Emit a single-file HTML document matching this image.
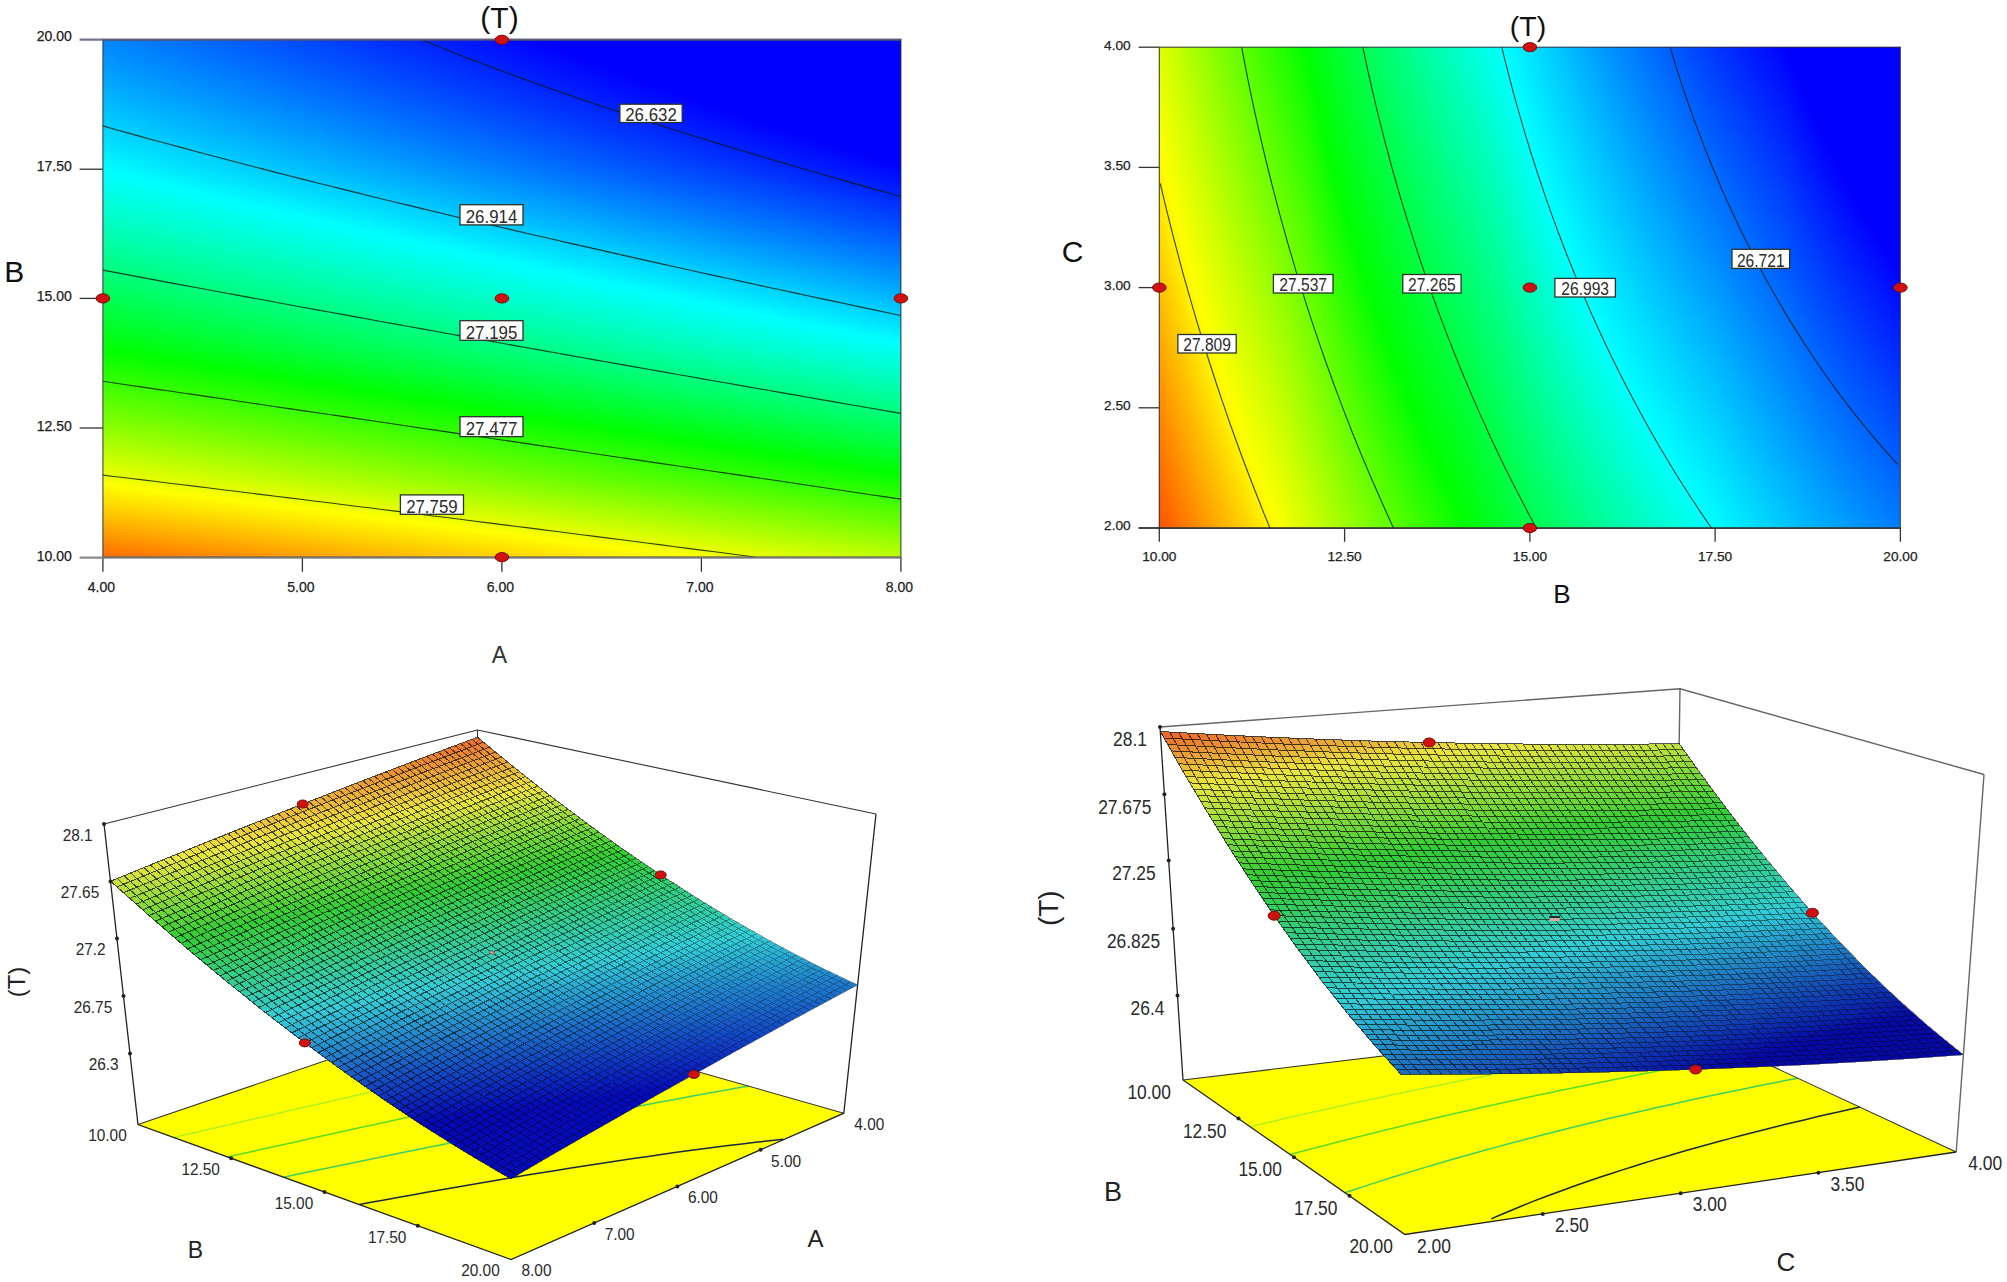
<!DOCTYPE html>
<html><head><meta charset="utf-8"><title>Figure</title>
<style>html,body{margin:0;padding:0;background:#fff}svg{display:block}text{font-family:"Liberation Sans",sans-serif}</style>
</head><body>
<svg width="2007" height="1282" viewBox="0 0 2007 1282">
<defs>
<linearGradient id="g1" ><stop offset="0" stop-color="#0088ff"/><stop offset=".549" stop-color="#0000ff"/><stop offset="1" stop-color="#0000ff"/></linearGradient>
<linearGradient id="g2" ><stop offset="0" stop-color="#008aff"/><stop offset=".558" stop-color="#0000ff"/><stop offset="1" stop-color="#0000ff"/></linearGradient>
<linearGradient id="g3" ><stop offset="0" stop-color="#008cff"/><stop offset=".568" stop-color="#0000ff"/><stop offset="1" stop-color="#0000ff"/></linearGradient>
<linearGradient id="g4" ><stop offset="0" stop-color="#008fff"/><stop offset=".577" stop-color="#0000ff"/><stop offset="1" stop-color="#0000ff"/></linearGradient>
<linearGradient id="g5" ><stop offset="0" stop-color="#0091ff"/><stop offset=".586" stop-color="#0000ff"/><stop offset="1" stop-color="#0000ff"/></linearGradient>
<linearGradient id="g6" ><stop offset="0" stop-color="#0093ff"/><stop offset=".596" stop-color="#0000ff"/><stop offset="1" stop-color="#0000ff"/></linearGradient>
<linearGradient id="g7" ><stop offset="0" stop-color="#0096ff"/><stop offset=".605" stop-color="#0000ff"/><stop offset="1" stop-color="#0000ff"/></linearGradient>
<linearGradient id="g8" ><stop offset="0" stop-color="#0098ff"/><stop offset=".615" stop-color="#0000ff"/><stop offset="1" stop-color="#0000ff"/></linearGradient>
<linearGradient id="g9" ><stop offset="0" stop-color="#009bff"/><stop offset=".625" stop-color="#0000ff"/><stop offset="1" stop-color="#0000ff"/></linearGradient>
<linearGradient id="g10" ><stop offset="0" stop-color="#009dff"/><stop offset=".634" stop-color="#0000ff"/><stop offset="1" stop-color="#0000ff"/></linearGradient>
<linearGradient id="g11" ><stop offset="0" stop-color="#00a0ff"/><stop offset=".644" stop-color="#0000ff"/><stop offset="1" stop-color="#0000ff"/></linearGradient>
<linearGradient id="g12" ><stop offset="0" stop-color="#00a2ff"/><stop offset=".654" stop-color="#0000ff"/><stop offset="1" stop-color="#0000ff"/></linearGradient>
<linearGradient id="g13" ><stop offset="0" stop-color="#00a5ff"/><stop offset=".664" stop-color="#0000ff"/><stop offset="1" stop-color="#0000ff"/></linearGradient>
<linearGradient id="g14" ><stop offset="0" stop-color="#00a7ff"/><stop offset=".674" stop-color="#0000ff"/><stop offset="1" stop-color="#0000ff"/></linearGradient>
<linearGradient id="g15" ><stop offset="0" stop-color="#00aaff"/><stop offset=".685" stop-color="#0000ff"/><stop offset="1" stop-color="#0000ff"/></linearGradient>
<linearGradient id="g16" ><stop offset="0" stop-color="#00acff"/><stop offset=".695" stop-color="#0000ff"/><stop offset="1" stop-color="#0000ff"/></linearGradient>
<linearGradient id="g17" ><stop offset="0" stop-color="#00afff"/><stop offset=".706" stop-color="#0000ff"/><stop offset="1" stop-color="#0000ff"/></linearGradient>
<linearGradient id="g18" ><stop offset="0" stop-color="#00b2ff"/><stop offset=".716" stop-color="#0000ff"/><stop offset="1" stop-color="#0000ff"/></linearGradient>
<linearGradient id="g19" ><stop offset="0" stop-color="#00b4ff"/><stop offset=".727" stop-color="#0000ff"/><stop offset="1" stop-color="#0000ff"/></linearGradient>
<linearGradient id="g20" ><stop offset="0" stop-color="#00b7ff"/><stop offset=".737" stop-color="#0000ff"/><stop offset="1" stop-color="#0000ff"/></linearGradient>
<linearGradient id="g21" ><stop offset="0" stop-color="#00baff"/><stop offset=".748" stop-color="#0000ff"/><stop offset="1" stop-color="#0000ff"/></linearGradient>
<linearGradient id="g22" ><stop offset="0" stop-color="#00bcff"/><stop offset=".759" stop-color="#0000ff"/><stop offset="1" stop-color="#0000ff"/></linearGradient>
<linearGradient id="g23" ><stop offset="0" stop-color="#00bfff"/><stop offset=".77" stop-color="#0000ff"/><stop offset="1" stop-color="#0000ff"/></linearGradient>
<linearGradient id="g24" ><stop offset="0" stop-color="#00c2ff"/><stop offset=".781" stop-color="#0000ff"/><stop offset="1" stop-color="#0000ff"/></linearGradient>
<linearGradient id="g25" ><stop offset="0" stop-color="#00c5ff"/><stop offset=".792" stop-color="#0000ff"/><stop offset="1" stop-color="#0000ff"/></linearGradient>
<linearGradient id="g26" ><stop offset="0" stop-color="#00c8ff"/><stop offset=".803" stop-color="#0000ff"/><stop offset="1" stop-color="#0000ff"/></linearGradient>
<linearGradient id="g27" ><stop offset="0" stop-color="#00cbff"/><stop offset=".815" stop-color="#0000ff"/><stop offset="1" stop-color="#0000ff"/></linearGradient>
<linearGradient id="g28" ><stop offset="0" stop-color="#00ceff"/><stop offset=".826" stop-color="#0000ff"/><stop offset="1" stop-color="#0000ff"/></linearGradient>
<linearGradient id="g29" ><stop offset="0" stop-color="#00d0ff"/><stop offset=".838" stop-color="#0000ff"/><stop offset="1" stop-color="#0000ff"/></linearGradient>
<linearGradient id="g30" ><stop offset="0" stop-color="#00d3ff"/><stop offset=".849" stop-color="#0000ff"/><stop offset="1" stop-color="#0000ff"/></linearGradient>
<linearGradient id="g31" ><stop offset="0" stop-color="#00d6ff"/><stop offset=".861" stop-color="#0000ff"/><stop offset="1" stop-color="#0000ff"/></linearGradient>
<linearGradient id="g32" ><stop offset="0" stop-color="#00d9ff"/><stop offset=".873" stop-color="#0000ff"/><stop offset="1" stop-color="#0000ff"/></linearGradient>
<linearGradient id="g33" ><stop offset="0" stop-color="#00dcff"/><stop offset=".884" stop-color="#0000ff"/><stop offset="1" stop-color="#0000ff"/></linearGradient>
<linearGradient id="g34" ><stop offset="0" stop-color="#00dfff"/><stop offset=".896" stop-color="#0000ff"/><stop offset="1" stop-color="#0000ff"/></linearGradient>
<linearGradient id="g35" ><stop offset="0" stop-color="#00e3ff"/><stop offset=".908" stop-color="#0000ff"/><stop offset="1" stop-color="#0000ff"/></linearGradient>
<linearGradient id="g36" ><stop offset="0" stop-color="#00e6ff"/><stop offset=".92" stop-color="#0000ff"/><stop offset="1" stop-color="#0000ff"/></linearGradient>
<linearGradient id="g37" ><stop offset="0" stop-color="#00e9ff"/><stop offset=".932" stop-color="#0000ff"/><stop offset="1" stop-color="#0000ff"/></linearGradient>
<linearGradient id="g38" ><stop offset="0" stop-color="#00ecff"/><stop offset=".945" stop-color="#0000ff"/><stop offset="1" stop-color="#0000ff"/></linearGradient>
<linearGradient id="g39" ><stop offset="0" stop-color="#00efff"/><stop offset=".957" stop-color="#0000ff"/><stop offset="1" stop-color="#0000ff"/></linearGradient>
<linearGradient id="g40" ><stop offset="0" stop-color="#00f2ff"/><stop offset=".969" stop-color="#0000ff"/><stop offset="1" stop-color="#0000ff"/></linearGradient>
<linearGradient id="g41" ><stop offset="0" stop-color="#00f6ff"/><stop offset=".982" stop-color="#0000ff"/><stop offset="1" stop-color="#0000ff"/></linearGradient>
<linearGradient id="g42" ><stop offset="0" stop-color="#00f9ff"/><stop offset=".994" stop-color="#0000ff"/><stop offset="1" stop-color="#0000ff"/></linearGradient>
<linearGradient id="g43" ><stop offset="0" stop-color="#00fcff"/><stop offset="1" stop-color="#0002ff"/></linearGradient>
<linearGradient id="g44" ><stop offset="0" stop-color="#00ffff"/><stop offset=".002" stop-color="#00ffff"/><stop offset="1" stop-color="#0006ff"/></linearGradient>
<linearGradient id="g45" ><stop offset="0" stop-color="#00fffb"/><stop offset=".017" stop-color="#00ffff"/><stop offset="1" stop-color="#0009ff"/></linearGradient>
<linearGradient id="g46" ><stop offset="0" stop-color="#00fff8"/><stop offset=".033" stop-color="#00ffff"/><stop offset="1" stop-color="#000dff"/></linearGradient>
<linearGradient id="g47" ><stop offset="0" stop-color="#00fff4"/><stop offset=".048" stop-color="#00ffff"/><stop offset="1" stop-color="#0010ff"/></linearGradient>
<linearGradient id="g48" ><stop offset="0" stop-color="#00fff0"/><stop offset=".064" stop-color="#00ffff"/><stop offset="1" stop-color="#0014ff"/></linearGradient>
<linearGradient id="g49" ><stop offset="0" stop-color="#00ffed"/><stop offset=".079" stop-color="#00ffff"/><stop offset="1" stop-color="#0018ff"/></linearGradient>
<linearGradient id="g50" ><stop offset="0" stop-color="#00ffe9"/><stop offset=".095" stop-color="#00ffff"/><stop offset="1" stop-color="#001cff"/></linearGradient>
<linearGradient id="g51" ><stop offset="0" stop-color="#00ffe6"/><stop offset=".111" stop-color="#00ffff"/><stop offset="1" stop-color="#001fff"/></linearGradient>
<linearGradient id="g52" ><stop offset="0" stop-color="#00ffe2"/><stop offset=".127" stop-color="#00ffff"/><stop offset="1" stop-color="#0023ff"/></linearGradient>
<linearGradient id="g53" ><stop offset="0" stop-color="#00ffde"/><stop offset=".142" stop-color="#00ffff"/><stop offset="1" stop-color="#0027ff"/></linearGradient>
<linearGradient id="g54" ><stop offset="0" stop-color="#00ffda"/><stop offset=".159" stop-color="#00ffff"/><stop offset="1" stop-color="#002bff"/></linearGradient>
<linearGradient id="g55" ><stop offset="0" stop-color="#00ffd7"/><stop offset=".175" stop-color="#00ffff"/><stop offset="1" stop-color="#002fff"/></linearGradient>
<linearGradient id="g56" ><stop offset="0" stop-color="#00ffd3"/><stop offset=".191" stop-color="#00ffff"/><stop offset="1" stop-color="#0033ff"/></linearGradient>
<linearGradient id="g57" ><stop offset="0" stop-color="#00ffcf"/><stop offset=".207" stop-color="#00ffff"/><stop offset="1" stop-color="#0036ff"/></linearGradient>
<linearGradient id="g58" ><stop offset="0" stop-color="#00ffcb"/><stop offset=".223" stop-color="#00ffff"/><stop offset="1" stop-color="#003aff"/></linearGradient>
<linearGradient id="g59" ><stop offset="0" stop-color="#00ffc7"/><stop offset=".24" stop-color="#00ffff"/><stop offset="1" stop-color="#003eff"/></linearGradient>
<linearGradient id="g60" ><stop offset="0" stop-color="#00ffc3"/><stop offset=".256" stop-color="#00ffff"/><stop offset="1" stop-color="#0042ff"/></linearGradient>
<linearGradient id="g61" ><stop offset="0" stop-color="#00ffc0"/><stop offset=".273" stop-color="#00ffff"/><stop offset="1" stop-color="#0046ff"/></linearGradient>
<linearGradient id="g62" ><stop offset="0" stop-color="#00ffbc"/><stop offset=".289" stop-color="#00ffff"/><stop offset="1" stop-color="#004aff"/></linearGradient>
<linearGradient id="g63" ><stop offset="0" stop-color="#00ffb8"/><stop offset=".306" stop-color="#00ffff"/><stop offset="1" stop-color="#004eff"/></linearGradient>
<linearGradient id="g64" ><stop offset="0" stop-color="#00ffb4"/><stop offset=".323" stop-color="#00ffff"/><stop offset="1" stop-color="#0053ff"/></linearGradient>
<linearGradient id="g65" ><stop offset="0" stop-color="#00ffb0"/><stop offset=".34" stop-color="#00ffff"/><stop offset="1" stop-color="#0057ff"/></linearGradient>
<linearGradient id="g66" ><stop offset="0" stop-color="#00ffac"/><stop offset=".357" stop-color="#00ffff"/><stop offset="1" stop-color="#005bff"/></linearGradient>
<linearGradient id="g67" ><stop offset="0" stop-color="#00ffa7"/><stop offset=".374" stop-color="#00ffff"/><stop offset="1" stop-color="#005fff"/></linearGradient>
<linearGradient id="g68" ><stop offset="0" stop-color="#00ffa3"/><stop offset=".391" stop-color="#00ffff"/><stop offset="1" stop-color="#0063ff"/></linearGradient>
<linearGradient id="g69" ><stop offset="0" stop-color="#00ff9f"/><stop offset=".408" stop-color="#00ffff"/><stop offset="1" stop-color="#0067ff"/></linearGradient>
<linearGradient id="g70" ><stop offset="0" stop-color="#00ff9b"/><stop offset=".425" stop-color="#00ffff"/><stop offset="1" stop-color="#006cff"/></linearGradient>
<linearGradient id="g71" ><stop offset="0" stop-color="#00ff97"/><stop offset=".442" stop-color="#00ffff"/><stop offset="1" stop-color="#0070ff"/></linearGradient>
<linearGradient id="g72" ><stop offset="0" stop-color="#00ff93"/><stop offset=".46" stop-color="#00ffff"/><stop offset="1" stop-color="#0074ff"/></linearGradient>
<linearGradient id="g73" ><stop offset="0" stop-color="#00ff8e"/><stop offset=".477" stop-color="#00ffff"/><stop offset="1" stop-color="#0079ff"/></linearGradient>
<linearGradient id="g74" ><stop offset="0" stop-color="#00ff8a"/><stop offset=".494" stop-color="#00ffff"/><stop offset="1" stop-color="#007dff"/></linearGradient>
<linearGradient id="g75" ><stop offset="0" stop-color="#00ff86"/><stop offset=".512" stop-color="#00ffff"/><stop offset="1" stop-color="#0081ff"/></linearGradient>
<linearGradient id="g76" ><stop offset="0" stop-color="#00ff82"/><stop offset=".529" stop-color="#00ffff"/><stop offset="1" stop-color="#0086ff"/></linearGradient>
<linearGradient id="g77" ><stop offset="0" stop-color="#00ff7d"/><stop offset=".547" stop-color="#00ffff"/><stop offset="1" stop-color="#008aff"/></linearGradient>
<linearGradient id="g78" ><stop offset="0" stop-color="#00ff79"/><stop offset=".565" stop-color="#00ffff"/><stop offset="1" stop-color="#008eff"/></linearGradient>
<linearGradient id="g79" ><stop offset="0" stop-color="#00ff74"/><stop offset=".583" stop-color="#00ffff"/><stop offset="1" stop-color="#0093ff"/></linearGradient>
<linearGradient id="g80" ><stop offset="0" stop-color="#00ff70"/><stop offset=".6" stop-color="#00ffff"/><stop offset="1" stop-color="#0097ff"/></linearGradient>
<linearGradient id="g81" ><stop offset="0" stop-color="#00ff6c"/><stop offset=".618" stop-color="#00ffff"/><stop offset="1" stop-color="#009cff"/></linearGradient>
<linearGradient id="g82" ><stop offset="0" stop-color="#00ff67"/><stop offset=".636" stop-color="#00ffff"/><stop offset="1" stop-color="#00a0ff"/></linearGradient>
<linearGradient id="g83" ><stop offset="0" stop-color="#00ff63"/><stop offset=".654" stop-color="#00ffff"/><stop offset="1" stop-color="#00a5ff"/></linearGradient>
<linearGradient id="g84" ><stop offset="0" stop-color="#00ff5e"/><stop offset=".672" stop-color="#00ffff"/><stop offset="1" stop-color="#00aaff"/></linearGradient>
<linearGradient id="g85" ><stop offset="0" stop-color="#00ff5a"/><stop offset=".69" stop-color="#00ffff"/><stop offset="1" stop-color="#00aeff"/></linearGradient>
<linearGradient id="g86" ><stop offset="0" stop-color="#00ff55"/><stop offset=".708" stop-color="#00ffff"/><stop offset="1" stop-color="#00b3ff"/></linearGradient>
<linearGradient id="g87" ><stop offset="0" stop-color="#00ff50"/><stop offset=".727" stop-color="#00ffff"/><stop offset="1" stop-color="#00b8ff"/></linearGradient>
<linearGradient id="g88" ><stop offset="0" stop-color="#00ff4c"/><stop offset=".745" stop-color="#00ffff"/><stop offset="1" stop-color="#00bcff"/></linearGradient>
<linearGradient id="g89" ><stop offset="0" stop-color="#00ff47"/><stop offset=".763" stop-color="#00ffff"/><stop offset="1" stop-color="#00c1ff"/></linearGradient>
<linearGradient id="g90" ><stop offset="0" stop-color="#00ff42"/><stop offset=".782" stop-color="#00ffff"/><stop offset="1" stop-color="#00c6ff"/></linearGradient>
<linearGradient id="g91" ><stop offset="0" stop-color="#00ff3e"/><stop offset=".8" stop-color="#00ffff"/><stop offset="1" stop-color="#00cbff"/></linearGradient>
<linearGradient id="g92" ><stop offset="0" stop-color="#00ff39"/><stop offset=".819" stop-color="#00ffff"/><stop offset="1" stop-color="#00cfff"/></linearGradient>
<linearGradient id="g93" ><stop offset="0" stop-color="#00ff34"/><stop offset=".837" stop-color="#00ffff"/><stop offset="1" stop-color="#00d4ff"/></linearGradient>
<linearGradient id="g94" ><stop offset="0" stop-color="#00ff2f"/><stop offset=".856" stop-color="#00ffff"/><stop offset="1" stop-color="#00d9ff"/></linearGradient>
<linearGradient id="g95" ><stop offset="0" stop-color="#00ff2b"/><stop offset=".874" stop-color="#00ffff"/><stop offset="1" stop-color="#00deff"/></linearGradient>
<linearGradient id="g96" ><stop offset="0" stop-color="#00ff26"/><stop offset=".893" stop-color="#00ffff"/><stop offset="1" stop-color="#00e3ff"/></linearGradient>
<linearGradient id="g97" ><stop offset="0" stop-color="#00ff21"/><stop offset=".912" stop-color="#00ffff"/><stop offset="1" stop-color="#00e8ff"/></linearGradient>
<linearGradient id="g98" ><stop offset="0" stop-color="#00ff1c"/><stop offset=".93" stop-color="#00ffff"/><stop offset="1" stop-color="#00edff"/></linearGradient>
<linearGradient id="g99" ><stop offset="0" stop-color="#00ff17"/><stop offset=".949" stop-color="#00ffff"/><stop offset="1" stop-color="#00f2ff"/></linearGradient>
<linearGradient id="g100" ><stop offset="0" stop-color="#00ff12"/><stop offset=".968" stop-color="#00ffff"/><stop offset="1" stop-color="#00f7ff"/></linearGradient>
<linearGradient id="g101" ><stop offset="0" stop-color="#00ff0d"/><stop offset=".987" stop-color="#00ffff"/><stop offset="1" stop-color="#00fcff"/></linearGradient>
<linearGradient id="g102" ><stop offset="0" stop-color="#00ff08"/><stop offset="1" stop-color="#00fffd"/></linearGradient>
<linearGradient id="g103" ><stop offset="0" stop-color="#00ff03"/><stop offset="1" stop-color="#00fff8"/></linearGradient>
<linearGradient id="g104" ><stop offset="0" stop-color="#02ff00"/><stop offset=".01" stop-color="#00ff00"/><stop offset="1" stop-color="#00fff3"/></linearGradient>
<linearGradient id="g105" ><stop offset="0" stop-color="#07ff00"/><stop offset=".034" stop-color="#00ff00"/><stop offset="1" stop-color="#00ffed"/></linearGradient>
<linearGradient id="g106" ><stop offset="0" stop-color="#0cff00"/><stop offset=".058" stop-color="#00ff00"/><stop offset="1" stop-color="#00ffe8"/></linearGradient>
<linearGradient id="g107" ><stop offset="0" stop-color="#11ff00"/><stop offset=".082" stop-color="#00ff00"/><stop offset="1" stop-color="#00ffe2"/></linearGradient>
<linearGradient id="g108" ><stop offset="0" stop-color="#17ff00"/><stop offset=".106" stop-color="#00ff00"/><stop offset="1" stop-color="#00ffdd"/></linearGradient>
<linearGradient id="g109" ><stop offset="0" stop-color="#1cff00"/><stop offset=".13" stop-color="#00ff00"/><stop offset="1" stop-color="#00ffd7"/></linearGradient>
<linearGradient id="g110" ><stop offset="0" stop-color="#21ff00"/><stop offset=".154" stop-color="#00ff00"/><stop offset="1" stop-color="#00ffd2"/></linearGradient>
<linearGradient id="g111" ><stop offset="0" stop-color="#26ff00"/><stop offset=".178" stop-color="#00ff00"/><stop offset="1" stop-color="#00ffcc"/></linearGradient>
<linearGradient id="g112" ><stop offset="0" stop-color="#2bff00"/><stop offset=".202" stop-color="#00ff00"/><stop offset="1" stop-color="#00ffc7"/></linearGradient>
<linearGradient id="g113" ><stop offset="0" stop-color="#31ff00"/><stop offset=".226" stop-color="#00ff00"/><stop offset="1" stop-color="#00ffc1"/></linearGradient>
<linearGradient id="g114" ><stop offset="0" stop-color="#36ff00"/><stop offset=".25" stop-color="#00ff00"/><stop offset="1" stop-color="#00ffbc"/></linearGradient>
<linearGradient id="g115" ><stop offset="0" stop-color="#3bff00"/><stop offset=".274" stop-color="#00ff00"/><stop offset="1" stop-color="#00ffb6"/></linearGradient>
<linearGradient id="g116" ><stop offset="0" stop-color="#41ff00"/><stop offset=".298" stop-color="#00ff00"/><stop offset="1" stop-color="#00ffb0"/></linearGradient>
<linearGradient id="g117" ><stop offset="0" stop-color="#46ff00"/><stop offset=".322" stop-color="#00ff00"/><stop offset="1" stop-color="#00ffab"/></linearGradient>
<linearGradient id="g118" ><stop offset="0" stop-color="#4cff00"/><stop offset=".346" stop-color="#00ff00"/><stop offset="1" stop-color="#00ffa5"/></linearGradient>
<linearGradient id="g119" ><stop offset="0" stop-color="#51ff00"/><stop offset=".37" stop-color="#00ff00"/><stop offset="1" stop-color="#00ff9f"/></linearGradient>
<linearGradient id="g120" ><stop offset="0" stop-color="#56ff00"/><stop offset=".394" stop-color="#00ff00"/><stop offset="1" stop-color="#00ff99"/></linearGradient>
<linearGradient id="g121" ><stop offset="0" stop-color="#5cff00"/><stop offset=".418" stop-color="#00ff00"/><stop offset="1" stop-color="#00ff94"/></linearGradient>
<linearGradient id="g122" ><stop offset="0" stop-color="#62ff00"/><stop offset=".443" stop-color="#00ff00"/><stop offset="1" stop-color="#00ff8e"/></linearGradient>
<linearGradient id="g123" ><stop offset="0" stop-color="#67ff00"/><stop offset=".467" stop-color="#00ff00"/><stop offset="1" stop-color="#00ff88"/></linearGradient>
<linearGradient id="g124" ><stop offset="0" stop-color="#6dff00"/><stop offset=".491" stop-color="#00ff00"/><stop offset="1" stop-color="#00ff82"/></linearGradient>
<linearGradient id="g125" ><stop offset="0" stop-color="#72ff00"/><stop offset=".515" stop-color="#00ff00"/><stop offset="1" stop-color="#00ff7c"/></linearGradient>
<linearGradient id="g126" ><stop offset="0" stop-color="#78ff00"/><stop offset=".539" stop-color="#00ff00"/><stop offset="1" stop-color="#00ff76"/></linearGradient>
<linearGradient id="g127" ><stop offset="0" stop-color="#7eff00"/><stop offset=".563" stop-color="#00ff00"/><stop offset="1" stop-color="#00ff70"/></linearGradient>
<linearGradient id="g128" ><stop offset="0" stop-color="#83ff00"/><stop offset=".587" stop-color="#00ff00"/><stop offset="1" stop-color="#00ff6a"/></linearGradient>
<linearGradient id="g129" ><stop offset="0" stop-color="#89ff00"/><stop offset=".611" stop-color="#00ff00"/><stop offset="1" stop-color="#00ff64"/></linearGradient>
<linearGradient id="g130" ><stop offset="0" stop-color="#8fff00"/><stop offset=".635" stop-color="#00ff00"/><stop offset="1" stop-color="#00ff5e"/></linearGradient>
<linearGradient id="g131" ><stop offset="0" stop-color="#94ff00"/><stop offset=".66" stop-color="#00ff00"/><stop offset="1" stop-color="#00ff58"/></linearGradient>
<linearGradient id="g132" ><stop offset="0" stop-color="#9aff00"/><stop offset=".684" stop-color="#00ff00"/><stop offset="1" stop-color="#00ff52"/></linearGradient>
<linearGradient id="g133" ><stop offset="0" stop-color="#a0ff00"/><stop offset=".708" stop-color="#00ff00"/><stop offset="1" stop-color="#00ff4c"/></linearGradient>
<linearGradient id="g134" ><stop offset="0" stop-color="#a6ff00"/><stop offset=".732" stop-color="#00ff00"/><stop offset="1" stop-color="#00ff46"/></linearGradient>
<linearGradient id="g135" ><stop offset="0" stop-color="#acff00"/><stop offset=".756" stop-color="#00ff00"/><stop offset="1" stop-color="#00ff40"/></linearGradient>
<linearGradient id="g136" ><stop offset="0" stop-color="#b2ff00"/><stop offset=".78" stop-color="#00ff00"/><stop offset="1" stop-color="#00ff39"/></linearGradient>
<linearGradient id="g137" ><stop offset="0" stop-color="#b8ff00"/><stop offset=".805" stop-color="#00ff00"/><stop offset="1" stop-color="#00ff33"/></linearGradient>
<linearGradient id="g138" ><stop offset="0" stop-color="#beff00"/><stop offset=".829" stop-color="#00ff00"/><stop offset="1" stop-color="#00ff2d"/></linearGradient>
<linearGradient id="g139" ><stop offset="0" stop-color="#c4ff00"/><stop offset=".853" stop-color="#00ff00"/><stop offset="1" stop-color="#00ff27"/></linearGradient>
<linearGradient id="g140" ><stop offset="0" stop-color="#caff00"/><stop offset=".877" stop-color="#00ff00"/><stop offset="1" stop-color="#00ff20"/></linearGradient>
<linearGradient id="g141" ><stop offset="0" stop-color="#d0ff00"/><stop offset=".901" stop-color="#00ff00"/><stop offset="1" stop-color="#00ff1a"/></linearGradient>
<linearGradient id="g142" ><stop offset="0" stop-color="#d6ff00"/><stop offset=".925" stop-color="#00ff00"/><stop offset="1" stop-color="#00ff14"/></linearGradient>
<linearGradient id="g143" ><stop offset="0" stop-color="#dcff00"/><stop offset=".95" stop-color="#00ff00"/><stop offset="1" stop-color="#00ff0d"/></linearGradient>
<linearGradient id="g144" ><stop offset="0" stop-color="#e2ff00"/><stop offset=".974" stop-color="#00ff00"/><stop offset="1" stop-color="#00ff07"/></linearGradient>
<linearGradient id="g145" ><stop offset="0" stop-color="#e8ff00"/><stop offset=".998" stop-color="#00ff00"/><stop offset="1" stop-color="#00ff01"/></linearGradient>
<linearGradient id="g146" ><stop offset="0" stop-color="#eeff00"/><stop offset="1" stop-color="#06ff00"/></linearGradient>
<linearGradient id="g147" ><stop offset="0" stop-color="#f4ff00"/><stop offset="1" stop-color="#0cff00"/></linearGradient>
<linearGradient id="g148" ><stop offset="0" stop-color="#fbff00"/><stop offset="1" stop-color="#13ff00"/></linearGradient>
<linearGradient id="g149" ><stop offset="0" stop-color="#fffd00"/><stop offset=".009" stop-color="#ffff00"/><stop offset="1" stop-color="#19ff00"/></linearGradient>
<linearGradient id="g150" ><stop offset="0" stop-color="#fff700"/><stop offset=".041" stop-color="#ffff00"/><stop offset="1" stop-color="#20ff00"/></linearGradient>
<linearGradient id="g151" ><stop offset="0" stop-color="#fff200"/><stop offset=".072" stop-color="#ffff00"/><stop offset="1" stop-color="#27ff00"/></linearGradient>
<linearGradient id="g152" ><stop offset="0" stop-color="#ffec00"/><stop offset=".103" stop-color="#ffff00"/><stop offset="1" stop-color="#2dff00"/></linearGradient>
<linearGradient id="g153" ><stop offset="0" stop-color="#ffe600"/><stop offset=".135" stop-color="#ffff00"/><stop offset="1" stop-color="#34ff00"/></linearGradient>
<linearGradient id="g154" ><stop offset="0" stop-color="#ffe000"/><stop offset=".166" stop-color="#ffff00"/><stop offset="1" stop-color="#3bff00"/></linearGradient>
<linearGradient id="g155" ><stop offset="0" stop-color="#ffda00"/><stop offset=".197" stop-color="#ffff00"/><stop offset="1" stop-color="#41ff00"/></linearGradient>
<linearGradient id="g156" ><stop offset="0" stop-color="#ffd400"/><stop offset=".228" stop-color="#ffff00"/><stop offset="1" stop-color="#48ff00"/></linearGradient>
<linearGradient id="g157" ><stop offset="0" stop-color="#ffce00"/><stop offset=".259" stop-color="#ffff00"/><stop offset="1" stop-color="#4fff00"/></linearGradient>
<linearGradient id="g158" ><stop offset="0" stop-color="#ffc800"/><stop offset=".289" stop-color="#ffff00"/><stop offset="1" stop-color="#56ff00"/></linearGradient>
<linearGradient id="g159" ><stop offset="0" stop-color="#ffc200"/><stop offset=".32" stop-color="#ffff00"/><stop offset="1" stop-color="#5cff00"/></linearGradient>
<linearGradient id="g160" ><stop offset="0" stop-color="#ffbc00"/><stop offset=".35" stop-color="#ffff00"/><stop offset="1" stop-color="#63ff00"/></linearGradient>
<linearGradient id="g161" ><stop offset="0" stop-color="#ffb600"/><stop offset=".381" stop-color="#ffff00"/><stop offset="1" stop-color="#6aff00"/></linearGradient>
<linearGradient id="g162" ><stop offset="0" stop-color="#ffb000"/><stop offset=".411" stop-color="#ffff00"/><stop offset="1" stop-color="#71ff00"/></linearGradient>
<linearGradient id="g163" ><stop offset="0" stop-color="#ffa900"/><stop offset=".442" stop-color="#ffff00"/><stop offset="1" stop-color="#78ff00"/></linearGradient>
<linearGradient id="g164" ><stop offset="0" stop-color="#ffa300"/><stop offset=".472" stop-color="#ffff00"/><stop offset="1" stop-color="#7fff00"/></linearGradient>
<linearGradient id="g165" ><stop offset="0" stop-color="#ff9d00"/><stop offset=".502" stop-color="#ffff00"/><stop offset="1" stop-color="#86ff00"/></linearGradient>
<linearGradient id="g166" ><stop offset="0" stop-color="#ff9700"/><stop offset=".532" stop-color="#ffff00"/><stop offset="1" stop-color="#8dff00"/></linearGradient>
<linearGradient id="g167" ><stop offset="0" stop-color="#ff9100"/><stop offset=".562" stop-color="#ffff00"/><stop offset="1" stop-color="#94ff00"/></linearGradient>
<linearGradient id="g168" ><stop offset="0" stop-color="#ff8a00"/><stop offset=".592" stop-color="#ffff00"/><stop offset="1" stop-color="#9bff00"/></linearGradient>
<linearGradient id="g169" ><stop offset="0" stop-color="#ff8400"/><stop offset=".622" stop-color="#ffff00"/><stop offset="1" stop-color="#a2ff00"/></linearGradient>
<linearGradient id="g170" ><stop offset="0" stop-color="#ff7e00"/><stop offset=".652" stop-color="#ffff00"/><stop offset="1" stop-color="#a9ff00"/></linearGradient>
<linearGradient id="g171" ><stop offset="0" stop-color="#ff7700"/><stop offset=".681" stop-color="#ffff00"/><stop offset="1" stop-color="#b0ff00"/></linearGradient>
<linearGradient id="g172" ><stop offset="0" stop-color="#ff7100"/><stop offset=".711" stop-color="#ffff00"/><stop offset="1" stop-color="#b7ff00"/></linearGradient>
<linearGradient id="g173" ><stop offset="0" stop-color="#ff6d00"/><stop offset=".731" stop-color="#ffff00"/><stop offset="1" stop-color="#bcff00"/></linearGradient>
<linearGradient id="g174" x2="0" y2="1"><stop offset="0" stop-color="#ddff00"/><stop offset=".217" stop-color="#ffff00"/><stop offset="1" stop-color="#ff5400"/></linearGradient>
<linearGradient id="g175" x2="0" y2="1"><stop offset="0" stop-color="#d9ff00"/><stop offset=".245" stop-color="#ffff00"/><stop offset="1" stop-color="#ff5900"/></linearGradient>
<linearGradient id="g176" x2="0" y2="1"><stop offset="0" stop-color="#d4ff00"/><stop offset=".272" stop-color="#ffff00"/><stop offset="1" stop-color="#ff5d00"/></linearGradient>
<linearGradient id="g177" x2="0" y2="1"><stop offset="0" stop-color="#cfff00"/><stop offset=".299" stop-color="#ffff00"/><stop offset="1" stop-color="#ff6200"/></linearGradient>
<linearGradient id="g178" x2="0" y2="1"><stop offset="0" stop-color="#caff00"/><stop offset=".325" stop-color="#ffff00"/><stop offset="1" stop-color="#ff6600"/></linearGradient>
<linearGradient id="g179" x2="0" y2="1"><stop offset="0" stop-color="#c5ff00"/><stop offset=".35" stop-color="#ffff00"/><stop offset="1" stop-color="#ff6b00"/></linearGradient>
<linearGradient id="g180" x2="0" y2="1"><stop offset="0" stop-color="#c0ff00"/><stop offset=".375" stop-color="#ffff00"/><stop offset="1" stop-color="#ff6f00"/></linearGradient>
<linearGradient id="g181" x2="0" y2="1"><stop offset="0" stop-color="#bcff00"/><stop offset=".399" stop-color="#ffff00"/><stop offset="1" stop-color="#ff7400"/></linearGradient>
<linearGradient id="g182" x2="0" y2="1"><stop offset="0" stop-color="#b7ff00"/><stop offset=".423" stop-color="#ffff00"/><stop offset="1" stop-color="#ff7800"/></linearGradient>
<linearGradient id="g183" x2="0" y2="1"><stop offset="0" stop-color="#b2ff00"/><stop offset=".446" stop-color="#ffff00"/><stop offset="1" stop-color="#ff7d00"/></linearGradient>
<linearGradient id="g184" x2="0" y2="1"><stop offset="0" stop-color="#adff00"/><stop offset=".469" stop-color="#ffff00"/><stop offset="1" stop-color="#ff8100"/></linearGradient>
<linearGradient id="g185" x2="0" y2="1"><stop offset="0" stop-color="#a8ff00"/><stop offset=".491" stop-color="#ffff00"/><stop offset="1" stop-color="#ff8600"/></linearGradient>
<linearGradient id="g186" x2="0" y2="1"><stop offset="0" stop-color="#a4ff00"/><stop offset=".513" stop-color="#ffff00"/><stop offset="1" stop-color="#ff8a00"/></linearGradient>
<linearGradient id="g187" x2="0" y2="1"><stop offset="0" stop-color="#9fff00"/><stop offset=".535" stop-color="#ffff00"/><stop offset="1" stop-color="#ff8f00"/></linearGradient>
<linearGradient id="g188" x2="0" y2="1"><stop offset="0" stop-color="#9aff00"/><stop offset=".556" stop-color="#ffff00"/><stop offset="1" stop-color="#ff9300"/></linearGradient>
<linearGradient id="g189" x2="0" y2="1"><stop offset="0" stop-color="#95ff00"/><stop offset=".577" stop-color="#ffff00"/><stop offset="1" stop-color="#ff9700"/></linearGradient>
<linearGradient id="g190" x2="0" y2="1"><stop offset="0" stop-color="#91ff00"/><stop offset=".597" stop-color="#ffff00"/><stop offset="1" stop-color="#ff9c00"/></linearGradient>
<linearGradient id="g191" x2="0" y2="1"><stop offset="0" stop-color="#8cff00"/><stop offset=".617" stop-color="#ffff00"/><stop offset="1" stop-color="#ffa000"/></linearGradient>
<linearGradient id="g192" x2="0" y2="1"><stop offset="0" stop-color="#87ff00"/><stop offset=".637" stop-color="#ffff00"/><stop offset="1" stop-color="#ffa500"/></linearGradient>
<linearGradient id="g193" x2="0" y2="1"><stop offset="0" stop-color="#83ff00"/><stop offset=".657" stop-color="#ffff00"/><stop offset="1" stop-color="#ffa900"/></linearGradient>
<linearGradient id="g194" x2="0" y2="1"><stop offset="0" stop-color="#7eff00"/><stop offset=".676" stop-color="#ffff00"/><stop offset="1" stop-color="#ffad00"/></linearGradient>
<linearGradient id="g195" x2="0" y2="1"><stop offset="0" stop-color="#7aff00"/><stop offset=".695" stop-color="#ffff00"/><stop offset="1" stop-color="#ffb200"/></linearGradient>
<linearGradient id="g196" x2="0" y2="1"><stop offset="0" stop-color="#75ff00"/><stop offset=".714" stop-color="#ffff00"/><stop offset="1" stop-color="#ffb600"/></linearGradient>
<linearGradient id="g197" x2="0" y2="1"><stop offset="0" stop-color="#70ff00"/><stop offset=".732" stop-color="#ffff00"/><stop offset="1" stop-color="#ffba00"/></linearGradient>
<linearGradient id="g198" x2="0" y2="1"><stop offset="0" stop-color="#6cff00"/><stop offset=".75" stop-color="#ffff00"/><stop offset="1" stop-color="#ffbf00"/></linearGradient>
<linearGradient id="g199" x2="0" y2="1"><stop offset="0" stop-color="#67ff00"/><stop offset=".768" stop-color="#ffff00"/><stop offset="1" stop-color="#ffc300"/></linearGradient>
<linearGradient id="g200" x2="0" y2="1"><stop offset="0" stop-color="#63ff00"/><stop offset=".786" stop-color="#ffff00"/><stop offset="1" stop-color="#ffc700"/></linearGradient>
<linearGradient id="g201" x2="0" y2="1"><stop offset="0" stop-color="#5eff00"/><stop offset=".803" stop-color="#ffff00"/><stop offset="1" stop-color="#ffcc00"/></linearGradient>
<linearGradient id="g202" x2="0" y2="1"><stop offset="0" stop-color="#59ff00"/><stop offset=".82" stop-color="#ffff00"/><stop offset="1" stop-color="#ffd000"/></linearGradient>
<linearGradient id="g203" x2="0" y2="1"><stop offset="0" stop-color="#55ff00"/><stop offset=".837" stop-color="#ffff00"/><stop offset="1" stop-color="#ffd400"/></linearGradient>
<linearGradient id="g204" x2="0" y2="1"><stop offset="0" stop-color="#50ff00"/><stop offset=".854" stop-color="#ffff00"/><stop offset="1" stop-color="#ffd800"/></linearGradient>
<linearGradient id="g205" x2="0" y2="1"><stop offset="0" stop-color="#4cff00"/><stop offset=".871" stop-color="#ffff00"/><stop offset="1" stop-color="#ffdd00"/></linearGradient>
<linearGradient id="g206" x2="0" y2="1"><stop offset="0" stop-color="#47ff00"/><stop offset=".887" stop-color="#ffff00"/><stop offset="1" stop-color="#ffe100"/></linearGradient>
<linearGradient id="g207" x2="0" y2="1"><stop offset="0" stop-color="#43ff00"/><stop offset=".903" stop-color="#ffff00"/><stop offset="1" stop-color="#ffe500"/></linearGradient>
<linearGradient id="g208" x2="0" y2="1"><stop offset="0" stop-color="#3eff00"/><stop offset=".919" stop-color="#ffff00"/><stop offset="1" stop-color="#ffe900"/></linearGradient>
<linearGradient id="g209" x2="0" y2="1"><stop offset="0" stop-color="#3aff00"/><stop offset=".935" stop-color="#ffff00"/><stop offset="1" stop-color="#ffed00"/></linearGradient>
<linearGradient id="g210" x2="0" y2="1"><stop offset="0" stop-color="#36ff00"/><stop offset=".95" stop-color="#ffff00"/><stop offset="1" stop-color="#fff200"/></linearGradient>
<linearGradient id="g211" x2="0" y2="1"><stop offset="0" stop-color="#31ff00"/><stop offset=".966" stop-color="#ffff00"/><stop offset="1" stop-color="#fff600"/></linearGradient>
<linearGradient id="g212" x2="0" y2="1"><stop offset="0" stop-color="#2dff00"/><stop offset=".981" stop-color="#ffff00"/><stop offset="1" stop-color="#fffa00"/></linearGradient>
<linearGradient id="g213" x2="0" y2="1"><stop offset="0" stop-color="#28ff00"/><stop offset=".996" stop-color="#ffff00"/><stop offset="1" stop-color="#fffe00"/></linearGradient>
<linearGradient id="g214" x2="0" y2="1"><stop offset="0" stop-color="#24ff00"/><stop offset="1" stop-color="#fcff00"/></linearGradient>
<linearGradient id="g215" x2="0" y2="1"><stop offset="0" stop-color="#1fff00"/><stop offset="1" stop-color="#f7ff00"/></linearGradient>
<linearGradient id="g216" x2="0" y2="1"><stop offset="0" stop-color="#1bff00"/><stop offset="1" stop-color="#f3ff00"/></linearGradient>
<linearGradient id="g217" x2="0" y2="1"><stop offset="0" stop-color="#17ff00"/><stop offset="1" stop-color="#eeff00"/></linearGradient>
<linearGradient id="g218" x2="0" y2="1"><stop offset="0" stop-color="#12ff00"/><stop offset="1" stop-color="#eaff00"/></linearGradient>
<linearGradient id="g219" x2="0" y2="1"><stop offset="0" stop-color="#0eff00"/><stop offset="1" stop-color="#e6ff00"/></linearGradient>
<linearGradient id="g220" x2="0" y2="1"><stop offset="0" stop-color="#0aff00"/><stop offset="1" stop-color="#e1ff00"/></linearGradient>
<linearGradient id="g221" x2="0" y2="1"><stop offset="0" stop-color="#05ff00"/><stop offset="1" stop-color="#ddff00"/></linearGradient>
<linearGradient id="g222" x2="0" y2="1"><stop offset="0" stop-color="#01ff00"/><stop offset="1" stop-color="#d9ff00"/></linearGradient>
<linearGradient id="g223" x2="0" y2="1"><stop offset="0" stop-color="#00ff03"/><stop offset=".022" stop-color="#00ff00"/><stop offset="1" stop-color="#d4ff00"/></linearGradient>
<linearGradient id="g224" x2="0" y2="1"><stop offset="0" stop-color="#00ff07"/><stop offset=".053" stop-color="#00ff00"/><stop offset="1" stop-color="#d0ff00"/></linearGradient>
<linearGradient id="g225" x2="0" y2="1"><stop offset="0" stop-color="#00ff0c"/><stop offset=".082" stop-color="#00ff00"/><stop offset="1" stop-color="#ccff00"/></linearGradient>
<linearGradient id="g226" x2="0" y2="1"><stop offset="0" stop-color="#00ff10"/><stop offset=".11" stop-color="#00ff00"/><stop offset="1" stop-color="#c7ff00"/></linearGradient>
<linearGradient id="g227" x2="0" y2="1"><stop offset="0" stop-color="#00ff14"/><stop offset=".137" stop-color="#00ff00"/><stop offset="1" stop-color="#c3ff00"/></linearGradient>
<linearGradient id="g228" x2="0" y2="1"><stop offset="0" stop-color="#00ff18"/><stop offset=".164" stop-color="#00ff00"/><stop offset="1" stop-color="#bfff00"/></linearGradient>
<linearGradient id="g229" x2="0" y2="1"><stop offset="0" stop-color="#00ff1c"/><stop offset=".19" stop-color="#00ff00"/><stop offset="1" stop-color="#bbff00"/></linearGradient>
<linearGradient id="g230" x2="0" y2="1"><stop offset="0" stop-color="#00ff21"/><stop offset=".215" stop-color="#00ff00"/><stop offset="1" stop-color="#b7ff00"/></linearGradient>
<linearGradient id="g231" x2="0" y2="1"><stop offset="0" stop-color="#00ff25"/><stop offset=".239" stop-color="#00ff00"/><stop offset="1" stop-color="#b2ff00"/></linearGradient>
<linearGradient id="g232" x2="0" y2="1"><stop offset="0" stop-color="#00ff29"/><stop offset=".263" stop-color="#00ff00"/><stop offset="1" stop-color="#aeff00"/></linearGradient>
<linearGradient id="g233" x2="0" y2="1"><stop offset="0" stop-color="#00ff2d"/><stop offset=".286" stop-color="#00ff00"/><stop offset="1" stop-color="#aaff00"/></linearGradient>
<linearGradient id="g234" x2="0" y2="1"><stop offset="0" stop-color="#00ff31"/><stop offset=".309" stop-color="#00ff00"/><stop offset="1" stop-color="#a6ff00"/></linearGradient>
<linearGradient id="g235" x2="0" y2="1"><stop offset="0" stop-color="#00ff35"/><stop offset=".331" stop-color="#00ff00"/><stop offset="1" stop-color="#a2ff00"/></linearGradient>
<linearGradient id="g236" x2="0" y2="1"><stop offset="0" stop-color="#00ff3a"/><stop offset=".353" stop-color="#00ff00"/><stop offset="1" stop-color="#9dff00"/></linearGradient>
<linearGradient id="g237" x2="0" y2="1"><stop offset="0" stop-color="#00ff3e"/><stop offset=".374" stop-color="#00ff00"/><stop offset="1" stop-color="#99ff00"/></linearGradient>
<linearGradient id="g238" x2="0" y2="1"><stop offset="0" stop-color="#00ff42"/><stop offset=".395" stop-color="#00ff00"/><stop offset="1" stop-color="#95ff00"/></linearGradient>
<linearGradient id="g239" x2="0" y2="1"><stop offset="0" stop-color="#00ff46"/><stop offset=".415" stop-color="#00ff00"/><stop offset="1" stop-color="#91ff00"/></linearGradient>
<linearGradient id="g240" x2="0" y2="1"><stop offset="0" stop-color="#00ff4a"/><stop offset=".436" stop-color="#00ff00"/><stop offset="1" stop-color="#8dff00"/></linearGradient>
<linearGradient id="g241" x2="0" y2="1"><stop offset="0" stop-color="#00ff4e"/><stop offset=".455" stop-color="#00ff00"/><stop offset="1" stop-color="#89ff00"/></linearGradient>
<linearGradient id="g242" x2="0" y2="1"><stop offset="0" stop-color="#00ff52"/><stop offset=".475" stop-color="#00ff00"/><stop offset="1" stop-color="#85ff00"/></linearGradient>
<linearGradient id="g243" x2="0" y2="1"><stop offset="0" stop-color="#00ff56"/><stop offset=".494" stop-color="#00ff00"/><stop offset="1" stop-color="#81ff00"/></linearGradient>
<linearGradient id="g244" x2="0" y2="1"><stop offset="0" stop-color="#00ff5a"/><stop offset=".512" stop-color="#00ff00"/><stop offset="1" stop-color="#7dff00"/></linearGradient>
<linearGradient id="g245" x2="0" y2="1"><stop offset="0" stop-color="#00ff5e"/><stop offset=".531" stop-color="#00ff00"/><stop offset="1" stop-color="#79ff00"/></linearGradient>
<linearGradient id="g246" x2="0" y2="1"><stop offset="0" stop-color="#00ff62"/><stop offset=".549" stop-color="#00ff00"/><stop offset="1" stop-color="#75ff00"/></linearGradient>
<linearGradient id="g247" x2="0" y2="1"><stop offset="0" stop-color="#00ff66"/><stop offset=".567" stop-color="#00ff00"/><stop offset="1" stop-color="#71ff00"/></linearGradient>
<linearGradient id="g248" x2="0" y2="1"><stop offset="0" stop-color="#00ff6a"/><stop offset=".585" stop-color="#00ff00"/><stop offset="1" stop-color="#6dff00"/></linearGradient>
<linearGradient id="g249" x2="0" y2="1"><stop offset="0" stop-color="#00ff6e"/><stop offset=".602" stop-color="#00ff00"/><stop offset="1" stop-color="#69ff00"/></linearGradient>
<linearGradient id="g250" x2="0" y2="1"><stop offset="0" stop-color="#00ff72"/><stop offset=".619" stop-color="#00ff00"/><stop offset="1" stop-color="#65ff00"/></linearGradient>
<linearGradient id="g251" x2="0" y2="1"><stop offset="0" stop-color="#00ff76"/><stop offset=".636" stop-color="#00ff00"/><stop offset="1" stop-color="#61ff00"/></linearGradient>
<linearGradient id="g252" x2="0" y2="1"><stop offset="0" stop-color="#00ff7a"/><stop offset=".652" stop-color="#00ff00"/><stop offset="1" stop-color="#5dff00"/></linearGradient>
<linearGradient id="g253" x2="0" y2="1"><stop offset="0" stop-color="#00ff7e"/><stop offset=".669" stop-color="#00ff00"/><stop offset="1" stop-color="#59ff00"/></linearGradient>
<linearGradient id="g254" x2="0" y2="1"><stop offset="0" stop-color="#00ff81"/><stop offset=".685" stop-color="#00ff00"/><stop offset="1" stop-color="#55ff00"/></linearGradient>
<linearGradient id="g255" x2="0" y2="1"><stop offset="0" stop-color="#00ff85"/><stop offset=".701" stop-color="#00ff00"/><stop offset="1" stop-color="#51ff00"/></linearGradient>
<linearGradient id="g256" x2="0" y2="1"><stop offset="0" stop-color="#00ff89"/><stop offset=".716" stop-color="#00ff00"/><stop offset="1" stop-color="#4dff00"/></linearGradient>
<linearGradient id="g257" x2="0" y2="1"><stop offset="0" stop-color="#00ff8d"/><stop offset=".732" stop-color="#00ff00"/><stop offset="1" stop-color="#49ff00"/></linearGradient>
<linearGradient id="g258" x2="0" y2="1"><stop offset="0" stop-color="#00ff91"/><stop offset=".747" stop-color="#00ff00"/><stop offset="1" stop-color="#45ff00"/></linearGradient>
<linearGradient id="g259" x2="0" y2="1"><stop offset="0" stop-color="#00ff95"/><stop offset=".762" stop-color="#00ff00"/><stop offset="1" stop-color="#41ff00"/></linearGradient>
<linearGradient id="g260" x2="0" y2="1"><stop offset="0" stop-color="#00ff98"/><stop offset=".777" stop-color="#00ff00"/><stop offset="1" stop-color="#3eff00"/></linearGradient>
<linearGradient id="g261" x2="0" y2="1"><stop offset="0" stop-color="#00ff9c"/><stop offset=".792" stop-color="#00ff00"/><stop offset="1" stop-color="#3aff00"/></linearGradient>
<linearGradient id="g262" x2="0" y2="1"><stop offset="0" stop-color="#00ffa0"/><stop offset=".806" stop-color="#00ff00"/><stop offset="1" stop-color="#36ff00"/></linearGradient>
<linearGradient id="g263" x2="0" y2="1"><stop offset="0" stop-color="#00ffa4"/><stop offset=".821" stop-color="#00ff00"/><stop offset="1" stop-color="#32ff00"/></linearGradient>
<linearGradient id="g264" x2="0" y2="1"><stop offset="0" stop-color="#00ffa8"/><stop offset=".835" stop-color="#00ff00"/><stop offset="1" stop-color="#2eff00"/></linearGradient>
<linearGradient id="g265" x2="0" y2="1"><stop offset="0" stop-color="#00ffab"/><stop offset=".849" stop-color="#00ff00"/><stop offset="1" stop-color="#2bff00"/></linearGradient>
<linearGradient id="g266" x2="0" y2="1"><stop offset="0" stop-color="#00ffaf"/><stop offset=".863" stop-color="#00ff00"/><stop offset="1" stop-color="#27ff00"/></linearGradient>
<linearGradient id="g267" x2="0" y2="1"><stop offset="0" stop-color="#00ffb3"/><stop offset=".877" stop-color="#00ff00"/><stop offset="1" stop-color="#23ff00"/></linearGradient>
<linearGradient id="g268" x2="0" y2="1"><stop offset="0" stop-color="#00ffb6"/><stop offset=".89" stop-color="#00ff00"/><stop offset="1" stop-color="#1fff00"/></linearGradient>
<linearGradient id="g269" x2="0" y2="1"><stop offset="0" stop-color="#00ffba"/><stop offset=".904" stop-color="#00ff00"/><stop offset="1" stop-color="#1cff00"/></linearGradient>
<linearGradient id="g270" x2="0" y2="1"><stop offset="0" stop-color="#00ffbe"/><stop offset=".917" stop-color="#00ff00"/><stop offset="1" stop-color="#18ff00"/></linearGradient>
<linearGradient id="g271" x2="0" y2="1"><stop offset="0" stop-color="#00ffc1"/><stop offset=".93" stop-color="#00ff00"/><stop offset="1" stop-color="#14ff00"/></linearGradient>
<linearGradient id="g272" x2="0" y2="1"><stop offset="0" stop-color="#00ffc5"/><stop offset=".943" stop-color="#00ff00"/><stop offset="1" stop-color="#10ff00"/></linearGradient>
<linearGradient id="g273" x2="0" y2="1"><stop offset="0" stop-color="#00ffc9"/><stop offset=".956" stop-color="#00ff00"/><stop offset="1" stop-color="#0dff00"/></linearGradient>
<linearGradient id="g274" x2="0" y2="1"><stop offset="0" stop-color="#00ffcc"/><stop offset=".969" stop-color="#00ff00"/><stop offset="1" stop-color="#09ff00"/></linearGradient>
<linearGradient id="g275" x2="0" y2="1"><stop offset="0" stop-color="#00ffd0"/><stop offset=".982" stop-color="#00ff00"/><stop offset="1" stop-color="#05ff00"/></linearGradient>
<linearGradient id="g276" x2="0" y2="1"><stop offset="0" stop-color="#00ffd4"/><stop offset=".994" stop-color="#00ff00"/><stop offset="1" stop-color="#02ff00"/></linearGradient>
<linearGradient id="g277" x2="0" y2="1"><stop offset="0" stop-color="#00ffd7"/><stop offset="1" stop-color="#00ff02"/></linearGradient>
<linearGradient id="g278" x2="0" y2="1"><stop offset="0" stop-color="#00ffdb"/><stop offset="1" stop-color="#00ff06"/></linearGradient>
<linearGradient id="g279" x2="0" y2="1"><stop offset="0" stop-color="#00ffde"/><stop offset="1" stop-color="#00ff09"/></linearGradient>
<linearGradient id="g280" x2="0" y2="1"><stop offset="0" stop-color="#00ffe2"/><stop offset="1" stop-color="#00ff0d"/></linearGradient>
<linearGradient id="g281" x2="0" y2="1"><stop offset="0" stop-color="#00ffe5"/><stop offset="1" stop-color="#00ff10"/></linearGradient>
<linearGradient id="g282" x2="0" y2="1"><stop offset="0" stop-color="#00ffe9"/><stop offset="1" stop-color="#00ff14"/></linearGradient>
<linearGradient id="g283" x2="0" y2="1"><stop offset="0" stop-color="#00ffed"/><stop offset="1" stop-color="#00ff17"/></linearGradient>
<linearGradient id="g284" x2="0" y2="1"><stop offset="0" stop-color="#00fff0"/><stop offset="1" stop-color="#00ff1b"/></linearGradient>
<linearGradient id="g285" x2="0" y2="1"><stop offset="0" stop-color="#00fff3"/><stop offset="1" stop-color="#00ff1e"/></linearGradient>
<linearGradient id="g286" x2="0" y2="1"><stop offset="0" stop-color="#00fff7"/><stop offset="1" stop-color="#00ff22"/></linearGradient>
<linearGradient id="g287" x2="0" y2="1"><stop offset="0" stop-color="#00fffa"/><stop offset="1" stop-color="#00ff25"/></linearGradient>
<linearGradient id="g288" x2="0" y2="1"><stop offset="0" stop-color="#00fffe"/><stop offset="1" stop-color="#00ff29"/></linearGradient>
<linearGradient id="g289" x2="0" y2="1"><stop offset="0" stop-color="#00fdff"/><stop offset=".017" stop-color="#00ffff"/><stop offset="1" stop-color="#00ff2c"/></linearGradient>
<linearGradient id="g290" x2="0" y2="1"><stop offset="0" stop-color="#00faff"/><stop offset=".042" stop-color="#00ffff"/><stop offset="1" stop-color="#00ff30"/></linearGradient>
<linearGradient id="g291" x2="0" y2="1"><stop offset="0" stop-color="#00f6ff"/><stop offset=".066" stop-color="#00ffff"/><stop offset="1" stop-color="#00ff33"/></linearGradient>
<linearGradient id="g292" x2="0" y2="1"><stop offset="0" stop-color="#00f3ff"/><stop offset=".09" stop-color="#00ffff"/><stop offset="1" stop-color="#00ff37"/></linearGradient>
<linearGradient id="g293" x2="0" y2="1"><stop offset="0" stop-color="#00f0ff"/><stop offset=".113" stop-color="#00ffff"/><stop offset="1" stop-color="#00ff3a"/></linearGradient>
<linearGradient id="g294" x2="0" y2="1"><stop offset="0" stop-color="#00edff"/><stop offset=".135" stop-color="#00ffff"/><stop offset="1" stop-color="#00ff3e"/></linearGradient>
<linearGradient id="g295" x2="0" y2="1"><stop offset="0" stop-color="#00e9ff"/><stop offset=".156" stop-color="#00ffff"/><stop offset="1" stop-color="#00ff41"/></linearGradient>
<linearGradient id="g296" x2="0" y2="1"><stop offset="0" stop-color="#00e6ff"/><stop offset=".177" stop-color="#00ffff"/><stop offset="1" stop-color="#00ff44"/></linearGradient>
<linearGradient id="g297" x2="0" y2="1"><stop offset="0" stop-color="#00e3ff"/><stop offset=".198" stop-color="#00ffff"/><stop offset="1" stop-color="#00ff48"/></linearGradient>
<linearGradient id="g298" x2="0" y2="1"><stop offset="0" stop-color="#00e0ff"/><stop offset=".218" stop-color="#00ffff"/><stop offset="1" stop-color="#00ff4b"/></linearGradient>
<linearGradient id="g299" x2="0" y2="1"><stop offset="0" stop-color="#00ddff"/><stop offset=".238" stop-color="#00ffff"/><stop offset="1" stop-color="#00ff4f"/></linearGradient>
<linearGradient id="g300" x2="0" y2="1"><stop offset="0" stop-color="#00daff"/><stop offset=".257" stop-color="#00ffff"/><stop offset="1" stop-color="#00ff52"/></linearGradient>
<linearGradient id="g301" x2="0" y2="1"><stop offset="0" stop-color="#00d6ff"/><stop offset=".276" stop-color="#00ffff"/><stop offset="1" stop-color="#00ff55"/></linearGradient>
<linearGradient id="g302" x2="0" y2="1"><stop offset="0" stop-color="#00d3ff"/><stop offset=".294" stop-color="#00ffff"/><stop offset="1" stop-color="#00ff59"/></linearGradient>
<linearGradient id="g303" x2="0" y2="1"><stop offset="0" stop-color="#00d0ff"/><stop offset=".312" stop-color="#00ffff"/><stop offset="1" stop-color="#00ff5c"/></linearGradient>
<linearGradient id="g304" x2="0" y2="1"><stop offset="0" stop-color="#00cdff"/><stop offset=".33" stop-color="#00ffff"/><stop offset="1" stop-color="#00ff5f"/></linearGradient>
<linearGradient id="g305" x2="0" y2="1"><stop offset="0" stop-color="#00caff"/><stop offset=".348" stop-color="#00ffff"/><stop offset="1" stop-color="#00ff62"/></linearGradient>
<linearGradient id="g306" x2="0" y2="1"><stop offset="0" stop-color="#00c7ff"/><stop offset=".365" stop-color="#00ffff"/><stop offset="1" stop-color="#00ff66"/></linearGradient>
<linearGradient id="g307" x2="0" y2="1"><stop offset="0" stop-color="#00c4ff"/><stop offset=".382" stop-color="#00ffff"/><stop offset="1" stop-color="#00ff69"/></linearGradient>
<linearGradient id="g308" x2="0" y2="1"><stop offset="0" stop-color="#00c1ff"/><stop offset=".398" stop-color="#00ffff"/><stop offset="1" stop-color="#00ff6c"/></linearGradient>
<linearGradient id="g309" x2="0" y2="1"><stop offset="0" stop-color="#00beff"/><stop offset=".414" stop-color="#00ffff"/><stop offset="1" stop-color="#00ff6f"/></linearGradient>
<linearGradient id="g310" x2="0" y2="1"><stop offset="0" stop-color="#00bbff"/><stop offset=".43" stop-color="#00ffff"/><stop offset="1" stop-color="#00ff73"/></linearGradient>
<linearGradient id="g311" x2="0" y2="1"><stop offset="0" stop-color="#00b8ff"/><stop offset=".446" stop-color="#00ffff"/><stop offset="1" stop-color="#00ff76"/></linearGradient>
<linearGradient id="g312" x2="0" y2="1"><stop offset="0" stop-color="#00b5ff"/><stop offset=".462" stop-color="#00ffff"/><stop offset="1" stop-color="#00ff79"/></linearGradient>
<linearGradient id="g313" x2="0" y2="1"><stop offset="0" stop-color="#00b2ff"/><stop offset=".477" stop-color="#00ffff"/><stop offset="1" stop-color="#00ff7c"/></linearGradient>
<linearGradient id="g314" x2="0" y2="1"><stop offset="0" stop-color="#00afff"/><stop offset=".492" stop-color="#00ffff"/><stop offset="1" stop-color="#00ff7f"/></linearGradient>
<linearGradient id="g315" x2="0" y2="1"><stop offset="0" stop-color="#00acff"/><stop offset=".506" stop-color="#00ffff"/><stop offset="1" stop-color="#00ff82"/></linearGradient>
<linearGradient id="g316" x2="0" y2="1"><stop offset="0" stop-color="#00a9ff"/><stop offset=".521" stop-color="#00ffff"/><stop offset="1" stop-color="#00ff86"/></linearGradient>
<linearGradient id="g317" x2="0" y2="1"><stop offset="0" stop-color="#00a6ff"/><stop offset=".535" stop-color="#00ffff"/><stop offset="1" stop-color="#00ff89"/></linearGradient>
<linearGradient id="g318" x2="0" y2="1"><stop offset="0" stop-color="#00a3ff"/><stop offset=".549" stop-color="#00ffff"/><stop offset="1" stop-color="#00ff8c"/></linearGradient>
<linearGradient id="g319" x2="0" y2="1"><stop offset="0" stop-color="#00a0ff"/><stop offset=".564" stop-color="#00ffff"/><stop offset="1" stop-color="#00ff8f"/></linearGradient>
<linearGradient id="g320" x2="0" y2="1"><stop offset="0" stop-color="#009dff"/><stop offset=".577" stop-color="#00ffff"/><stop offset="1" stop-color="#00ff92"/></linearGradient>
<linearGradient id="g321" x2="0" y2="1"><stop offset="0" stop-color="#009aff"/><stop offset=".591" stop-color="#00ffff"/><stop offset="1" stop-color="#00ff95"/></linearGradient>
<linearGradient id="g322" x2="0" y2="1"><stop offset="0" stop-color="#0097ff"/><stop offset=".604" stop-color="#00ffff"/><stop offset="1" stop-color="#00ff98"/></linearGradient>
<linearGradient id="g323" x2="0" y2="1"><stop offset="0" stop-color="#0095ff"/><stop offset=".617" stop-color="#00ffff"/><stop offset="1" stop-color="#00ff9b"/></linearGradient>
<linearGradient id="g324" x2="0" y2="1"><stop offset="0" stop-color="#0092ff"/><stop offset=".63" stop-color="#00ffff"/><stop offset="1" stop-color="#00ff9e"/></linearGradient>
<linearGradient id="g325" x2="0" y2="1"><stop offset="0" stop-color="#008fff"/><stop offset=".643" stop-color="#00ffff"/><stop offset="1" stop-color="#00ffa1"/></linearGradient>
<linearGradient id="g326" x2="0" y2="1"><stop offset="0" stop-color="#008cff"/><stop offset=".656" stop-color="#00ffff"/><stop offset="1" stop-color="#00ffa4"/></linearGradient>
<linearGradient id="g327" x2="0" y2="1"><stop offset="0" stop-color="#0089ff"/><stop offset=".669" stop-color="#00ffff"/><stop offset="1" stop-color="#00ffa7"/></linearGradient>
<linearGradient id="g328" x2="0" y2="1"><stop offset="0" stop-color="#0086ff"/><stop offset=".681" stop-color="#00ffff"/><stop offset="1" stop-color="#00ffaa"/></linearGradient>
<linearGradient id="g329" x2="0" y2="1"><stop offset="0" stop-color="#0084ff"/><stop offset=".693" stop-color="#00ffff"/><stop offset="1" stop-color="#00ffad"/></linearGradient>
<linearGradient id="g330" x2="0" y2="1"><stop offset="0" stop-color="#0081ff"/><stop offset=".705" stop-color="#00ffff"/><stop offset="1" stop-color="#00ffb0"/></linearGradient>
<linearGradient id="g331" x2="0" y2="1"><stop offset="0" stop-color="#007eff"/><stop offset=".717" stop-color="#00ffff"/><stop offset="1" stop-color="#00ffb3"/></linearGradient>
<linearGradient id="g332" x2="0" y2="1"><stop offset="0" stop-color="#007bff"/><stop offset=".729" stop-color="#00ffff"/><stop offset="1" stop-color="#00ffb6"/></linearGradient>
<linearGradient id="g333" x2="0" y2="1"><stop offset="0" stop-color="#0079ff"/><stop offset=".741" stop-color="#00ffff"/><stop offset="1" stop-color="#00ffb9"/></linearGradient>
<linearGradient id="g334" x2="0" y2="1"><stop offset="0" stop-color="#0076ff"/><stop offset=".752" stop-color="#00ffff"/><stop offset="1" stop-color="#00ffbc"/></linearGradient>
<linearGradient id="g335" x2="0" y2="1"><stop offset="0" stop-color="#0073ff"/><stop offset=".764" stop-color="#00ffff"/><stop offset="1" stop-color="#00ffbf"/></linearGradient>
<linearGradient id="g336" x2="0" y2="1"><stop offset="0" stop-color="#0071ff"/><stop offset=".775" stop-color="#00ffff"/><stop offset="1" stop-color="#00ffc2"/></linearGradient>
<linearGradient id="g337" x2="0" y2="1"><stop offset="0" stop-color="#006eff"/><stop offset=".786" stop-color="#00ffff"/><stop offset="1" stop-color="#00ffc4"/></linearGradient>
<linearGradient id="g338" x2="0" y2="1"><stop offset="0" stop-color="#006bff"/><stop offset=".797" stop-color="#00ffff"/><stop offset="1" stop-color="#00ffc7"/></linearGradient>
<linearGradient id="g339" x2="0" y2="1"><stop offset="0" stop-color="#0068ff"/><stop offset=".808" stop-color="#00ffff"/><stop offset="1" stop-color="#00ffca"/></linearGradient>
<linearGradient id="g340" x2="0" y2="1"><stop offset="0" stop-color="#0066ff"/><stop offset=".819" stop-color="#00ffff"/><stop offset="1" stop-color="#00ffcd"/></linearGradient>
<linearGradient id="g341" x2="0" y2="1"><stop offset="0" stop-color="#0063ff"/><stop offset=".83" stop-color="#00ffff"/><stop offset="1" stop-color="#00ffd0"/></linearGradient>
<linearGradient id="g342" x2="0" y2="1"><stop offset="0" stop-color="#0061ff"/><stop offset=".84" stop-color="#00ffff"/><stop offset="1" stop-color="#00ffd3"/></linearGradient>
<linearGradient id="g343" x2="0" y2="1"><stop offset="0" stop-color="#005eff"/><stop offset=".851" stop-color="#00ffff"/><stop offset="1" stop-color="#00ffd5"/></linearGradient>
<linearGradient id="g344" x2="0" y2="1"><stop offset="0" stop-color="#005bff"/><stop offset=".861" stop-color="#00ffff"/><stop offset="1" stop-color="#00ffd8"/></linearGradient>
<linearGradient id="g345" x2="0" y2="1"><stop offset="0" stop-color="#0059ff"/><stop offset=".872" stop-color="#00ffff"/><stop offset="1" stop-color="#00ffdb"/></linearGradient>
<linearGradient id="g346" x2="0" y2="1"><stop offset="0" stop-color="#0056ff"/><stop offset=".882" stop-color="#00ffff"/><stop offset="1" stop-color="#00ffde"/></linearGradient>
<linearGradient id="g347" x2="0" y2="1"><stop offset="0" stop-color="#0054ff"/><stop offset=".892" stop-color="#00ffff"/><stop offset="1" stop-color="#00ffe0"/></linearGradient>
<linearGradient id="g348" x2="0" y2="1"><stop offset="0" stop-color="#0051ff"/><stop offset=".902" stop-color="#00ffff"/><stop offset="1" stop-color="#00ffe3"/></linearGradient>
<linearGradient id="g349" x2="0" y2="1"><stop offset="0" stop-color="#004eff"/><stop offset=".911" stop-color="#00ffff"/><stop offset="1" stop-color="#00ffe6"/></linearGradient>
<linearGradient id="g350" x2="0" y2="1"><stop offset="0" stop-color="#004cff"/><stop offset=".921" stop-color="#00ffff"/><stop offset="1" stop-color="#00ffe9"/></linearGradient>
<linearGradient id="g351" x2="0" y2="1"><stop offset="0" stop-color="#0049ff"/><stop offset=".931" stop-color="#00ffff"/><stop offset="1" stop-color="#00ffeb"/></linearGradient>
<linearGradient id="g352" x2="0" y2="1"><stop offset="0" stop-color="#0047ff"/><stop offset=".94" stop-color="#00ffff"/><stop offset="1" stop-color="#00ffee"/></linearGradient>
<linearGradient id="g353" x2="0" y2="1"><stop offset="0" stop-color="#0044ff"/><stop offset=".95" stop-color="#00ffff"/><stop offset="1" stop-color="#00fff1"/></linearGradient>
<linearGradient id="g354" x2="0" y2="1"><stop offset="0" stop-color="#0042ff"/><stop offset=".959" stop-color="#00ffff"/><stop offset="1" stop-color="#00fff3"/></linearGradient>
<linearGradient id="g355" x2="0" y2="1"><stop offset="0" stop-color="#003fff"/><stop offset=".969" stop-color="#00ffff"/><stop offset="1" stop-color="#00fff6"/></linearGradient>
<linearGradient id="g356" x2="0" y2="1"><stop offset="0" stop-color="#003dff"/><stop offset=".978" stop-color="#00ffff"/><stop offset="1" stop-color="#00fff9"/></linearGradient>
<linearGradient id="g357" x2="0" y2="1"><stop offset="0" stop-color="#003aff"/><stop offset=".987" stop-color="#00ffff"/><stop offset="1" stop-color="#00fffb"/></linearGradient>
<linearGradient id="g358" x2="0" y2="1"><stop offset="0" stop-color="#0038ff"/><stop offset=".996" stop-color="#00ffff"/><stop offset="1" stop-color="#00fffe"/></linearGradient>
<linearGradient id="g359" x2="0" y2="1"><stop offset="0" stop-color="#0036ff"/><stop offset="1" stop-color="#00feff"/></linearGradient>
<linearGradient id="g360" x2="0" y2="1"><stop offset="0" stop-color="#0033ff"/><stop offset="1" stop-color="#00fbff"/></linearGradient>
<linearGradient id="g361" x2="0" y2="1"><stop offset="0" stop-color="#0031ff"/><stop offset="1" stop-color="#00f9ff"/></linearGradient>
<linearGradient id="g362" x2="0" y2="1"><stop offset="0" stop-color="#002eff"/><stop offset="1" stop-color="#00f6ff"/></linearGradient>
<linearGradient id="g363" x2="0" y2="1"><stop offset="0" stop-color="#002cff"/><stop offset="1" stop-color="#00f4ff"/></linearGradient>
<linearGradient id="g364" x2="0" y2="1"><stop offset="0" stop-color="#002aff"/><stop offset="1" stop-color="#00f2ff"/></linearGradient>
<linearGradient id="g365" x2="0" y2="1"><stop offset="0" stop-color="#0027ff"/><stop offset="1" stop-color="#00efff"/></linearGradient>
<linearGradient id="g366" x2="0" y2="1"><stop offset="0" stop-color="#0025ff"/><stop offset="1" stop-color="#00edff"/></linearGradient>
<linearGradient id="g367" x2="0" y2="1"><stop offset="0" stop-color="#0023ff"/><stop offset="1" stop-color="#00eaff"/></linearGradient>
<linearGradient id="g368" x2="0" y2="1"><stop offset="0" stop-color="#0020ff"/><stop offset="1" stop-color="#00e8ff"/></linearGradient>
<linearGradient id="g369" x2="0" y2="1"><stop offset="0" stop-color="#001eff"/><stop offset="1" stop-color="#00e6ff"/></linearGradient>
<linearGradient id="g370" x2="0" y2="1"><stop offset="0" stop-color="#001cff"/><stop offset="1" stop-color="#00e3ff"/></linearGradient>
<linearGradient id="g371" x2="0" y2="1"><stop offset="0" stop-color="#0019ff"/><stop offset="1" stop-color="#00e1ff"/></linearGradient>
<linearGradient id="g372" x2="0" y2="1"><stop offset="0" stop-color="#0017ff"/><stop offset="1" stop-color="#00dfff"/></linearGradient>
<linearGradient id="g373" x2="0" y2="1"><stop offset="0" stop-color="#0015ff"/><stop offset="1" stop-color="#00dcff"/></linearGradient>
<linearGradient id="g374" x2="0" y2="1"><stop offset="0" stop-color="#0013ff"/><stop offset="1" stop-color="#00daff"/></linearGradient>
<linearGradient id="g375" x2="0" y2="1"><stop offset="0" stop-color="#0010ff"/><stop offset="1" stop-color="#00d8ff"/></linearGradient>
<linearGradient id="g376" x2="0" y2="1"><stop offset="0" stop-color="#000eff"/><stop offset="1" stop-color="#00d6ff"/></linearGradient>
<linearGradient id="g377" x2="0" y2="1"><stop offset="0" stop-color="#000cff"/><stop offset="1" stop-color="#00d3ff"/></linearGradient>
<linearGradient id="g378" x2="0" y2="1"><stop offset="0" stop-color="#000aff"/><stop offset="1" stop-color="#00d1ff"/></linearGradient>
<linearGradient id="g379" x2="0" y2="1"><stop offset="0" stop-color="#0008ff"/><stop offset="1" stop-color="#00cfff"/></linearGradient>
<linearGradient id="g380" x2="0" y2="1"><stop offset="0" stop-color="#0005ff"/><stop offset="1" stop-color="#00cdff"/></linearGradient>
<linearGradient id="g381" x2="0" y2="1"><stop offset="0" stop-color="#0003ff"/><stop offset="1" stop-color="#00cbff"/></linearGradient>
<linearGradient id="g382" x2="0" y2="1"><stop offset="0" stop-color="#0001ff"/><stop offset="1" stop-color="#00c8ff"/></linearGradient>
<linearGradient id="g383" x2="0" y2="1"><stop offset="0" stop-color="#0000ff"/><stop offset=".008" stop-color="#0000ff"/><stop offset="1" stop-color="#00c6ff"/></linearGradient>
<linearGradient id="g384" x2="0" y2="1"><stop offset="0" stop-color="#0000ff"/><stop offset=".025" stop-color="#0000ff"/><stop offset="1" stop-color="#00c4ff"/></linearGradient>
<linearGradient id="g385" x2="0" y2="1"><stop offset="0" stop-color="#0000ff"/><stop offset=".042" stop-color="#0000ff"/><stop offset="1" stop-color="#00c2ff"/></linearGradient>
<linearGradient id="g386" x2="0" y2="1"><stop offset="0" stop-color="#0000ff"/><stop offset=".058" stop-color="#0000ff"/><stop offset="1" stop-color="#00c0ff"/></linearGradient>
<linearGradient id="g387" x2="0" y2="1"><stop offset="0" stop-color="#0000ff"/><stop offset=".074" stop-color="#0000ff"/><stop offset="1" stop-color="#00beff"/></linearGradient>
<linearGradient id="g388" x2="0" y2="1"><stop offset="0" stop-color="#0000ff"/><stop offset=".089" stop-color="#0000ff"/><stop offset="1" stop-color="#00bbff"/></linearGradient>
<linearGradient id="g389" x2="0" y2="1"><stop offset="0" stop-color="#0000ff"/><stop offset=".104" stop-color="#0000ff"/><stop offset="1" stop-color="#00b9ff"/></linearGradient>
<linearGradient id="g390" x2="0" y2="1"><stop offset="0" stop-color="#0000ff"/><stop offset=".119" stop-color="#0000ff"/><stop offset="1" stop-color="#00b7ff"/></linearGradient>
<linearGradient id="g391" x2="0" y2="1"><stop offset="0" stop-color="#0000ff"/><stop offset=".133" stop-color="#0000ff"/><stop offset="1" stop-color="#00b5ff"/></linearGradient>
<linearGradient id="g392" x2="0" y2="1"><stop offset="0" stop-color="#0000ff"/><stop offset=".147" stop-color="#0000ff"/><stop offset="1" stop-color="#00b3ff"/></linearGradient>
<linearGradient id="g393" x2="0" y2="1"><stop offset="0" stop-color="#0000ff"/><stop offset=".161" stop-color="#0000ff"/><stop offset="1" stop-color="#00b1ff"/></linearGradient>
<linearGradient id="g394" x2="0" y2="1"><stop offset="0" stop-color="#0000ff"/><stop offset=".175" stop-color="#0000ff"/><stop offset="1" stop-color="#00afff"/></linearGradient>
<linearGradient id="g395" x2="0" y2="1"><stop offset="0" stop-color="#0000ff"/><stop offset=".188" stop-color="#0000ff"/><stop offset="1" stop-color="#00adff"/></linearGradient>
<linearGradient id="g396" x2="0" y2="1"><stop offset="0" stop-color="#0000ff"/><stop offset=".201" stop-color="#0000ff"/><stop offset="1" stop-color="#00abff"/></linearGradient>
<linearGradient id="g397" x2="0" y2="1"><stop offset="0" stop-color="#0000ff"/><stop offset=".214" stop-color="#0000ff"/><stop offset="1" stop-color="#00a9ff"/></linearGradient>
<linearGradient id="g398" x2="0" y2="1"><stop offset="0" stop-color="#0000ff"/><stop offset=".227" stop-color="#0000ff"/><stop offset="1" stop-color="#00a7ff"/></linearGradient>
<linearGradient id="g399" x2="0" y2="1"><stop offset="0" stop-color="#0000ff"/><stop offset=".239" stop-color="#0000ff"/><stop offset="1" stop-color="#00a5ff"/></linearGradient>
<linearGradient id="g400" x2="0" y2="1"><stop offset="0" stop-color="#0000ff"/><stop offset=".251" stop-color="#0000ff"/><stop offset="1" stop-color="#00a3ff"/></linearGradient>
<linearGradient id="g401" x2="0" y2="1"><stop offset="0" stop-color="#0000ff"/><stop offset=".263" stop-color="#0000ff"/><stop offset="1" stop-color="#00a1ff"/></linearGradient>
<linearGradient id="g402" x2="0" y2="1"><stop offset="0" stop-color="#0000ff"/><stop offset=".275" stop-color="#0000ff"/><stop offset="1" stop-color="#009fff"/></linearGradient>
<linearGradient id="g403" x2="0" y2="1"><stop offset="0" stop-color="#0000ff"/><stop offset=".286" stop-color="#0000ff"/><stop offset="1" stop-color="#009dff"/></linearGradient>
<linearGradient id="g404" x2="0" y2="1"><stop offset="0" stop-color="#0000ff"/><stop offset=".298" stop-color="#0000ff"/><stop offset="1" stop-color="#009bff"/></linearGradient>
<linearGradient id="g405" x2="0" y2="1"><stop offset="0" stop-color="#0000ff"/><stop offset=".309" stop-color="#0000ff"/><stop offset="1" stop-color="#0099ff"/></linearGradient>
<linearGradient id="g406" x2="0" y2="1"><stop offset="0" stop-color="#0000ff"/><stop offset=".32" stop-color="#0000ff"/><stop offset="1" stop-color="#0097ff"/></linearGradient>
<linearGradient id="g407" x2="0" y2="1"><stop offset="0" stop-color="#0000ff"/><stop offset=".331" stop-color="#0000ff"/><stop offset="1" stop-color="#0096ff"/></linearGradient>
<linearGradient id="g408" x2="0" y2="1"><stop offset="0" stop-color="#0000ff"/><stop offset=".341" stop-color="#0000ff"/><stop offset="1" stop-color="#0094ff"/></linearGradient>
<linearGradient id="g409" x2="0" y2="1"><stop offset="0" stop-color="#0000ff"/><stop offset=".352" stop-color="#0000ff"/><stop offset="1" stop-color="#0092ff"/></linearGradient>
<linearGradient id="g410" x2="0" y2="1"><stop offset="0" stop-color="#0000ff"/><stop offset=".362" stop-color="#0000ff"/><stop offset="1" stop-color="#0090ff"/></linearGradient>
<linearGradient id="g411" x2="0" y2="1"><stop offset="0" stop-color="#0000ff"/><stop offset=".372" stop-color="#0000ff"/><stop offset="1" stop-color="#008eff"/></linearGradient>
<linearGradient id="g412" x2="0" y2="1"><stop offset="0" stop-color="#0000ff"/><stop offset=".382" stop-color="#0000ff"/><stop offset="1" stop-color="#008cff"/></linearGradient>
<linearGradient id="g413" x2="0" y2="1"><stop offset="0" stop-color="#0000ff"/><stop offset=".392" stop-color="#0000ff"/><stop offset="1" stop-color="#008bff"/></linearGradient>
<linearGradient id="g414" x2="0" y2="1"><stop offset="0" stop-color="#0000ff"/><stop offset=".402" stop-color="#0000ff"/><stop offset="1" stop-color="#0089ff"/></linearGradient>
<linearGradient id="g415" x2="0" y2="1"><stop offset="0" stop-color="#0000ff"/><stop offset=".412" stop-color="#0000ff"/><stop offset="1" stop-color="#0087ff"/></linearGradient>
<linearGradient id="g416" x2="0" y2="1"><stop offset="0" stop-color="#0000ff"/><stop offset=".421" stop-color="#0000ff"/><stop offset="1" stop-color="#0085ff"/></linearGradient>
<linearGradient id="g417" x2="0" y2="1"><stop offset="0" stop-color="#0000ff"/><stop offset=".43" stop-color="#0000ff"/><stop offset="1" stop-color="#0083ff"/></linearGradient>
<linearGradient id="g418" x2="0" y2="1"><stop offset="0" stop-color="#0000ff"/><stop offset=".44" stop-color="#0000ff"/><stop offset="1" stop-color="#0082ff"/></linearGradient>
<linearGradient id="g419" x2="0" y2="1"><stop offset="0" stop-color="#0000ff"/><stop offset=".449" stop-color="#0000ff"/><stop offset="1" stop-color="#0080ff"/></linearGradient>
<linearGradient id="g420" x2="0" y2="1"><stop offset="0" stop-color="#0000ff"/><stop offset=".458" stop-color="#0000ff"/><stop offset="1" stop-color="#007eff"/></linearGradient>
<linearGradient id="g421" gradientUnits="userSpaceOnUse" x1="113.7" y1="884.1" x2="480.5" y2="739.7"><stop offset="0" stop-color="#c8e13a"/><stop offset=".188" stop-color="#ebe63c"/><stop offset="1" stop-color="#e9732b"/></linearGradient>
<linearGradient id="g422" gradientUnits="userSpaceOnUse" x1="120.1" y1="889.9" x2="486.5" y2="744.7"><stop offset="0" stop-color="#b7df39"/><stop offset=".276" stop-color="#ebe63c"/><stop offset="1" stop-color="#e9802d"/></linearGradient>
<linearGradient id="g423" gradientUnits="userSpaceOnUse" x1="126.5" y1="895.6" x2="492.5" y2="749.7"><stop offset="0" stop-color="#a7dd38"/><stop offset=".363" stop-color="#ebe63c"/><stop offset="1" stop-color="#e98c2f"/></linearGradient>
<linearGradient id="g424" gradientUnits="userSpaceOnUse" x1="132.9" y1="901.4" x2="498.5" y2="754.6"><stop offset="0" stop-color="#97db37"/><stop offset=".448" stop-color="#ebe63c"/><stop offset="1" stop-color="#ea9831"/></linearGradient>
<linearGradient id="g425" gradientUnits="userSpaceOnUse" x1="139.3" y1="907.1" x2="504.5" y2="759.6"><stop offset="0" stop-color="#87d837"/><stop offset=".533" stop-color="#ebe63c"/><stop offset="1" stop-color="#eaa432"/></linearGradient>
<linearGradient id="g426" gradientUnits="userSpaceOnUse" x1="145.7" y1="912.7" x2="510.5" y2="764.4"><stop offset="0" stop-color="#77d636"/><stop offset=".617" stop-color="#ebe63c"/><stop offset="1" stop-color="#eab034"/></linearGradient>
<linearGradient id="g427" gradientUnits="userSpaceOnUse" x1="152.2" y1="918.3" x2="516.5" y2="769.3"><stop offset="0" stop-color="#68d435"/><stop offset=".7" stop-color="#ebe63c"/><stop offset="1" stop-color="#eabc36"/></linearGradient>
<linearGradient id="g428" gradientUnits="userSpaceOnUse" x1="158.6" y1="924" x2="522.6" y2="774.1"><stop offset="0" stop-color="#58d234"/><stop offset=".782" stop-color="#ebe63c"/><stop offset="1" stop-color="#eac737"/></linearGradient>
<linearGradient id="g429" gradientUnits="userSpaceOnUse" x1="165" y1="929.5" x2="528.6" y2="778.9"><stop offset="0" stop-color="#49d033"/><stop offset=".863" stop-color="#ebe63c"/><stop offset="1" stop-color="#ebd339"/></linearGradient>
<linearGradient id="g430" gradientUnits="userSpaceOnUse" x1="171.4" y1="935.1" x2="534.6" y2="783.7"><stop offset="0" stop-color="#3ace32"/><stop offset=".943" stop-color="#ebe63c"/><stop offset="1" stop-color="#ebde3b"/></linearGradient>
<linearGradient id="g431" gradientUnits="userSpaceOnUse" x1="177.9" y1="940.6" x2="540.7" y2="788.4"><stop offset="0" stop-color="#32cd38"/><stop offset=".037" stop-color="#32cd32"/><stop offset="1" stop-color="#e7e53c"/></linearGradient>
<linearGradient id="g432" gradientUnits="userSpaceOnUse" x1="184.3" y1="946.1" x2="546.8" y2="793.1"><stop offset="0" stop-color="#32cd43"/><stop offset=".112" stop-color="#32cd32"/><stop offset="1" stop-color="#d9e43b"/></linearGradient>
<linearGradient id="g433" gradientUnits="userSpaceOnUse" x1="190.8" y1="951.6" x2="552.8" y2="797.8"><stop offset="0" stop-color="#32cd4f"/><stop offset=".187" stop-color="#32cd32"/><stop offset="1" stop-color="#cbe23a"/></linearGradient>
<linearGradient id="g434" gradientUnits="userSpaceOnUse" x1="197.2" y1="957" x2="558.9" y2="802.5"><stop offset="0" stop-color="#32cd5b"/><stop offset=".26" stop-color="#32cd32"/><stop offset="1" stop-color="#bde03a"/></linearGradient>
<linearGradient id="g435" gradientUnits="userSpaceOnUse" x1="203.7" y1="962.5" x2="565" y2="807.1"><stop offset="0" stop-color="#32cd66"/><stop offset=".333" stop-color="#32cd32"/><stop offset="1" stop-color="#b0de39"/></linearGradient>
<linearGradient id="g436" gradientUnits="userSpaceOnUse" x1="210.1" y1="967.9" x2="571.1" y2="811.7"><stop offset="0" stop-color="#32cd71"/><stop offset=".404" stop-color="#32cd32"/><stop offset="1" stop-color="#a3dc38"/></linearGradient>
<linearGradient id="g437" gradientUnits="userSpaceOnUse" x1="216.6" y1="973.2" x2="577.2" y2="816.3"><stop offset="0" stop-color="#32cd7c"/><stop offset=".474" stop-color="#32cd32"/><stop offset="1" stop-color="#95da37"/></linearGradient>
<linearGradient id="g438" gradientUnits="userSpaceOnUse" x1="223.1" y1="978.6" x2="583.3" y2="820.8"><stop offset="0" stop-color="#32cd87"/><stop offset=".543" stop-color="#32cd32"/><stop offset="1" stop-color="#88d937"/></linearGradient>
<linearGradient id="g439" gradientUnits="userSpaceOnUse" x1="229.5" y1="983.9" x2="589.4" y2="825.3"><stop offset="0" stop-color="#32cd92"/><stop offset=".611" stop-color="#32cd32"/><stop offset="1" stop-color="#7cd736"/></linearGradient>
<linearGradient id="g440" gradientUnits="userSpaceOnUse" x1="236" y1="989.1" x2="595.6" y2="829.8"><stop offset="0" stop-color="#32cd9d"/><stop offset=".678" stop-color="#32cd32"/><stop offset="1" stop-color="#6fd535"/></linearGradient>
<linearGradient id="g441" gradientUnits="userSpaceOnUse" x1="242.5" y1="994.4" x2="601.7" y2="834.2"><stop offset="0" stop-color="#32cda7"/><stop offset=".744" stop-color="#32cd32"/><stop offset="1" stop-color="#63d435"/></linearGradient>
<linearGradient id="g442" gradientUnits="userSpaceOnUse" x1="249" y1="999.6" x2="607.9" y2="838.6"><stop offset="0" stop-color="#32cdb2"/><stop offset=".809" stop-color="#32cd32"/><stop offset="1" stop-color="#56d234"/></linearGradient>
<linearGradient id="g443" gradientUnits="userSpaceOnUse" x1="255.6" y1="1004.8" x2="614" y2="843"><stop offset="0" stop-color="#32cdbc"/><stop offset=".872" stop-color="#32cd32"/><stop offset="1" stop-color="#4ad033"/></linearGradient>
<linearGradient id="g444" gradientUnits="userSpaceOnUse" x1="262.1" y1="1010" x2="620.2" y2="847.3"><stop offset="0" stop-color="#32cdc6"/><stop offset=".935" stop-color="#32cd32"/><stop offset="1" stop-color="#3ecf33"/></linearGradient>
<linearGradient id="g445" gradientUnits="userSpaceOnUse" x1="268.6" y1="1015.1" x2="626.4" y2="851.7"><stop offset="0" stop-color="#32cdd0"/><stop offset=".997" stop-color="#32cd32"/><stop offset="1" stop-color="#33cd32"/></linearGradient>
<linearGradient id="g446" gradientUnits="userSpaceOnUse" x1="275.2" y1="1020.2" x2="632.6" y2="856"><stop offset="0" stop-color="#31cad6"/><stop offset=".018" stop-color="#32cdd7"/><stop offset="1" stop-color="#32cd3b"/></linearGradient>
<linearGradient id="g447" gradientUnits="userSpaceOnUse" x1="281.7" y1="1025.3" x2="638.8" y2="860.2"><stop offset="0" stop-color="#2fbfd5"/><stop offset=".078" stop-color="#32cdd7"/><stop offset="1" stop-color="#32cd44"/></linearGradient>
<linearGradient id="g448" gradientUnits="userSpaceOnUse" x1="288.3" y1="1030.4" x2="645.1" y2="864.5"><stop offset="0" stop-color="#2cb5d3"/><stop offset=".136" stop-color="#32cdd7"/><stop offset="1" stop-color="#32cd4d"/></linearGradient>
<linearGradient id="g449" gradientUnits="userSpaceOnUse" x1="294.9" y1="1035.4" x2="651.3" y2="868.7"><stop offset="0" stop-color="#2aaad2"/><stop offset=".194" stop-color="#32cdd7"/><stop offset="1" stop-color="#32cd56"/></linearGradient>
<linearGradient id="g450" gradientUnits="userSpaceOnUse" x1="301.5" y1="1040.4" x2="657.6" y2="872.8"><stop offset="0" stop-color="#28a0d0"/><stop offset=".25" stop-color="#32cdd7"/><stop offset="1" stop-color="#32cd5f"/></linearGradient>
<linearGradient id="g451" gradientUnits="userSpaceOnUse" x1="308.1" y1="1045.4" x2="663.9" y2="877"><stop offset="0" stop-color="#2596cf"/><stop offset=".305" stop-color="#32cdd7"/><stop offset="1" stop-color="#32cd67"/></linearGradient>
<linearGradient id="g452" gradientUnits="userSpaceOnUse" x1="314.7" y1="1050.3" x2="670.2" y2="881.1"><stop offset="0" stop-color="#238ccd"/><stop offset=".359" stop-color="#32cdd7"/><stop offset="1" stop-color="#32cd70"/></linearGradient>
<linearGradient id="g453" gradientUnits="userSpaceOnUse" x1="321.3" y1="1055.2" x2="676.5" y2="885.2"><stop offset="0" stop-color="#2182cc"/><stop offset=".411" stop-color="#32cdd7"/><stop offset="1" stop-color="#32cd78"/></linearGradient>
<linearGradient id="g454" gradientUnits="userSpaceOnUse" x1="328" y1="1060.1" x2="682.8" y2="889.2"><stop offset="0" stop-color="#1f79ca"/><stop offset=".463" stop-color="#32cdd7"/><stop offset="1" stop-color="#32cd80"/></linearGradient>
<linearGradient id="g455" gradientUnits="userSpaceOnUse" x1="334.6" y1="1065" x2="689.1" y2="893.2"><stop offset="0" stop-color="#1c6fc9"/><stop offset=".514" stop-color="#32cdd7"/><stop offset="1" stop-color="#32cd88"/></linearGradient>
<linearGradient id="g456" gradientUnits="userSpaceOnUse" x1="341.3" y1="1069.8" x2="695.5" y2="897.2"><stop offset="0" stop-color="#1a66c7"/><stop offset=".563" stop-color="#32cdd7"/><stop offset="1" stop-color="#32cd90"/></linearGradient>
<linearGradient id="g457" gradientUnits="userSpaceOnUse" x1="348" y1="1074.6" x2="701.9" y2="901.2"><stop offset="0" stop-color="#185dc6"/><stop offset=".611" stop-color="#32cdd7"/><stop offset="1" stop-color="#32cd98"/></linearGradient>
<linearGradient id="g458" gradientUnits="userSpaceOnUse" x1="354.7" y1="1079.4" x2="708.3" y2="905.1"><stop offset="0" stop-color="#1654c4"/><stop offset=".659" stop-color="#32cdd7"/><stop offset="1" stop-color="#32cd9f"/></linearGradient>
<linearGradient id="g459" gradientUnits="userSpaceOnUse" x1="361.4" y1="1084.1" x2="714.7" y2="909"><stop offset="0" stop-color="#144bc3"/><stop offset=".705" stop-color="#32cdd7"/><stop offset="1" stop-color="#32cda7"/></linearGradient>
<linearGradient id="g460" gradientUnits="userSpaceOnUse" x1="368.2" y1="1088.8" x2="721.1" y2="912.9"><stop offset="0" stop-color="#1243c2"/><stop offset=".75" stop-color="#32cdd7"/><stop offset="1" stop-color="#32cdae"/></linearGradient>
<linearGradient id="g461" gradientUnits="userSpaceOnUse" x1="374.9" y1="1093.5" x2="727.5" y2="916.7"><stop offset="0" stop-color="#103ac0"/><stop offset=".794" stop-color="#32cdd7"/><stop offset="1" stop-color="#32cdb5"/></linearGradient>
<linearGradient id="g462" gradientUnits="userSpaceOnUse" x1="381.7" y1="1098.2" x2="734" y2="920.5"><stop offset="0" stop-color="#0e32bf"/><stop offset=".837" stop-color="#32cdd7"/><stop offset="1" stop-color="#32cdbc"/></linearGradient>
<linearGradient id="g463" gradientUnits="userSpaceOnUse" x1="388.5" y1="1102.8" x2="740.5" y2="924.3"><stop offset="0" stop-color="#0c2abe"/><stop offset=".879" stop-color="#32cdd7"/><stop offset="1" stop-color="#32cdc3"/></linearGradient>
<linearGradient id="g464" gradientUnits="userSpaceOnUse" x1="395.3" y1="1107.4" x2="747" y2="928"><stop offset="0" stop-color="#0a22bd"/><stop offset=".92" stop-color="#32cdd7"/><stop offset="1" stop-color="#32cdca"/></linearGradient>
<linearGradient id="g465" gradientUnits="userSpaceOnUse" x1="402.1" y1="1112" x2="753.5" y2="931.7"><stop offset="0" stop-color="#091abb"/><stop offset=".96" stop-color="#32cdd7"/><stop offset="1" stop-color="#32cdd0"/></linearGradient>
<linearGradient id="g466" gradientUnits="userSpaceOnUse" x1="409" y1="1116.5" x2="760.1" y2="935.4"><stop offset="0" stop-color="#0712ba"/><stop offset=".999" stop-color="#32cdd7"/><stop offset="1" stop-color="#32cdd7"/></linearGradient>
<linearGradient id="g467" gradientUnits="userSpaceOnUse" x1="415.9" y1="1121" x2="766.6" y2="939"><stop offset="0" stop-color="#050bb9"/><stop offset="1" stop-color="#30c6d6"/></linearGradient>
<linearGradient id="g468" gradientUnits="userSpaceOnUse" x1="422.7" y1="1125.5" x2="773.2" y2="942.6"><stop offset="0" stop-color="#050ab9"/><stop offset=".036" stop-color="#050ab9"/><stop offset="1" stop-color="#2fbfd5"/></linearGradient>
<linearGradient id="g469" gradientUnits="userSpaceOnUse" x1="429.7" y1="1129.9" x2="779.8" y2="946.2"><stop offset="0" stop-color="#050ab9"/><stop offset=".074" stop-color="#050ab9"/><stop offset="1" stop-color="#2db9d4"/></linearGradient>
<linearGradient id="g470" gradientUnits="userSpaceOnUse" x1="436.6" y1="1134.3" x2="786.5" y2="949.8"><stop offset="0" stop-color="#050ab9"/><stop offset=".111" stop-color="#050ab9"/><stop offset="1" stop-color="#2cb2d3"/></linearGradient>
<linearGradient id="g471" gradientUnits="userSpaceOnUse" x1="443.5" y1="1138.7" x2="793.1" y2="953.3"><stop offset="0" stop-color="#050ab9"/><stop offset=".147" stop-color="#050ab9"/><stop offset="1" stop-color="#2aacd2"/></linearGradient>
<linearGradient id="g472" gradientUnits="userSpaceOnUse" x1="450.5" y1="1143.1" x2="799.8" y2="956.7"><stop offset="0" stop-color="#050ab9"/><stop offset=".182" stop-color="#050ab9"/><stop offset="1" stop-color="#29a6d1"/></linearGradient>
<linearGradient id="g473" gradientUnits="userSpaceOnUse" x1="457.5" y1="1147.4" x2="806.5" y2="960.2"><stop offset="0" stop-color="#050ab9"/><stop offset=".217" stop-color="#050ab9"/><stop offset="1" stop-color="#28a0d0"/></linearGradient>
<linearGradient id="g474" gradientUnits="userSpaceOnUse" x1="464.5" y1="1151.7" x2="813.2" y2="963.6"><stop offset="0" stop-color="#050ab9"/><stop offset=".249" stop-color="#050ab9"/><stop offset="1" stop-color="#269acf"/></linearGradient>
<linearGradient id="g475" gradientUnits="userSpaceOnUse" x1="471.6" y1="1156" x2="820" y2="967"><stop offset="0" stop-color="#050ab9"/><stop offset=".282" stop-color="#050ab9"/><stop offset="1" stop-color="#2594ce"/></linearGradient>
<linearGradient id="g476" gradientUnits="userSpaceOnUse" x1="478.6" y1="1160.2" x2="826.8" y2="970.4"><stop offset="0" stop-color="#050ab9"/><stop offset=".313" stop-color="#050ab9"/><stop offset="1" stop-color="#248fcd"/></linearGradient>
<linearGradient id="g477" gradientUnits="userSpaceOnUse" x1="485.7" y1="1164.4" x2="833.6" y2="973.7"><stop offset="0" stop-color="#050ab9"/><stop offset=".343" stop-color="#050ab9"/><stop offset="1" stop-color="#2289cd"/></linearGradient>
<linearGradient id="g478" gradientUnits="userSpaceOnUse" x1="492.9" y1="1168.6" x2="840.4" y2="977"><stop offset="0" stop-color="#050ab9"/><stop offset=".372" stop-color="#050ab9"/><stop offset="1" stop-color="#2184cc"/></linearGradient>
<linearGradient id="g479" gradientUnits="userSpaceOnUse" x1="500" y1="1172.7" x2="847.2" y2="980.2"><stop offset="0" stop-color="#050ab9"/><stop offset=".4" stop-color="#050ab9"/><stop offset="1" stop-color="#207fcb"/></linearGradient>
<linearGradient id="g480" gradientUnits="userSpaceOnUse" x1="507.2" y1="1176.8" x2="854.1" y2="983.4"><stop offset="0" stop-color="#050ab9"/><stop offset=".427" stop-color="#050ab9"/><stop offset="1" stop-color="#1f7aca"/></linearGradient>
<linearGradient id="g481" gradientUnits="userSpaceOnUse" x1="302.7" y1="804" x2="693.9" y2="1074.4"><stop offset="0" stop-color="#000" stop-opacity="0.7"/><stop offset="0.5" stop-color="#000" stop-opacity="0.62"/><stop offset="0.75" stop-color="#000" stop-opacity="0.45"/><stop offset="1" stop-color="#000" stop-opacity="0.25"/></linearGradient>
<linearGradient id="g482" gradientUnits="userSpaceOnUse" x1="1162.1" y1="734.8" x2="1681.3" y2="746.7"><stop offset="0" stop-color="#e9692a"/><stop offset=".62" stop-color="#ebe63c"/><stop offset="1" stop-color="#bbe039"/></linearGradient>
<linearGradient id="g483" gradientUnits="userSpaceOnUse" x1="1165.8" y1="741.2" x2="1685.5" y2="752.7"><stop offset="0" stop-color="#e97a2c"/><stop offset=".525" stop-color="#ebe63c"/><stop offset="1" stop-color="#adde39"/></linearGradient>
<linearGradient id="g484" gradientUnits="userSpaceOnUse" x1="1169.4" y1="747.7" x2="1689.8" y2="758.7"><stop offset="0" stop-color="#e98a2e"/><stop offset=".436" stop-color="#ebe63c"/><stop offset="1" stop-color="#9fdc38"/></linearGradient>
<linearGradient id="g485" gradientUnits="userSpaceOnUse" x1="1173.1" y1="754.2" x2="1694" y2="764.7"><stop offset="0" stop-color="#ea9b31"/><stop offset=".352" stop-color="#ebe63c"/><stop offset="1" stop-color="#92da37"/></linearGradient>
<linearGradient id="g486" gradientUnits="userSpaceOnUse" x1="1176.8" y1="760.6" x2="1698.3" y2="770.6"><stop offset="0" stop-color="#eaab33"/><stop offset=".272" stop-color="#ebe63c"/><stop offset="1" stop-color="#84d836"/></linearGradient>
<linearGradient id="g487" gradientUnits="userSpaceOnUse" x1="1180.5" y1="767" x2="1702.6" y2="776.5"><stop offset="0" stop-color="#eabb36"/><stop offset=".195" stop-color="#ebe63c"/><stop offset="1" stop-color="#76d636"/></linearGradient>
<linearGradient id="g488" gradientUnits="userSpaceOnUse" x1="1184.2" y1="773.3" x2="1706.9" y2="782.4"><stop offset="0" stop-color="#ebcb38"/><stop offset=".122" stop-color="#ebe63c"/><stop offset="1" stop-color="#69d435"/></linearGradient>
<linearGradient id="g489" gradientUnits="userSpaceOnUse" x1="1187.9" y1="779.7" x2="1711.2" y2="788.2"><stop offset="0" stop-color="#ebda3a"/><stop offset=".051" stop-color="#ebe63c"/><stop offset="1" stop-color="#5cd334"/></linearGradient>
<linearGradient id="g490" gradientUnits="userSpaceOnUse" x1="1191.6" y1="786" x2="1715.6" y2="794.1"><stop offset="0" stop-color="#e8e63c"/><stop offset="1" stop-color="#4fd134"/></linearGradient>
<linearGradient id="g491" gradientUnits="userSpaceOnUse" x1="1195.3" y1="792.3" x2="1719.9" y2="799.9"><stop offset="0" stop-color="#dbe43b"/><stop offset="1" stop-color="#42cf33"/></linearGradient>
<linearGradient id="g492" gradientUnits="userSpaceOnUse" x1="1199.1" y1="798.6" x2="1724.3" y2="805.7"><stop offset="0" stop-color="#cee23a"/><stop offset="1" stop-color="#35cd32"/></linearGradient>
<linearGradient id="g493" gradientUnits="userSpaceOnUse" x1="1202.8" y1="804.8" x2="1728.6" y2="811.4"><stop offset="0" stop-color="#c1e03a"/><stop offset=".913" stop-color="#32cd32"/><stop offset="1" stop-color="#32cd3a"/></linearGradient>
<linearGradient id="g494" gradientUnits="userSpaceOnUse" x1="1206.6" y1="811.1" x2="1733" y2="817.1"><stop offset="0" stop-color="#b4df39"/><stop offset=".808" stop-color="#32cd32"/><stop offset="1" stop-color="#32cd44"/></linearGradient>
<linearGradient id="g495" gradientUnits="userSpaceOnUse" x1="1210.4" y1="817.2" x2="1737.4" y2="822.8"><stop offset="0" stop-color="#a8dd38"/><stop offset=".713" stop-color="#32cd32"/><stop offset="1" stop-color="#32cd4e"/></linearGradient>
<linearGradient id="g496" gradientUnits="userSpaceOnUse" x1="1214.1" y1="823.4" x2="1741.8" y2="828.5"><stop offset="0" stop-color="#9cdb38"/><stop offset=".625" stop-color="#32cd32"/><stop offset="1" stop-color="#32cd58"/></linearGradient>
<linearGradient id="g497" gradientUnits="userSpaceOnUse" x1="1217.9" y1="829.6" x2="1746.3" y2="834.1"><stop offset="0" stop-color="#90da37"/><stop offset=".543" stop-color="#32cd32"/><stop offset="1" stop-color="#32cd61"/></linearGradient>
<linearGradient id="g498" gradientUnits="userSpaceOnUse" x1="1221.7" y1="835.7" x2="1750.7" y2="839.8"><stop offset="0" stop-color="#84d836"/><stop offset=".466" stop-color="#32cd32"/><stop offset="1" stop-color="#32cd6b"/></linearGradient>
<linearGradient id="g499" gradientUnits="userSpaceOnUse" x1="1225.5" y1="841.8" x2="1755.2" y2="845.3"><stop offset="0" stop-color="#78d636"/><stop offset=".392" stop-color="#32cd32"/><stop offset="1" stop-color="#32cd75"/></linearGradient>
<linearGradient id="g500" gradientUnits="userSpaceOnUse" x1="1229.4" y1="847.8" x2="1759.7" y2="850.9"><stop offset="0" stop-color="#6cd535"/><stop offset=".322" stop-color="#32cd32"/><stop offset="1" stop-color="#32cd7e"/></linearGradient>
<linearGradient id="g501" gradientUnits="userSpaceOnUse" x1="1233.2" y1="853.9" x2="1764.2" y2="856.4"><stop offset="0" stop-color="#61d335"/><stop offset=".256" stop-color="#32cd32"/><stop offset="1" stop-color="#32cd87"/></linearGradient>
<linearGradient id="g502" gradientUnits="userSpaceOnUse" x1="1237.1" y1="859.9" x2="1768.7" y2="861.9"><stop offset="0" stop-color="#55d234"/><stop offset=".191" stop-color="#32cd32"/><stop offset="1" stop-color="#32cd90"/></linearGradient>
<linearGradient id="g503" gradientUnits="userSpaceOnUse" x1="1240.9" y1="865.9" x2="1773.2" y2="867.4"><stop offset="0" stop-color="#4ad033"/><stop offset=".13" stop-color="#32cd32"/><stop offset="1" stop-color="#32cd99"/></linearGradient>
<linearGradient id="g504" gradientUnits="userSpaceOnUse" x1="1244.8" y1="871.9" x2="1777.8" y2="872.8"><stop offset="0" stop-color="#3fcf33"/><stop offset=".07" stop-color="#32cd32"/><stop offset="1" stop-color="#32cda2"/></linearGradient>
<linearGradient id="g505" gradientUnits="userSpaceOnUse" x1="1248.7" y1="877.8" x2="1782.3" y2="878.3"><stop offset="0" stop-color="#34cd32"/><stop offset=".012" stop-color="#32cd32"/><stop offset="1" stop-color="#32cdab"/></linearGradient>
<linearGradient id="g506" gradientUnits="userSpaceOnUse" x1="1252.6" y1="883.7" x2="1786.9" y2="883.6"><stop offset="0" stop-color="#32cd39"/><stop offset="1" stop-color="#32cdb4"/></linearGradient>
<linearGradient id="g507" gradientUnits="userSpaceOnUse" x1="1256.5" y1="889.6" x2="1791.5" y2="889"><stop offset="0" stop-color="#32cd41"/><stop offset="1" stop-color="#32cdbc"/></linearGradient>
<linearGradient id="g508" gradientUnits="userSpaceOnUse" x1="1260.4" y1="895.4" x2="1796.1" y2="894.3"><stop offset="0" stop-color="#32cd4a"/><stop offset="1" stop-color="#32cdc4"/></linearGradient>
<linearGradient id="g509" gradientUnits="userSpaceOnUse" x1="1264.3" y1="901.3" x2="1800.8" y2="899.6"><stop offset="0" stop-color="#32cd52"/><stop offset="1" stop-color="#32cdcd"/></linearGradient>
<linearGradient id="g510" gradientUnits="userSpaceOnUse" x1="1268.3" y1="907.1" x2="1805.4" y2="904.9"><stop offset="0" stop-color="#32cd5a"/><stop offset="1" stop-color="#32cdd5"/></linearGradient>
<linearGradient id="g511" gradientUnits="userSpaceOnUse" x1="1272.2" y1="912.8" x2="1810.1" y2="910.1"><stop offset="0" stop-color="#32cd63"/><stop offset=".932" stop-color="#32cdd7"/><stop offset="1" stop-color="#30c5d5"/></linearGradient>
<linearGradient id="g512" gradientUnits="userSpaceOnUse" x1="1276.2" y1="918.6" x2="1814.8" y2="915.4"><stop offset="0" stop-color="#32cd6b"/><stop offset=".847" stop-color="#32cdd7"/><stop offset="1" stop-color="#2ebbd2"/></linearGradient>
<linearGradient id="g513" gradientUnits="userSpaceOnUse" x1="1280.2" y1="924.3" x2="1819.5" y2="920.5"><stop offset="0" stop-color="#32cd72"/><stop offset=".77" stop-color="#32cdd7"/><stop offset="1" stop-color="#2bb0d0"/></linearGradient>
<linearGradient id="g514" gradientUnits="userSpaceOnUse" x1="1284.2" y1="930" x2="1824.2" y2="925.7"><stop offset="0" stop-color="#32cd7a"/><stop offset=".697" stop-color="#32cdd7"/><stop offset="1" stop-color="#29a6cd"/></linearGradient>
<linearGradient id="g515" gradientUnits="userSpaceOnUse" x1="1288.2" y1="935.6" x2="1829" y2="930.8"><stop offset="0" stop-color="#32cd82"/><stop offset=".63" stop-color="#32cdd7"/><stop offset="1" stop-color="#279ccb"/></linearGradient>
<linearGradient id="g516" gradientUnits="userSpaceOnUse" x1="1292.3" y1="941.2" x2="1833.8" y2="935.9"><stop offset="0" stop-color="#32cd89"/><stop offset=".566" stop-color="#32cdd7"/><stop offset="1" stop-color="#2492c8"/></linearGradient>
<linearGradient id="g517" gradientUnits="userSpaceOnUse" x1="1296.3" y1="946.8" x2="1838.5" y2="941"><stop offset="0" stop-color="#32cd91"/><stop offset=".506" stop-color="#32cdd7"/><stop offset="1" stop-color="#2289c6"/></linearGradient>
<linearGradient id="g518" gradientUnits="userSpaceOnUse" x1="1300.4" y1="952.4" x2="1843.4" y2="946"><stop offset="0" stop-color="#32cd98"/><stop offset=".448" stop-color="#32cdd7"/><stop offset="1" stop-color="#207fc3"/></linearGradient>
<linearGradient id="g519" gradientUnits="userSpaceOnUse" x1="1304.4" y1="958" x2="1848.2" y2="951"><stop offset="0" stop-color="#32cd9f"/><stop offset=".394" stop-color="#32cdd7"/><stop offset="1" stop-color="#1e76c1"/></linearGradient>
<linearGradient id="g520" gradientUnits="userSpaceOnUse" x1="1308.5" y1="963.5" x2="1853.1" y2="956"><stop offset="0" stop-color="#32cda6"/><stop offset=".341" stop-color="#32cdd7"/><stop offset="1" stop-color="#1c6dbe"/></linearGradient>
<linearGradient id="g521" gradientUnits="userSpaceOnUse" x1="1312.7" y1="968.9" x2="1857.9" y2="960.9"><stop offset="0" stop-color="#32cdad"/><stop offset=".291" stop-color="#32cdd7"/><stop offset="1" stop-color="#1a64bc"/></linearGradient>
<linearGradient id="g522" gradientUnits="userSpaceOnUse" x1="1316.8" y1="974.4" x2="1862.8" y2="965.8"><stop offset="0" stop-color="#32cdb3"/><stop offset=".242" stop-color="#32cdd7"/><stop offset="1" stop-color="#185bba"/></linearGradient>
<linearGradient id="g523" gradientUnits="userSpaceOnUse" x1="1320.9" y1="979.8" x2="1867.8" y2="970.7"><stop offset="0" stop-color="#32cdba"/><stop offset=".196" stop-color="#32cdd7"/><stop offset="1" stop-color="#1652b8"/></linearGradient>
<linearGradient id="g524" gradientUnits="userSpaceOnUse" x1="1325.1" y1="985.2" x2="1872.7" y2="975.5"><stop offset="0" stop-color="#32cdc1"/><stop offset=".15" stop-color="#32cdd7"/><stop offset="1" stop-color="#144ab5"/></linearGradient>
<linearGradient id="g525" gradientUnits="userSpaceOnUse" x1="1329.3" y1="990.6" x2="1877.7" y2="980.3"><stop offset="0" stop-color="#32cdc7"/><stop offset=".107" stop-color="#32cdd7"/><stop offset="1" stop-color="#1241b3"/></linearGradient>
<linearGradient id="g526" gradientUnits="userSpaceOnUse" x1="1333.5" y1="995.9" x2="1882.7" y2="985.1"><stop offset="0" stop-color="#32cdcd"/><stop offset=".065" stop-color="#32cdd7"/><stop offset="1" stop-color="#1039b1"/></linearGradient>
<linearGradient id="g527" gradientUnits="userSpaceOnUse" x1="1337.7" y1="1001.2" x2="1887.7" y2="989.8"><stop offset="0" stop-color="#32cdd3"/><stop offset=".024" stop-color="#32cdd7"/><stop offset="1" stop-color="#0e31af"/></linearGradient>
<linearGradient id="g528" gradientUnits="userSpaceOnUse" x1="1341.9" y1="1006.5" x2="1892.8" y2="994.5"><stop offset="0" stop-color="#31cad6"/><stop offset="1" stop-color="#0c29ad"/></linearGradient>
<linearGradient id="g529" gradientUnits="userSpaceOnUse" x1="1346.1" y1="1011.7" x2="1897.8" y2="999.2"><stop offset="0" stop-color="#2fc2d4"/><stop offset="1" stop-color="#0a22ab"/></linearGradient>
<linearGradient id="g530" gradientUnits="userSpaceOnUse" x1="1350.4" y1="1016.9" x2="1902.9" y2="1003.9"><stop offset="0" stop-color="#2ebad2"/><stop offset="1" stop-color="#091aa9"/></linearGradient>
<linearGradient id="g531" gradientUnits="userSpaceOnUse" x1="1354.7" y1="1022.1" x2="1908" y2="1008.5"><stop offset="0" stop-color="#2cb3d0"/><stop offset="1" stop-color="#0713a7"/></linearGradient>
<linearGradient id="g532" gradientUnits="userSpaceOnUse" x1="1359" y1="1027.2" x2="1913.2" y2="1013.1"><stop offset="0" stop-color="#2aacce"/><stop offset="1" stop-color="#050ca5"/></linearGradient>
<linearGradient id="g533" gradientUnits="userSpaceOnUse" x1="1363.3" y1="1032.3" x2="1918.3" y2="1017.6"><stop offset="0" stop-color="#29a5cd"/><stop offset=".952" stop-color="#050aa5"/><stop offset="1" stop-color="#050aa5"/></linearGradient>
<linearGradient id="g534" gradientUnits="userSpaceOnUse" x1="1367.7" y1="1037.4" x2="1923.5" y2="1022.1"><stop offset="0" stop-color="#279ecb"/><stop offset=".894" stop-color="#050aa5"/><stop offset="1" stop-color="#050aa5"/></linearGradient>
<linearGradient id="g535" gradientUnits="userSpaceOnUse" x1="1372" y1="1042.4" x2="1928.8" y2="1026.6"><stop offset="0" stop-color="#2597c9"/><stop offset=".84" stop-color="#050aa5"/><stop offset="1" stop-color="#050aa5"/></linearGradient>
<linearGradient id="g536" gradientUnits="userSpaceOnUse" x1="1376.4" y1="1047.4" x2="1934" y2="1031"><stop offset="0" stop-color="#2490c7"/><stop offset=".789" stop-color="#050aa5"/><stop offset="1" stop-color="#050aa5"/></linearGradient>
<linearGradient id="g537" gradientUnits="userSpaceOnUse" x1="1380.8" y1="1052.4" x2="1939.3" y2="1035.4"><stop offset="0" stop-color="#228ac6"/><stop offset=".742" stop-color="#050aa5"/><stop offset="1" stop-color="#050aa5"/></linearGradient>
<linearGradient id="g538" gradientUnits="userSpaceOnUse" x1="1385.2" y1="1057.3" x2="1944.6" y2="1039.8"><stop offset="0" stop-color="#2183c4"/><stop offset=".698" stop-color="#050aa5"/><stop offset="1" stop-color="#050aa5"/></linearGradient>
<linearGradient id="g539" gradientUnits="userSpaceOnUse" x1="1389.7" y1="1062.3" x2="1949.9" y2="1044.1"><stop offset="0" stop-color="#207dc3"/><stop offset=".656" stop-color="#050aa5"/><stop offset="1" stop-color="#050aa5"/></linearGradient>
<linearGradient id="g540" gradientUnits="userSpaceOnUse" x1="1394.1" y1="1067.1" x2="1955.3" y2="1048.4"><stop offset="0" stop-color="#1e77c1"/><stop offset=".616" stop-color="#050aa5"/><stop offset="1" stop-color="#050aa5"/></linearGradient>
<linearGradient id="g541" gradientUnits="userSpaceOnUse" x1="1398.6" y1="1072" x2="1960.7" y2="1052.7"><stop offset="0" stop-color="#1d71bf"/><stop offset=".578" stop-color="#050aa5"/><stop offset="1" stop-color="#050aa5"/></linearGradient>
<linearGradient id="g542" gradientUnits="userSpaceOnUse" x1="1429.2" y1="742.5" x2="1695.6" y2="1069.5"><stop offset="0" stop-color="#000" stop-opacity="0.7"/><stop offset="0.5" stop-color="#000" stop-opacity="0.64"/><stop offset="0.75" stop-color="#000" stop-opacity="0.5"/><stop offset="1" stop-color="#000" stop-opacity="0.36"/></linearGradient>
</defs>
<rect width="2007" height="1282" fill="#fff"/>
<g shape-rendering="crispEdges"><rect x="102.9" y="40" width="798" height="3.6" fill="url(#g1)"/><rect x="102.9" y="43" width="798" height="3.6" fill="url(#g2)"/><rect x="102.9" y="46" width="798" height="3.6" fill="url(#g3)"/><rect x="102.9" y="49" width="798" height="3.6" fill="url(#g4)"/><rect x="102.9" y="52" width="798" height="3.6" fill="url(#g5)"/><rect x="102.9" y="55" width="798" height="3.6" fill="url(#g6)"/><rect x="102.9" y="58" width="798" height="3.6" fill="url(#g7)"/><rect x="102.9" y="61" width="798" height="3.6" fill="url(#g8)"/><rect x="102.9" y="64" width="798" height="3.6" fill="url(#g9)"/><rect x="102.9" y="67" width="798" height="3.6" fill="url(#g10)"/><rect x="102.9" y="70" width="798" height="3.6" fill="url(#g11)"/><rect x="102.9" y="73" width="798" height="3.6" fill="url(#g12)"/><rect x="102.9" y="76" width="798" height="3.6" fill="url(#g13)"/><rect x="102.9" y="79" width="798" height="3.6" fill="url(#g14)"/><rect x="102.9" y="82" width="798" height="3.6" fill="url(#g15)"/><rect x="102.9" y="85" width="798" height="3.6" fill="url(#g16)"/><rect x="102.9" y="88" width="798" height="3.6" fill="url(#g17)"/><rect x="102.9" y="91" width="798" height="3.6" fill="url(#g18)"/><rect x="102.9" y="94" width="798" height="3.6" fill="url(#g19)"/><rect x="102.9" y="97" width="798" height="3.6" fill="url(#g20)"/><rect x="102.9" y="100" width="798" height="3.6" fill="url(#g21)"/><rect x="102.9" y="103" width="798" height="3.6" fill="url(#g22)"/><rect x="102.9" y="106" width="798" height="3.6" fill="url(#g23)"/><rect x="102.9" y="109" width="798" height="3.6" fill="url(#g24)"/><rect x="102.9" y="112" width="798" height="3.6" fill="url(#g25)"/><rect x="102.9" y="115" width="798" height="3.6" fill="url(#g26)"/><rect x="102.9" y="118" width="798" height="3.6" fill="url(#g27)"/><rect x="102.9" y="121" width="798" height="3.6" fill="url(#g28)"/><rect x="102.9" y="124" width="798" height="3.6" fill="url(#g29)"/><rect x="102.9" y="127" width="798" height="3.6" fill="url(#g30)"/><rect x="102.9" y="130" width="798" height="3.6" fill="url(#g31)"/><rect x="102.9" y="133" width="798" height="3.6" fill="url(#g32)"/><rect x="102.9" y="136" width="798" height="3.6" fill="url(#g33)"/><rect x="102.9" y="139" width="798" height="3.6" fill="url(#g34)"/><rect x="102.9" y="142" width="798" height="3.6" fill="url(#g35)"/><rect x="102.9" y="145" width="798" height="3.6" fill="url(#g36)"/><rect x="102.9" y="148" width="798" height="3.6" fill="url(#g37)"/><rect x="102.9" y="151" width="798" height="3.6" fill="url(#g38)"/><rect x="102.9" y="154" width="798" height="3.6" fill="url(#g39)"/><rect x="102.9" y="157" width="798" height="3.6" fill="url(#g40)"/><rect x="102.9" y="160" width="798" height="3.6" fill="url(#g41)"/><rect x="102.9" y="163" width="798" height="3.6" fill="url(#g42)"/><rect x="102.9" y="166" width="798" height="3.6" fill="url(#g43)"/><rect x="102.9" y="169" width="798" height="3.6" fill="url(#g44)"/><rect x="102.9" y="172" width="798" height="3.6" fill="url(#g45)"/><rect x="102.9" y="175" width="798" height="3.6" fill="url(#g46)"/><rect x="102.9" y="178" width="798" height="3.6" fill="url(#g47)"/><rect x="102.9" y="181" width="798" height="3.6" fill="url(#g48)"/><rect x="102.9" y="184" width="798" height="3.6" fill="url(#g49)"/><rect x="102.9" y="187" width="798" height="3.6" fill="url(#g50)"/><rect x="102.9" y="190" width="798" height="3.6" fill="url(#g51)"/><rect x="102.9" y="193" width="798" height="3.6" fill="url(#g52)"/><rect x="102.9" y="196" width="798" height="3.6" fill="url(#g53)"/><rect x="102.9" y="199" width="798" height="3.6" fill="url(#g54)"/><rect x="102.9" y="202" width="798" height="3.6" fill="url(#g55)"/><rect x="102.9" y="205" width="798" height="3.6" fill="url(#g56)"/><rect x="102.9" y="208" width="798" height="3.6" fill="url(#g57)"/><rect x="102.9" y="211" width="798" height="3.6" fill="url(#g58)"/><rect x="102.9" y="214" width="798" height="3.6" fill="url(#g59)"/><rect x="102.9" y="217" width="798" height="3.6" fill="url(#g60)"/><rect x="102.9" y="220" width="798" height="3.6" fill="url(#g61)"/><rect x="102.9" y="223" width="798" height="3.6" fill="url(#g62)"/><rect x="102.9" y="226" width="798" height="3.6" fill="url(#g63)"/><rect x="102.9" y="229" width="798" height="3.6" fill="url(#g64)"/><rect x="102.9" y="232" width="798" height="3.6" fill="url(#g65)"/><rect x="102.9" y="235" width="798" height="3.6" fill="url(#g66)"/><rect x="102.9" y="238" width="798" height="3.6" fill="url(#g67)"/><rect x="102.9" y="241" width="798" height="3.6" fill="url(#g68)"/><rect x="102.9" y="244" width="798" height="3.6" fill="url(#g69)"/><rect x="102.9" y="247" width="798" height="3.6" fill="url(#g70)"/><rect x="102.9" y="250" width="798" height="3.6" fill="url(#g71)"/><rect x="102.9" y="253" width="798" height="3.6" fill="url(#g72)"/><rect x="102.9" y="256" width="798" height="3.6" fill="url(#g73)"/><rect x="102.9" y="259" width="798" height="3.6" fill="url(#g74)"/><rect x="102.9" y="262" width="798" height="3.6" fill="url(#g75)"/><rect x="102.9" y="265" width="798" height="3.6" fill="url(#g76)"/><rect x="102.9" y="268" width="798" height="3.6" fill="url(#g77)"/><rect x="102.9" y="271" width="798" height="3.6" fill="url(#g78)"/><rect x="102.9" y="274" width="798" height="3.6" fill="url(#g79)"/><rect x="102.9" y="277" width="798" height="3.6" fill="url(#g80)"/><rect x="102.9" y="280" width="798" height="3.6" fill="url(#g81)"/><rect x="102.9" y="283" width="798" height="3.6" fill="url(#g82)"/><rect x="102.9" y="286" width="798" height="3.6" fill="url(#g83)"/><rect x="102.9" y="289" width="798" height="3.6" fill="url(#g84)"/><rect x="102.9" y="292" width="798" height="3.6" fill="url(#g85)"/><rect x="102.9" y="295" width="798" height="3.6" fill="url(#g86)"/><rect x="102.9" y="298" width="798" height="3.6" fill="url(#g87)"/><rect x="102.9" y="301" width="798" height="3.6" fill="url(#g88)"/><rect x="102.9" y="304" width="798" height="3.6" fill="url(#g89)"/><rect x="102.9" y="307" width="798" height="3.6" fill="url(#g90)"/><rect x="102.9" y="310" width="798" height="3.6" fill="url(#g91)"/><rect x="102.9" y="313" width="798" height="3.6" fill="url(#g92)"/><rect x="102.9" y="316" width="798" height="3.6" fill="url(#g93)"/><rect x="102.9" y="319" width="798" height="3.6" fill="url(#g94)"/><rect x="102.9" y="322" width="798" height="3.6" fill="url(#g95)"/><rect x="102.9" y="325" width="798" height="3.6" fill="url(#g96)"/><rect x="102.9" y="328" width="798" height="3.6" fill="url(#g97)"/><rect x="102.9" y="331" width="798" height="3.6" fill="url(#g98)"/><rect x="102.9" y="334" width="798" height="3.6" fill="url(#g99)"/><rect x="102.9" y="337" width="798" height="3.6" fill="url(#g100)"/><rect x="102.9" y="340" width="798" height="3.6" fill="url(#g101)"/><rect x="102.9" y="343" width="798" height="3.6" fill="url(#g102)"/><rect x="102.9" y="346" width="798" height="3.6" fill="url(#g103)"/><rect x="102.9" y="349" width="798" height="3.6" fill="url(#g104)"/><rect x="102.9" y="352" width="798" height="3.6" fill="url(#g105)"/><rect x="102.9" y="355" width="798" height="3.6" fill="url(#g106)"/><rect x="102.9" y="358" width="798" height="3.6" fill="url(#g107)"/><rect x="102.9" y="361" width="798" height="3.6" fill="url(#g108)"/><rect x="102.9" y="364" width="798" height="3.6" fill="url(#g109)"/><rect x="102.9" y="367" width="798" height="3.6" fill="url(#g110)"/><rect x="102.9" y="370" width="798" height="3.6" fill="url(#g111)"/><rect x="102.9" y="373" width="798" height="3.6" fill="url(#g112)"/><rect x="102.9" y="376" width="798" height="3.6" fill="url(#g113)"/><rect x="102.9" y="379" width="798" height="3.6" fill="url(#g114)"/><rect x="102.9" y="382" width="798" height="3.6" fill="url(#g115)"/><rect x="102.9" y="385" width="798" height="3.6" fill="url(#g116)"/><rect x="102.9" y="388" width="798" height="3.6" fill="url(#g117)"/><rect x="102.9" y="391" width="798" height="3.6" fill="url(#g118)"/><rect x="102.9" y="394" width="798" height="3.6" fill="url(#g119)"/><rect x="102.9" y="397" width="798" height="3.6" fill="url(#g120)"/><rect x="102.9" y="400" width="798" height="3.6" fill="url(#g121)"/><rect x="102.9" y="403" width="798" height="3.6" fill="url(#g122)"/><rect x="102.9" y="406" width="798" height="3.6" fill="url(#g123)"/><rect x="102.9" y="409" width="798" height="3.6" fill="url(#g124)"/><rect x="102.9" y="412" width="798" height="3.6" fill="url(#g125)"/><rect x="102.9" y="415" width="798" height="3.6" fill="url(#g126)"/><rect x="102.9" y="418" width="798" height="3.6" fill="url(#g127)"/><rect x="102.9" y="421" width="798" height="3.6" fill="url(#g128)"/><rect x="102.9" y="424" width="798" height="3.6" fill="url(#g129)"/><rect x="102.9" y="427" width="798" height="3.6" fill="url(#g130)"/><rect x="102.9" y="430" width="798" height="3.6" fill="url(#g131)"/><rect x="102.9" y="433" width="798" height="3.6" fill="url(#g132)"/><rect x="102.9" y="436" width="798" height="3.6" fill="url(#g133)"/><rect x="102.9" y="439" width="798" height="3.6" fill="url(#g134)"/><rect x="102.9" y="442" width="798" height="3.6" fill="url(#g135)"/><rect x="102.9" y="445" width="798" height="3.6" fill="url(#g136)"/><rect x="102.9" y="448" width="798" height="3.6" fill="url(#g137)"/><rect x="102.9" y="451" width="798" height="3.6" fill="url(#g138)"/><rect x="102.9" y="454" width="798" height="3.6" fill="url(#g139)"/><rect x="102.9" y="457" width="798" height="3.6" fill="url(#g140)"/><rect x="102.9" y="460" width="798" height="3.6" fill="url(#g141)"/><rect x="102.9" y="463" width="798" height="3.6" fill="url(#g142)"/><rect x="102.9" y="466" width="798" height="3.6" fill="url(#g143)"/><rect x="102.9" y="469" width="798" height="3.6" fill="url(#g144)"/><rect x="102.9" y="472" width="798" height="3.6" fill="url(#g145)"/><rect x="102.9" y="475" width="798" height="3.6" fill="url(#g146)"/><rect x="102.9" y="478" width="798" height="3.6" fill="url(#g147)"/><rect x="102.9" y="481" width="798" height="3.6" fill="url(#g148)"/><rect x="102.9" y="484" width="798" height="3.6" fill="url(#g149)"/><rect x="102.9" y="487" width="798" height="3.6" fill="url(#g150)"/><rect x="102.9" y="490" width="798" height="3.6" fill="url(#g151)"/><rect x="102.9" y="493" width="798" height="3.6" fill="url(#g152)"/><rect x="102.9" y="496" width="798" height="3.6" fill="url(#g153)"/><rect x="102.9" y="499" width="798" height="3.6" fill="url(#g154)"/><rect x="102.9" y="502" width="798" height="3.6" fill="url(#g155)"/><rect x="102.9" y="505" width="798" height="3.6" fill="url(#g156)"/><rect x="102.9" y="508" width="798" height="3.6" fill="url(#g157)"/><rect x="102.9" y="511" width="798" height="3.6" fill="url(#g158)"/><rect x="102.9" y="514" width="798" height="3.6" fill="url(#g159)"/><rect x="102.9" y="517" width="798" height="3.6" fill="url(#g160)"/><rect x="102.9" y="520" width="798" height="3.6" fill="url(#g161)"/><rect x="102.9" y="523" width="798" height="3.6" fill="url(#g162)"/><rect x="102.9" y="526" width="798" height="3.6" fill="url(#g163)"/><rect x="102.9" y="529" width="798" height="3.6" fill="url(#g164)"/><rect x="102.9" y="532" width="798" height="3.6" fill="url(#g165)"/><rect x="102.9" y="535" width="798" height="3.6" fill="url(#g166)"/><rect x="102.9" y="538" width="798" height="3.6" fill="url(#g167)"/><rect x="102.9" y="541" width="798" height="3.6" fill="url(#g168)"/><rect x="102.9" y="544" width="798" height="3.6" fill="url(#g169)"/><rect x="102.9" y="547" width="798" height="3.6" fill="url(#g170)"/><rect x="102.9" y="550" width="798" height="3.6" fill="url(#g171)"/><rect x="102.9" y="553" width="798" height="3.6" fill="url(#g172)"/><rect x="102.9" y="556" width="798" height="1" fill="url(#g173)"/></g>
<polyline points="422.1,39.9 435.4,45.3 448.7,50.7 462,55.9 475.3,61 488.6,66.1 501.9,71 515.2,75.9 528.5,80.8 541.8,85.5 555.1,90.2 568.4,94.8 581.7,99.4 595,103.9 608.3,108.4 621.6,112.8 634.9,117.2 648.2,121.5 661.5,125.8 674.8,130 688.1,134.2 701.4,138.3 714.7,142.4 728,146.5 741.3,150.5 754.6,154.5 767.9,158.5 781.2,162.4 794.5,166.3 807.8,170.2 821.1,174 834.4,177.8 847.7,181.6 861,185.4 874.3,189.1 887.6,192.8 900.9,196.5" fill="none" stroke="#061806" stroke-width="1.1" stroke-opacity=".8"/>
<polyline points="102.9,125.9 116.2,129.7 129.5,133.4 142.8,137.1 156.1,140.7 169.4,144.3 182.7,147.9 196,151.5 209.3,155 222.6,158.5 235.9,162 249.2,165.5 262.5,168.9 275.8,172.4 289.1,175.8 302.4,179.1 315.7,182.5 329,185.8 342.3,189.1 355.6,192.4 368.9,195.7 382.2,199 395.5,202.2 408.8,205.4 422.1,208.6 435.4,211.8 448.7,215 462,218.2 475.3,221.3 488.6,224.4 501.9,227.5 515.2,230.6 528.5,233.7 541.8,236.8 555.1,239.8 568.4,242.9 581.7,245.9 595,248.9 608.3,251.9 621.6,254.9 634.9,257.9 648.2,260.9 661.5,263.9 674.8,266.8 688.1,269.7 701.4,272.7 714.7,275.6 728,278.5 741.3,281.4 754.6,284.3 767.9,287.2 781.2,290 794.5,292.9 807.8,295.7 821.1,298.6 834.4,301.4 847.7,304.3 861,307.1 874.3,309.9 887.6,312.7 900.9,315.5" fill="none" stroke="#061806" stroke-width="1.1" stroke-opacity=".8"/>
<polyline points="102.9,270.1 116.2,272.6 129.5,275.1 142.8,277.6 156.1,280.1 169.4,282.6 182.7,285.1 196,287.5 209.3,290 222.6,292.5 235.9,294.9 249.2,297.4 262.5,299.8 275.8,302.3 289.1,304.7 302.4,307.2 315.7,309.6 329,312 342.3,314.4 355.6,316.9 368.9,319.3 382.2,321.7 395.5,324.1 408.8,326.5 422.1,328.9 435.4,331.3 448.7,333.7 462,336.1 475.3,338.5 488.6,340.9 501.9,343.3 515.2,345.6 528.5,348 541.8,350.4 555.1,352.8 568.4,355.1 581.7,357.5 595,359.9 608.3,362.2 621.6,364.6 634.9,366.9 648.2,369.3 661.5,371.6 674.8,374 688.1,376.3 701.4,378.6 714.7,381 728,383.3 741.3,385.6 754.6,388 767.9,390.3 781.2,392.6 794.5,394.9 807.8,397.3 821.1,399.6 834.4,401.9 847.7,404.2 861,406.5 874.3,408.8 887.6,411.1 900.9,413.4" fill="none" stroke="#061806" stroke-width="1.1" stroke-opacity=".8"/>
<polyline points="102.9,381.3 116.2,383.2 129.5,385.2 142.8,387.1 156.1,389.1 169.4,391 182.7,393 196,394.9 209.3,396.9 222.6,398.8 235.9,400.8 249.2,402.7 262.5,404.7 275.8,406.7 289.1,408.6 302.4,410.6 315.7,412.5 329,414.5 342.3,416.4 355.6,418.4 368.9,420.3 382.2,422.3 395.5,424.3 408.8,426.2 422.1,428.2 435.4,430.1 448.7,432.1 462,434.1 475.3,436 488.6,438 501.9,440 515.2,441.9 528.5,443.9 541.8,445.9 555.1,447.8 568.4,449.8 581.7,451.8 595,453.7 608.3,455.7 621.6,457.7 634.9,459.6 648.2,461.6 661.5,463.6 674.8,465.5 688.1,467.5 701.4,469.5 714.7,471.5 728,473.4 741.3,475.4 754.6,477.4 767.9,479.3 781.2,481.3 794.5,483.3 807.8,485.3 821.1,487.2 834.4,489.2 847.7,491.2 861,493.2 874.3,495.2 887.6,497.1 900.9,499.1" fill="none" stroke="#061806" stroke-width="1.1" stroke-opacity=".8"/>
<polyline points="102.9,475.1 116.2,476.7 129.5,478.3 142.8,479.9 156.1,481.5 169.4,483.2 182.7,484.8 196,486.4 209.3,488 222.6,489.7 235.9,491.3 249.2,493 262.5,494.6 275.8,496.2 289.1,497.9 302.4,499.5 315.7,501.2 329,502.8 342.3,504.5 355.6,506.2 368.9,507.8 382.2,509.5 395.5,511.1 408.8,512.8 422.1,514.5 435.4,516.2 448.7,517.8 462,519.5 475.3,521.2 488.6,522.9 501.9,524.6 515.2,526.2 528.5,527.9 541.8,529.6 555.1,531.3 568.4,533 581.7,534.7 595,536.4 608.3,538.1 621.6,539.8 634.9,541.5 648.2,543.2 661.5,544.9 674.8,546.7 688.1,548.4 701.4,550.1 714.7,551.8 728,553.5 741.3,555.2 754.6,557" fill="none" stroke="#061806" stroke-width="1.1" stroke-opacity=".8"/>
<rect x="102.9" y="39.8" width="798" height="517.4" fill="none" stroke="#2a2a3a" stroke-opacity=".8" stroke-width="1.2"/>
<text x="71.8" y="41" font-size="14" text-anchor="end" fill="#222" stroke="#222" stroke-width=".25">20.00</text>
<line x1="79.6" y1="169.2" x2="102.9" y2="169.2" stroke="#333" stroke-width="1.3"/>
<text x="71.8" y="171" font-size="14" text-anchor="end" fill="#222" stroke="#222" stroke-width=".25">17.50</text>
<line x1="79.6" y1="298.4" x2="102.9" y2="298.4" stroke="#333" stroke-width="1.3"/>
<text x="71.8" y="301" font-size="14" text-anchor="end" fill="#222" stroke="#222" stroke-width=".25">15.00</text>
<line x1="79.6" y1="428" x2="102.9" y2="428" stroke="#333" stroke-width="1.3"/>
<text x="71.8" y="431" font-size="14" text-anchor="end" fill="#222" stroke="#222" stroke-width=".25">12.50</text>
<text x="71.8" y="561" font-size="14" text-anchor="end" fill="#222" stroke="#222" stroke-width=".25">10.00</text>
<line x1="102.9" y1="557.2" x2="102.9" y2="571.8" stroke="#333" stroke-width="1.3"/>
<text x="101.4" y="592.2" font-size="14" text-anchor="middle" fill="#222" stroke="#222" stroke-width=".25">4.00</text>
<line x1="302.4" y1="557.2" x2="302.4" y2="571.8" stroke="#333" stroke-width="1.3"/>
<text x="300.9" y="592.2" font-size="14" text-anchor="middle" fill="#222" stroke="#222" stroke-width=".25">5.00</text>
<line x1="501.9" y1="557.2" x2="501.9" y2="571.8" stroke="#333" stroke-width="1.3"/>
<text x="500.4" y="592.2" font-size="14" text-anchor="middle" fill="#222" stroke="#222" stroke-width=".25">6.00</text>
<line x1="701.4" y1="557.2" x2="701.4" y2="571.8" stroke="#333" stroke-width="1.3"/>
<text x="699.9" y="592.2" font-size="14" text-anchor="middle" fill="#222" stroke="#222" stroke-width=".25">7.00</text>
<line x1="900.9" y1="557.2" x2="900.9" y2="571.8" stroke="#333" stroke-width="1.3"/>
<text x="899.4" y="592.2" font-size="14" text-anchor="middle" fill="#222" stroke="#222" stroke-width=".25">8.00</text>
<line x1="79.6" y1="557.7" x2="901.5" y2="557.7" stroke="#777" stroke-opacity=".85" stroke-width="2.3"/>
<line x1="79.6" y1="39.6" x2="901.5" y2="39.6" stroke="#5a5a78" stroke-opacity=".85" stroke-width="2.4"/>
<rect x="619.9" y="104.2" width="62.3" height="18.3" fill="#fff" stroke="#2a332a" stroke-width="1.3"/><text x="651" y="120.9" font-size="19" text-anchor="middle" fill="#2b2b2b" textLength="51.5" lengthAdjust="spacingAndGlyphs">26.632</text>
<rect x="460" y="204.7" width="63" height="20.2" fill="#fff" stroke="#2a332a" stroke-width="1.3"/><text x="491.5" y="223.3" font-size="19" text-anchor="middle" fill="#2b2b2b" textLength="51.5" lengthAdjust="spacingAndGlyphs">26.914</text>
<rect x="460" y="320.7" width="63" height="19.6" fill="#fff" stroke="#2a332a" stroke-width="1.3"/><text x="491.5" y="338.7" font-size="19" text-anchor="middle" fill="#2b2b2b" textLength="51.5" lengthAdjust="spacingAndGlyphs">27.195</text>
<rect x="460" y="416.7" width="63" height="19.9" fill="#fff" stroke="#2a332a" stroke-width="1.3"/><text x="491.5" y="435" font-size="19" text-anchor="middle" fill="#2b2b2b" textLength="51.5" lengthAdjust="spacingAndGlyphs">27.477</text>
<rect x="400.4" y="494.9" width="63.1" height="19.4" fill="#fff" stroke="#2a332a" stroke-width="1.3"/><text x="431.9" y="512.7" font-size="19" text-anchor="middle" fill="#2b2b2b" textLength="51.5" lengthAdjust="spacingAndGlyphs">27.759</text>
<ellipse cx="102.9" cy="298.4" rx="6.8" ry="4.6" fill="#d11010" stroke="#7a0b0b" stroke-width="1"/>
<ellipse cx="501.9" cy="298.4" rx="6.8" ry="4.6" fill="#d11010" stroke="#7a0b0b" stroke-width="1"/>
<ellipse cx="900.9" cy="298.4" rx="6.8" ry="4.6" fill="#d11010" stroke="#7a0b0b" stroke-width="1"/>
<ellipse cx="501.9" cy="39.8" rx="6.8" ry="4.6" fill="#d11010" stroke="#7a0b0b" stroke-width="1"/>
<ellipse cx="501.9" cy="557.2" rx="6.8" ry="4.6" fill="#d11010" stroke="#7a0b0b" stroke-width="1"/>
<text x="499.5" y="28.3" font-size="30" text-anchor="middle" fill="#111" >(T)</text>
<text x="14.2" y="282.4" font-size="30" text-anchor="middle" fill="#111" >B</text>
<text x="499.5" y="663.2" font-size="23" text-anchor="middle" fill="#333" >A</text>
<g shape-rendering="crispEdges"><rect x="1159" y="47.2" width="3.6" height="481.2" fill="url(#g174)"/><rect x="1162" y="47.2" width="3.6" height="481.2" fill="url(#g175)"/><rect x="1165" y="47.2" width="3.6" height="481.2" fill="url(#g176)"/><rect x="1168" y="47.2" width="3.6" height="481.2" fill="url(#g177)"/><rect x="1171" y="47.2" width="3.6" height="481.2" fill="url(#g178)"/><rect x="1174" y="47.2" width="3.6" height="481.2" fill="url(#g179)"/><rect x="1177" y="47.2" width="3.6" height="481.2" fill="url(#g180)"/><rect x="1180" y="47.2" width="3.6" height="481.2" fill="url(#g181)"/><rect x="1183" y="47.2" width="3.6" height="481.2" fill="url(#g182)"/><rect x="1186" y="47.2" width="3.6" height="481.2" fill="url(#g183)"/><rect x="1189" y="47.2" width="3.6" height="481.2" fill="url(#g184)"/><rect x="1192" y="47.2" width="3.6" height="481.2" fill="url(#g185)"/><rect x="1195" y="47.2" width="3.6" height="481.2" fill="url(#g186)"/><rect x="1198" y="47.2" width="3.6" height="481.2" fill="url(#g187)"/><rect x="1201" y="47.2" width="3.6" height="481.2" fill="url(#g188)"/><rect x="1204" y="47.2" width="3.6" height="481.2" fill="url(#g189)"/><rect x="1207" y="47.2" width="3.6" height="481.2" fill="url(#g190)"/><rect x="1210" y="47.2" width="3.6" height="481.2" fill="url(#g191)"/><rect x="1213" y="47.2" width="3.6" height="481.2" fill="url(#g192)"/><rect x="1216" y="47.2" width="3.6" height="481.2" fill="url(#g193)"/><rect x="1219" y="47.2" width="3.6" height="481.2" fill="url(#g194)"/><rect x="1222" y="47.2" width="3.6" height="481.2" fill="url(#g195)"/><rect x="1225" y="47.2" width="3.6" height="481.2" fill="url(#g196)"/><rect x="1228" y="47.2" width="3.6" height="481.2" fill="url(#g197)"/><rect x="1231" y="47.2" width="3.6" height="481.2" fill="url(#g198)"/><rect x="1234" y="47.2" width="3.6" height="481.2" fill="url(#g199)"/><rect x="1237" y="47.2" width="3.6" height="481.2" fill="url(#g200)"/><rect x="1240" y="47.2" width="3.6" height="481.2" fill="url(#g201)"/><rect x="1243" y="47.2" width="3.6" height="481.2" fill="url(#g202)"/><rect x="1246" y="47.2" width="3.6" height="481.2" fill="url(#g203)"/><rect x="1249" y="47.2" width="3.6" height="481.2" fill="url(#g204)"/><rect x="1252" y="47.2" width="3.6" height="481.2" fill="url(#g205)"/><rect x="1255" y="47.2" width="3.6" height="481.2" fill="url(#g206)"/><rect x="1258" y="47.2" width="3.6" height="481.2" fill="url(#g207)"/><rect x="1261" y="47.2" width="3.6" height="481.2" fill="url(#g208)"/><rect x="1264" y="47.2" width="3.6" height="481.2" fill="url(#g209)"/><rect x="1267" y="47.2" width="3.6" height="481.2" fill="url(#g210)"/><rect x="1270" y="47.2" width="3.6" height="481.2" fill="url(#g211)"/><rect x="1273" y="47.2" width="3.6" height="481.2" fill="url(#g212)"/><rect x="1276" y="47.2" width="3.6" height="481.2" fill="url(#g213)"/><rect x="1279" y="47.2" width="3.6" height="481.2" fill="url(#g214)"/><rect x="1282" y="47.2" width="3.6" height="481.2" fill="url(#g215)"/><rect x="1285" y="47.2" width="3.6" height="481.2" fill="url(#g216)"/><rect x="1288" y="47.2" width="3.6" height="481.2" fill="url(#g217)"/><rect x="1291" y="47.2" width="3.6" height="481.2" fill="url(#g218)"/><rect x="1294" y="47.2" width="3.6" height="481.2" fill="url(#g219)"/><rect x="1297" y="47.2" width="3.6" height="481.2" fill="url(#g220)"/><rect x="1300" y="47.2" width="3.6" height="481.2" fill="url(#g221)"/><rect x="1303" y="47.2" width="3.6" height="481.2" fill="url(#g222)"/><rect x="1306" y="47.2" width="3.6" height="481.2" fill="url(#g223)"/><rect x="1309" y="47.2" width="3.6" height="481.2" fill="url(#g224)"/><rect x="1312" y="47.2" width="3.6" height="481.2" fill="url(#g225)"/><rect x="1315" y="47.2" width="3.6" height="481.2" fill="url(#g226)"/><rect x="1318" y="47.2" width="3.6" height="481.2" fill="url(#g227)"/><rect x="1321" y="47.2" width="3.6" height="481.2" fill="url(#g228)"/><rect x="1324" y="47.2" width="3.6" height="481.2" fill="url(#g229)"/><rect x="1327" y="47.2" width="3.6" height="481.2" fill="url(#g230)"/><rect x="1330" y="47.2" width="3.6" height="481.2" fill="url(#g231)"/><rect x="1333" y="47.2" width="3.6" height="481.2" fill="url(#g232)"/><rect x="1336" y="47.2" width="3.6" height="481.2" fill="url(#g233)"/><rect x="1339" y="47.2" width="3.6" height="481.2" fill="url(#g234)"/><rect x="1342" y="47.2" width="3.6" height="481.2" fill="url(#g235)"/><rect x="1345" y="47.2" width="3.6" height="481.2" fill="url(#g236)"/><rect x="1348" y="47.2" width="3.6" height="481.2" fill="url(#g237)"/><rect x="1351" y="47.2" width="3.6" height="481.2" fill="url(#g238)"/><rect x="1354" y="47.2" width="3.6" height="481.2" fill="url(#g239)"/><rect x="1357" y="47.2" width="3.6" height="481.2" fill="url(#g240)"/><rect x="1360" y="47.2" width="3.6" height="481.2" fill="url(#g241)"/><rect x="1363" y="47.2" width="3.6" height="481.2" fill="url(#g242)"/><rect x="1366" y="47.2" width="3.6" height="481.2" fill="url(#g243)"/><rect x="1369" y="47.2" width="3.6" height="481.2" fill="url(#g244)"/><rect x="1372" y="47.2" width="3.6" height="481.2" fill="url(#g245)"/><rect x="1375" y="47.2" width="3.6" height="481.2" fill="url(#g246)"/><rect x="1378" y="47.2" width="3.6" height="481.2" fill="url(#g247)"/><rect x="1381" y="47.2" width="3.6" height="481.2" fill="url(#g248)"/><rect x="1384" y="47.2" width="3.6" height="481.2" fill="url(#g249)"/><rect x="1387" y="47.2" width="3.6" height="481.2" fill="url(#g250)"/><rect x="1390" y="47.2" width="3.6" height="481.2" fill="url(#g251)"/><rect x="1393" y="47.2" width="3.6" height="481.2" fill="url(#g252)"/><rect x="1396" y="47.2" width="3.6" height="481.2" fill="url(#g253)"/><rect x="1399" y="47.2" width="3.6" height="481.2" fill="url(#g254)"/><rect x="1402" y="47.2" width="3.6" height="481.2" fill="url(#g255)"/><rect x="1405" y="47.2" width="3.6" height="481.2" fill="url(#g256)"/><rect x="1408" y="47.2" width="3.6" height="481.2" fill="url(#g257)"/><rect x="1411" y="47.2" width="3.6" height="481.2" fill="url(#g258)"/><rect x="1414" y="47.2" width="3.6" height="481.2" fill="url(#g259)"/><rect x="1417" y="47.2" width="3.6" height="481.2" fill="url(#g260)"/><rect x="1420" y="47.2" width="3.6" height="481.2" fill="url(#g261)"/><rect x="1423" y="47.2" width="3.6" height="481.2" fill="url(#g262)"/><rect x="1426" y="47.2" width="3.6" height="481.2" fill="url(#g263)"/><rect x="1429" y="47.2" width="3.6" height="481.2" fill="url(#g264)"/><rect x="1432" y="47.2" width="3.6" height="481.2" fill="url(#g265)"/><rect x="1435" y="47.2" width="3.6" height="481.2" fill="url(#g266)"/><rect x="1438" y="47.2" width="3.6" height="481.2" fill="url(#g267)"/><rect x="1441" y="47.2" width="3.6" height="481.2" fill="url(#g268)"/><rect x="1444" y="47.2" width="3.6" height="481.2" fill="url(#g269)"/><rect x="1447" y="47.2" width="3.6" height="481.2" fill="url(#g270)"/><rect x="1450" y="47.2" width="3.6" height="481.2" fill="url(#g271)"/><rect x="1453" y="47.2" width="3.6" height="481.2" fill="url(#g272)"/><rect x="1456" y="47.2" width="3.6" height="481.2" fill="url(#g273)"/><rect x="1459" y="47.2" width="3.6" height="481.2" fill="url(#g274)"/><rect x="1462" y="47.2" width="3.6" height="481.2" fill="url(#g275)"/><rect x="1465" y="47.2" width="3.6" height="481.2" fill="url(#g276)"/><rect x="1468" y="47.2" width="3.6" height="481.2" fill="url(#g277)"/><rect x="1471" y="47.2" width="3.6" height="481.2" fill="url(#g278)"/><rect x="1474" y="47.2" width="3.6" height="481.2" fill="url(#g279)"/><rect x="1477" y="47.2" width="3.6" height="481.2" fill="url(#g280)"/><rect x="1480" y="47.2" width="3.6" height="481.2" fill="url(#g281)"/><rect x="1483" y="47.2" width="3.6" height="481.2" fill="url(#g282)"/><rect x="1486" y="47.2" width="3.6" height="481.2" fill="url(#g283)"/><rect x="1489" y="47.2" width="3.6" height="481.2" fill="url(#g284)"/><rect x="1492" y="47.2" width="3.6" height="481.2" fill="url(#g285)"/><rect x="1495" y="47.2" width="3.6" height="481.2" fill="url(#g286)"/><rect x="1498" y="47.2" width="3.6" height="481.2" fill="url(#g287)"/><rect x="1501" y="47.2" width="3.6" height="481.2" fill="url(#g288)"/><rect x="1504" y="47.2" width="3.6" height="481.2" fill="url(#g289)"/><rect x="1507" y="47.2" width="3.6" height="481.2" fill="url(#g290)"/><rect x="1510" y="47.2" width="3.6" height="481.2" fill="url(#g291)"/><rect x="1513" y="47.2" width="3.6" height="481.2" fill="url(#g292)"/><rect x="1516" y="47.2" width="3.6" height="481.2" fill="url(#g293)"/><rect x="1519" y="47.2" width="3.6" height="481.2" fill="url(#g294)"/><rect x="1522" y="47.2" width="3.6" height="481.2" fill="url(#g295)"/><rect x="1525" y="47.2" width="3.6" height="481.2" fill="url(#g296)"/><rect x="1528" y="47.2" width="3.6" height="481.2" fill="url(#g297)"/><rect x="1531" y="47.2" width="3.6" height="481.2" fill="url(#g298)"/><rect x="1534" y="47.2" width="3.6" height="481.2" fill="url(#g299)"/><rect x="1537" y="47.2" width="3.6" height="481.2" fill="url(#g300)"/><rect x="1540" y="47.2" width="3.6" height="481.2" fill="url(#g301)"/><rect x="1543" y="47.2" width="3.6" height="481.2" fill="url(#g302)"/><rect x="1546" y="47.2" width="3.6" height="481.2" fill="url(#g303)"/><rect x="1549" y="47.2" width="3.6" height="481.2" fill="url(#g304)"/><rect x="1552" y="47.2" width="3.6" height="481.2" fill="url(#g305)"/><rect x="1555" y="47.2" width="3.6" height="481.2" fill="url(#g306)"/><rect x="1558" y="47.2" width="3.6" height="481.2" fill="url(#g307)"/><rect x="1561" y="47.2" width="3.6" height="481.2" fill="url(#g308)"/><rect x="1564" y="47.2" width="3.6" height="481.2" fill="url(#g309)"/><rect x="1567" y="47.2" width="3.6" height="481.2" fill="url(#g310)"/><rect x="1570" y="47.2" width="3.6" height="481.2" fill="url(#g311)"/><rect x="1573" y="47.2" width="3.6" height="481.2" fill="url(#g312)"/><rect x="1576" y="47.2" width="3.6" height="481.2" fill="url(#g313)"/><rect x="1579" y="47.2" width="3.6" height="481.2" fill="url(#g314)"/><rect x="1582" y="47.2" width="3.6" height="481.2" fill="url(#g315)"/><rect x="1585" y="47.2" width="3.6" height="481.2" fill="url(#g316)"/><rect x="1588" y="47.2" width="3.6" height="481.2" fill="url(#g317)"/><rect x="1591" y="47.2" width="3.6" height="481.2" fill="url(#g318)"/><rect x="1594" y="47.2" width="3.6" height="481.2" fill="url(#g319)"/><rect x="1597" y="47.2" width="3.6" height="481.2" fill="url(#g320)"/><rect x="1600" y="47.2" width="3.6" height="481.2" fill="url(#g321)"/><rect x="1603" y="47.2" width="3.6" height="481.2" fill="url(#g322)"/><rect x="1606" y="47.2" width="3.6" height="481.2" fill="url(#g323)"/><rect x="1609" y="47.2" width="3.6" height="481.2" fill="url(#g324)"/><rect x="1612" y="47.2" width="3.6" height="481.2" fill="url(#g325)"/><rect x="1615" y="47.2" width="3.6" height="481.2" fill="url(#g326)"/><rect x="1618" y="47.2" width="3.6" height="481.2" fill="url(#g327)"/><rect x="1621" y="47.2" width="3.6" height="481.2" fill="url(#g328)"/><rect x="1624" y="47.2" width="3.6" height="481.2" fill="url(#g329)"/><rect x="1627" y="47.2" width="3.6" height="481.2" fill="url(#g330)"/><rect x="1630" y="47.2" width="3.6" height="481.2" fill="url(#g331)"/><rect x="1633" y="47.2" width="3.6" height="481.2" fill="url(#g332)"/><rect x="1636" y="47.2" width="3.6" height="481.2" fill="url(#g333)"/><rect x="1639" y="47.2" width="3.6" height="481.2" fill="url(#g334)"/><rect x="1642" y="47.2" width="3.6" height="481.2" fill="url(#g335)"/><rect x="1645" y="47.2" width="3.6" height="481.2" fill="url(#g336)"/><rect x="1648" y="47.2" width="3.6" height="481.2" fill="url(#g337)"/><rect x="1651" y="47.2" width="3.6" height="481.2" fill="url(#g338)"/><rect x="1654" y="47.2" width="3.6" height="481.2" fill="url(#g339)"/><rect x="1657" y="47.2" width="3.6" height="481.2" fill="url(#g340)"/><rect x="1660" y="47.2" width="3.6" height="481.2" fill="url(#g341)"/><rect x="1663" y="47.2" width="3.6" height="481.2" fill="url(#g342)"/><rect x="1666" y="47.2" width="3.6" height="481.2" fill="url(#g343)"/><rect x="1669" y="47.2" width="3.6" height="481.2" fill="url(#g344)"/><rect x="1672" y="47.2" width="3.6" height="481.2" fill="url(#g345)"/><rect x="1675" y="47.2" width="3.6" height="481.2" fill="url(#g346)"/><rect x="1678" y="47.2" width="3.6" height="481.2" fill="url(#g347)"/><rect x="1681" y="47.2" width="3.6" height="481.2" fill="url(#g348)"/><rect x="1684" y="47.2" width="3.6" height="481.2" fill="url(#g349)"/><rect x="1687" y="47.2" width="3.6" height="481.2" fill="url(#g350)"/><rect x="1690" y="47.2" width="3.6" height="481.2" fill="url(#g351)"/><rect x="1693" y="47.2" width="3.6" height="481.2" fill="url(#g352)"/><rect x="1696" y="47.2" width="3.6" height="481.2" fill="url(#g353)"/><rect x="1699" y="47.2" width="3.6" height="481.2" fill="url(#g354)"/><rect x="1702" y="47.2" width="3.6" height="481.2" fill="url(#g355)"/><rect x="1705" y="47.2" width="3.6" height="481.2" fill="url(#g356)"/><rect x="1708" y="47.2" width="3.6" height="481.2" fill="url(#g357)"/><rect x="1711" y="47.2" width="3.6" height="481.2" fill="url(#g358)"/><rect x="1714" y="47.2" width="3.6" height="481.2" fill="url(#g359)"/><rect x="1717" y="47.2" width="3.6" height="481.2" fill="url(#g360)"/><rect x="1720" y="47.2" width="3.6" height="481.2" fill="url(#g361)"/><rect x="1723" y="47.2" width="3.6" height="481.2" fill="url(#g362)"/><rect x="1726" y="47.2" width="3.6" height="481.2" fill="url(#g363)"/><rect x="1729" y="47.2" width="3.6" height="481.2" fill="url(#g364)"/><rect x="1732" y="47.2" width="3.6" height="481.2" fill="url(#g365)"/><rect x="1735" y="47.2" width="3.6" height="481.2" fill="url(#g366)"/><rect x="1738" y="47.2" width="3.6" height="481.2" fill="url(#g367)"/><rect x="1741" y="47.2" width="3.6" height="481.2" fill="url(#g368)"/><rect x="1744" y="47.2" width="3.6" height="481.2" fill="url(#g369)"/><rect x="1747" y="47.2" width="3.6" height="481.2" fill="url(#g370)"/><rect x="1750" y="47.2" width="3.6" height="481.2" fill="url(#g371)"/><rect x="1753" y="47.2" width="3.6" height="481.2" fill="url(#g372)"/><rect x="1756" y="47.2" width="3.6" height="481.2" fill="url(#g373)"/><rect x="1759" y="47.2" width="3.6" height="481.2" fill="url(#g374)"/><rect x="1762" y="47.2" width="3.6" height="481.2" fill="url(#g375)"/><rect x="1765" y="47.2" width="3.6" height="481.2" fill="url(#g376)"/><rect x="1768" y="47.2" width="3.6" height="481.2" fill="url(#g377)"/><rect x="1771" y="47.2" width="3.6" height="481.2" fill="url(#g378)"/><rect x="1774" y="47.2" width="3.6" height="481.2" fill="url(#g379)"/><rect x="1777" y="47.2" width="3.6" height="481.2" fill="url(#g380)"/><rect x="1780" y="47.2" width="3.6" height="481.2" fill="url(#g381)"/><rect x="1783" y="47.2" width="3.6" height="481.2" fill="url(#g382)"/><rect x="1786" y="47.2" width="3.6" height="481.2" fill="url(#g383)"/><rect x="1789" y="47.2" width="3.6" height="481.2" fill="url(#g384)"/><rect x="1792" y="47.2" width="3.6" height="481.2" fill="url(#g385)"/><rect x="1795" y="47.2" width="3.6" height="481.2" fill="url(#g386)"/><rect x="1798" y="47.2" width="3.6" height="481.2" fill="url(#g387)"/><rect x="1801" y="47.2" width="3.6" height="481.2" fill="url(#g388)"/><rect x="1804" y="47.2" width="3.6" height="481.2" fill="url(#g389)"/><rect x="1807" y="47.2" width="3.6" height="481.2" fill="url(#g390)"/><rect x="1810" y="47.2" width="3.6" height="481.2" fill="url(#g391)"/><rect x="1813" y="47.2" width="3.6" height="481.2" fill="url(#g392)"/><rect x="1816" y="47.2" width="3.6" height="481.2" fill="url(#g393)"/><rect x="1819" y="47.2" width="3.6" height="481.2" fill="url(#g394)"/><rect x="1822" y="47.2" width="3.6" height="481.2" fill="url(#g395)"/><rect x="1825" y="47.2" width="3.6" height="481.2" fill="url(#g396)"/><rect x="1828" y="47.2" width="3.6" height="481.2" fill="url(#g397)"/><rect x="1831" y="47.2" width="3.6" height="481.2" fill="url(#g398)"/><rect x="1834" y="47.2" width="3.6" height="481.2" fill="url(#g399)"/><rect x="1837" y="47.2" width="3.6" height="481.2" fill="url(#g400)"/><rect x="1840" y="47.2" width="3.6" height="481.2" fill="url(#g401)"/><rect x="1843" y="47.2" width="3.6" height="481.2" fill="url(#g402)"/><rect x="1846" y="47.2" width="3.6" height="481.2" fill="url(#g403)"/><rect x="1849" y="47.2" width="3.6" height="481.2" fill="url(#g404)"/><rect x="1852" y="47.2" width="3.6" height="481.2" fill="url(#g405)"/><rect x="1855" y="47.2" width="3.6" height="481.2" fill="url(#g406)"/><rect x="1858" y="47.2" width="3.6" height="481.2" fill="url(#g407)"/><rect x="1861" y="47.2" width="3.6" height="481.2" fill="url(#g408)"/><rect x="1864" y="47.2" width="3.6" height="481.2" fill="url(#g409)"/><rect x="1867" y="47.2" width="3.6" height="481.2" fill="url(#g410)"/><rect x="1870" y="47.2" width="3.6" height="481.2" fill="url(#g411)"/><rect x="1873" y="47.2" width="3.6" height="481.2" fill="url(#g412)"/><rect x="1876" y="47.2" width="3.6" height="481.2" fill="url(#g413)"/><rect x="1879" y="47.2" width="3.6" height="481.2" fill="url(#g414)"/><rect x="1882" y="47.2" width="3.6" height="481.2" fill="url(#g415)"/><rect x="1885" y="47.2" width="3.6" height="481.2" fill="url(#g416)"/><rect x="1888" y="47.2" width="3.6" height="481.2" fill="url(#g417)"/><rect x="1891" y="47.2" width="3.6" height="481.2" fill="url(#g418)"/><rect x="1894" y="47.2" width="3.6" height="481.2" fill="url(#g419)"/><rect x="1897" y="47.2" width="3" height="481.2" fill="url(#g420)"/></g>
<polyline points="1160.3,183.5 1162.2,191.6 1164.1,199.6 1166,207.6 1168,215.6 1170,223.6 1172,231.7 1174.1,239.7 1176.2,247.7 1178.3,255.7 1180.4,263.7 1182.6,271.8 1184.8,279.8 1187.1,287.8 1189.4,295.8 1191.7,303.8 1194,311.9 1196.4,319.9 1198.8,327.9 1201.2,335.9 1203.7,343.9 1206.2,352 1208.7,360 1211.3,368 1213.9,376 1216.5,384 1219.2,392.1 1221.9,400.1 1224.7,408.1 1227.4,416.1 1230.2,424.1 1233.1,432.2 1236,440.2 1238.9,448.2 1241.8,456.2 1244.8,464.2 1247.9,472.3 1250.9,480.3 1254,488.3 1257.2,496.3 1260.3,504.3 1263.5,512.4 1266.8,520.4 1270.1,528.4" fill="none" stroke="#061806" stroke-width="1.1" stroke-opacity=".8"/>
<polyline points="1241.7,47.2 1243.2,55.2 1244.7,63.2 1246.3,71.3 1247.9,79.3 1249.5,87.3 1251.2,95.3 1252.9,103.3 1254.6,111.4 1256.4,119.4 1258.2,127.4 1260,135.4 1261.9,143.4 1263.8,151.5 1265.7,159.5 1267.7,167.5 1269.7,175.5 1271.7,183.5 1273.8,191.6 1275.9,199.6 1278,207.6 1280.1,215.6 1282.3,223.6 1284.6,231.7 1286.8,239.7 1289.1,247.7 1291.5,255.7 1293.8,263.7 1296.2,271.8 1298.7,279.8 1301.2,287.8 1303.7,295.8 1306.2,303.8 1308.8,311.9 1311.4,319.9 1314.1,327.9 1316.8,335.9 1319.5,343.9 1322.3,352 1325.1,360 1328,368 1330.9,376 1333.8,384 1336.8,392.1 1339.8,400.1 1342.8,408.1 1345.9,416.1 1349.1,424.1 1352.2,432.2 1355.5,440.2 1358.7,448.2 1362,456.2 1365.4,464.2 1368.7,472.3 1372.2,480.3 1375.7,488.3 1379.2,496.3 1382.7,504.3 1386.4,512.4 1390,520.4 1393.7,528.4" fill="none" stroke="#061806" stroke-width="1.1" stroke-opacity=".8"/>
<polyline points="1362.8,47.2 1364.5,55.2 1366.2,63.2 1368,71.3 1369.8,79.3 1371.6,87.3 1373.5,95.3 1375.4,103.3 1377.3,111.4 1379.3,119.4 1381.3,127.4 1383.3,135.4 1385.4,143.4 1387.6,151.5 1389.7,159.5 1391.9,167.5 1394.2,175.5 1396.4,183.5 1398.8,191.6 1401.1,199.6 1403.5,207.6 1406,215.6 1408.4,223.6 1411,231.7 1413.5,239.7 1416.1,247.7 1418.8,255.7 1421.4,263.7 1424.2,271.8 1426.9,279.8 1429.7,287.8 1432.6,295.8 1435.5,303.8 1438.4,311.9 1441.4,319.9 1444.5,327.9 1447.5,335.9 1450.7,343.9 1453.8,352 1457.1,360 1460.3,368 1463.6,376 1467,384 1470.4,392.1 1473.9,400.1 1477.4,408.1 1480.9,416.1 1484.6,424.1 1488.2,432.2 1491.9,440.2 1495.7,448.2 1499.5,456.2 1503.4,464.2 1507.3,472.3 1511.3,480.3 1515.4,488.3 1519.5,496.3 1523.7,504.3 1527.9,512.4 1532.2,520.4 1536.5,528.4" fill="none" stroke="#061806" stroke-width="1.1" stroke-opacity=".8"/>
<polyline points="1501.8,47.2 1503.7,55.2 1505.7,63.2 1507.8,71.3 1509.9,79.3 1512,87.3 1514.1,95.3 1516.3,103.3 1518.6,111.4 1520.9,119.4 1523.2,127.4 1525.6,135.4 1528.1,143.4 1530.5,151.5 1533.1,159.5 1535.7,167.5 1538.3,175.5 1541,183.5 1543.7,191.6 1546.4,199.6 1549.3,207.6 1552.1,215.6 1555.1,223.6 1558,231.7 1561.1,239.7 1564.1,247.7 1567.3,255.7 1570.5,263.7 1573.7,271.8 1577,279.8 1580.3,287.8 1583.8,295.8 1587.2,303.8 1590.7,311.9 1594.3,319.9 1598,327.9 1601.7,335.9 1605.4,343.9 1609.3,352 1613.1,360 1617.1,368 1621.1,376 1625.2,384 1629.4,392.1 1633.6,400.1 1637.9,408.1 1642.2,416.1 1646.7,424.1 1651.2,432.2 1655.8,440.2 1660.4,448.2 1665.2,456.2 1670,464.2 1674.9,472.3 1679.9,480.3 1685,488.3 1690.1,496.3 1695.4,504.3 1700.7,512.4 1706.2,520.4 1711.7,528.4" fill="none" stroke="#061806" stroke-width="1.1" stroke-opacity=".8"/>
<polyline points="1670,47.2 1672.5,55.2 1674.9,63.2 1677.5,71.3 1680.1,79.3 1682.7,87.3 1685.4,95.3 1688.2,103.3 1691,111.4 1693.9,119.4 1696.9,127.4 1699.9,135.4 1703,143.4 1706.1,151.5 1709.3,159.5 1712.6,167.5 1716,175.5 1719.4,183.5 1722.9,191.6 1726.4,199.6 1730.1,207.6 1733.8,215.6 1737.6,223.6 1741.4,231.7 1745.4,239.7 1749.4,247.7 1753.5,255.7 1757.7,263.7 1762,271.8 1766.3,279.8 1770.8,287.8 1775.3,295.8 1780,303.8 1784.7,311.9 1789.5,319.9 1794.4,327.9 1799.5,335.9 1804.6,343.9 1809.9,352 1815.2,360 1820.7,368 1826.3,376 1832.1,384 1837.9,392.1 1843.9,400.1 1850.1,408.1 1856.3,416.1 1862.8,424.1 1869.3,432.2 1876.1,440.2 1883,448.2 1890.1,456.2 1897.4,464.2" fill="none" stroke="#061806" stroke-width="1.1" stroke-opacity=".8"/>
<rect x="1159.3" y="47.2" width="741.1" height="481.2" fill="none" stroke="#2a2a3a" stroke-opacity=".8" stroke-width="1.2"/>
<line x1="1138.6" y1="47.2" x2="1159.3" y2="47.2" stroke="#333" stroke-width="1.3"/>
<text x="1130.7" y="49.6" font-size="13.7" text-anchor="end" fill="#222" stroke="#222" stroke-width=".25">4.00</text>
<line x1="1138.6" y1="167.4" x2="1159.3" y2="167.4" stroke="#333" stroke-width="1.3"/>
<text x="1130.7" y="169.8" font-size="13.7" text-anchor="end" fill="#222" stroke="#222" stroke-width=".25">3.50</text>
<line x1="1138.6" y1="287.6" x2="1159.3" y2="287.6" stroke="#333" stroke-width="1.3"/>
<text x="1130.7" y="290" font-size="13.7" text-anchor="end" fill="#222" stroke="#222" stroke-width=".25">3.00</text>
<line x1="1138.6" y1="407.8" x2="1159.3" y2="407.8" stroke="#333" stroke-width="1.3"/>
<text x="1130.7" y="410.2" font-size="13.7" text-anchor="end" fill="#222" stroke="#222" stroke-width=".25">2.50</text>
<line x1="1138.6" y1="528" x2="1159.3" y2="528" stroke="#333" stroke-width="1.3"/>
<text x="1130.7" y="530.4" font-size="13.7" text-anchor="end" fill="#222" stroke="#222" stroke-width=".25">2.00</text>
<line x1="1159.3" y1="528" x2="1159.3" y2="541.8" stroke="#333" stroke-width="1.3"/>
<text x="1159.3" y="561.2" font-size="13.7" text-anchor="middle" fill="#222" stroke="#222" stroke-width=".25">10.00</text>
<line x1="1344.6" y1="528" x2="1344.6" y2="541.8" stroke="#333" stroke-width="1.3"/>
<text x="1344.6" y="561.2" font-size="13.7" text-anchor="middle" fill="#222" stroke="#222" stroke-width=".25">12.50</text>
<line x1="1529.9" y1="528" x2="1529.9" y2="541.8" stroke="#333" stroke-width="1.3"/>
<text x="1529.9" y="561.2" font-size="13.7" text-anchor="middle" fill="#222" stroke="#222" stroke-width=".25">15.00</text>
<line x1="1715.1" y1="528" x2="1715.1" y2="541.8" stroke="#333" stroke-width="1.3"/>
<text x="1715.1" y="561.2" font-size="13.7" text-anchor="middle" fill="#222" stroke="#222" stroke-width=".25">17.50</text>
<line x1="1900.4" y1="528" x2="1900.4" y2="541.8" stroke="#333" stroke-width="1.3"/>
<text x="1900.4" y="561.2" font-size="13.7" text-anchor="middle" fill="#222" stroke="#222" stroke-width=".25">20.00</text>
<line x1="1138.6" y1="528" x2="1900.4" y2="528" stroke="#333" stroke-width="1.4"/>
<rect x="1273.4" y="274.5" width="59.6" height="18.5" fill="#fff" stroke="#2a332a" stroke-width="1.3"/><text x="1303.2" y="291.4" font-size="18.3" text-anchor="middle" fill="#2b2b2b" textLength="47.7" lengthAdjust="spacingAndGlyphs">27.537</text>
<rect x="1402.8" y="274.5" width="58.3" height="18.5" fill="#fff" stroke="#2a332a" stroke-width="1.3"/><text x="1431.9" y="291.4" font-size="18.3" text-anchor="middle" fill="#2b2b2b" textLength="47.7" lengthAdjust="spacingAndGlyphs">27.265</text>
<rect x="1177.9" y="334.5" width="58.3" height="18.5" fill="#fff" stroke="#2a332a" stroke-width="1.3"/><text x="1207.1" y="351.4" font-size="18.3" text-anchor="middle" fill="#2b2b2b" textLength="47.7" lengthAdjust="spacingAndGlyphs">27.809</text>
<rect x="1554.9" y="278.4" width="60.5" height="18.6" fill="#fff" stroke="#2a332a" stroke-width="1.3"/><text x="1585.2" y="295.4" font-size="18.3" text-anchor="middle" fill="#2b2b2b" textLength="47.7" lengthAdjust="spacingAndGlyphs">26.993</text>
<rect x="1732" y="249.3" width="57.6" height="19.1" fill="#fff" stroke="#2a332a" stroke-width="1.3"/><text x="1760.8" y="266.8" font-size="18.3" text-anchor="middle" fill="#2b2b2b" textLength="47.7" lengthAdjust="spacingAndGlyphs">26.721</text>
<ellipse cx="1159.3" cy="287.6" rx="6.8" ry="4.6" fill="#d11010" stroke="#7a0b0b" stroke-width="1"/>
<ellipse cx="1529.9" cy="287.6" rx="6.8" ry="4.6" fill="#d11010" stroke="#7a0b0b" stroke-width="1"/>
<ellipse cx="1900.4" cy="287.6" rx="6.8" ry="4.6" fill="#d11010" stroke="#7a0b0b" stroke-width="1"/>
<ellipse cx="1529.9" cy="47.2" rx="6.8" ry="4.6" fill="#d11010" stroke="#7a0b0b" stroke-width="1"/>
<ellipse cx="1529.9" cy="528" rx="6.8" ry="4.6" fill="#d11010" stroke="#7a0b0b" stroke-width="1"/>
<text x="1528" y="36.2" font-size="28.5" text-anchor="middle" fill="#111" >(T)</text>
<text x="1072.5" y="261.7" font-size="30" text-anchor="middle" fill="#111" >C</text>
<text x="1562" y="602.5" font-size="26" text-anchor="middle" fill="#111" >B</text>
<polygon points="138,1124.5 511,1259.5 843.8,1113.2 477,1009" fill="#ffff00"/>
<polyline points="173.7,1137.4 185.1,1134.8 196.5,1132.2 207.8,1129.5 219.1,1127 230.3,1124.4 241.5,1121.8 252.6,1119.2 263.7,1116.7 274.7,1114.2 285.6,1111.6 296.5,1109.1 307.3,1106.6 318.1,1104.2 328.9,1101.7 339.5,1099.2 350.2,1096.8 360.7,1094.3 371.3,1091.9 381.7,1089.5 392.1,1087.1 402.5,1084.7 412.8,1082.3 423.1,1079.9 433.3,1077.6 443.5,1075.2 453.6,1072.9 463.7,1070.6 473.7,1068.2 483.7,1065.9 493.6,1063.6 503.5,1061.3 513.3,1059.1 523.1,1056.8 532.9,1054.6 542.6,1052.3 552.2,1050.1 561.8,1047.8 571.4,1045.6 580.9,1043.4 590.4,1041.2" fill="none" stroke="#b4f020" stroke-width="1.5"/>
<polyline points="227.5,1156.9 239.4,1154.3 251.2,1151.7 262.9,1149.1 274.6,1146.5 286.2,1143.9 297.8,1141.4 309.3,1138.8 320.8,1136.3 332.2,1133.8 343.6,1131.3 354.9,1128.8 366.2,1126.3 377.4,1123.9 388.6,1121.4 399.7,1119 410.8,1116.5 421.8,1114.1 432.8,1111.7 443.7,1109.3 454.6,1107 465.4,1104.6 476.2,1102.3 487,1099.9 497.7,1097.6 508.4,1095.3 519,1093 529.6,1090.7 540.1,1088.4 550.6,1086.1 561,1083.9 571.5,1081.6 581.8,1079.4 592.2,1077.2 602.4,1075 612.7,1072.8 622.9,1070.6 633.1,1068.4 643.2,1066.3 653.3,1064.1 663.4,1062" fill="none" stroke="#5fdc2a" stroke-width="1.5"/>
<polyline points="283.6,1177.2 296,1174.6 308.3,1172.1 320.5,1169.5 332.8,1167 344.9,1164.5 357,1162 369.1,1159.5 381.1,1157 393.1,1154.6 405.1,1152.1 417,1149.7 428.8,1147.3 440.7,1144.9 452.4,1142.5 464.2,1140.2 475.9,1137.8 487.6,1135.5 499.2,1133.2 510.8,1130.9 522.4,1128.6 533.9,1126.3 545.4,1124 556.9,1121.8 568.3,1119.6 579.8,1117.4 591.1,1115.2 602.5,1113 613.8,1110.8 625.1,1108.7 636.4,1106.5 647.7,1104.4 658.9,1102.3 670.2,1100.2 681.4,1098.2 692.6,1096.1 703.7,1094.1 714.9,1092.1 726.1,1090.1 737.2,1088.1 748.3,1086.1" fill="none" stroke="#3fd060" stroke-width="1.5"/>
<polyline points="359.3,1204.6 372.5,1202.1 385.8,1199.7 399,1197.3 412.2,1195 425.3,1192.6 438.5,1190.3 451.6,1188 464.7,1185.7 477.8,1183.4 490.9,1181.2 504,1179 517,1176.8 530.1,1174.6 543.2,1172.5 556.2,1170.4 569.3,1168.3 582.4,1166.2 595.5,1164.2 608.6,1162.2 621.7,1160.2 634.9,1158.3 648.1,1156.4 661.3,1154.5 674.6,1152.6 687.9,1150.8 701.3,1149 714.8,1147.3 728.3,1145.6 741.9,1144 755.6,1142.3 769.4,1140.8 783.4,1139.3" fill="none" stroke="#1a2a40" stroke-width="1.5"/>
<polyline points="138,1124.5 477,1009 843.8,1113.2" fill="none" stroke="#333" stroke-width="1.1"/>
<polyline points="477.5,730 477,1009" fill="none" stroke="#333" stroke-width="1.1"/>
<polygon points="110.5,881.2 150.4,864.9 189.6,849 228,833.6 265.7,818.6 302.7,804 338.9,789.9 374.5,776.2 409.5,762.8 443.8,749.8 477.5,737.2 484.4,743 450.7,755.7 416.5,768.7 381.6,782.2 346,796 309.8,810.2 272.9,824.9 235.3,839.9 196.9,855.4 157.8,871.4 117.8,887.9" fill="url(#g421)"/><polygon points="116.9,887 156.8,870.6 196,854.6 234.3,839.1 272,824 308.9,809.4 345.1,795.2 380.7,781.4 415.6,768 449.8,754.9 483.5,742.2 490.4,748 456.8,760.7 422.6,773.8 387.7,787.3 352.2,801.2 316.1,815.5 279.2,830.3 241.6,845.4 203.3,861 164.2,877.1 124.3,893.6" fill="url(#g422)"/><polygon points="123.3,892.8 163.2,876.2 202.3,860.2 240.6,844.6 278.2,829.5 315.1,814.7 351.3,800.5 386.8,786.6 421.7,773.1 455.9,760 489.5,747.2 496.4,752.9 462.8,765.7 428.7,778.9 393.9,792.5 358.4,806.5 322.3,820.8 285.4,835.6 247.9,850.9 209.6,866.6 170.5,882.7 130.7,899.4" fill="url(#g423)"/><polygon points="129.7,898.5 169.6,881.9 208.6,865.7 246.9,850.1 284.5,834.8 321.3,820.1 357.5,805.7 392.9,791.7 427.8,778.2 461.9,765 495.5,752.2 502.4,757.8 468.9,770.7 434.8,784 400,797.6 364.6,811.7 328.5,826.1 291.7,841 254.2,856.3 215.9,872.1 176.9,888.3 137.1,905.1" fill="url(#g424)"/><polygon points="136.1,904.2 176,887.5 215,871.3 253.3,855.5 290.8,840.2 327.6,825.3 363.7,810.9 399.1,796.9 433.9,783.2 468,770 501.5,757.1 508.4,762.7 474.9,775.7 440.9,789 406.2,802.7 370.8,816.8 334.7,831.4 298,846.3 260.5,861.7 222.3,877.6 183.3,893.9 143.5,910.7" fill="url(#g425)"/><polygon points="142.5,909.9 182.3,893.1 221.3,876.8 259.6,860.9 297,845.5 333.8,830.6 369.9,816.1 405.2,802 440,788.3 474,774.9 507.5,762 514.4,767.6 481,780.6 447,794 412.3,807.8 377,822 341,836.6 304.3,851.6 266.8,867.1 228.6,883.1 189.7,899.5 149.9,916.4" fill="url(#g426)"/><polygon points="149,915.5 188.7,898.6 227.7,882.2 265.9,866.3 303.3,850.8 340,835.8 376,821.2 411.4,807 446.1,793.3 480.1,779.9 513.5,766.9 520.5,772.4 487.1,785.5 453.1,799 418.5,812.8 383.2,827.1 347.2,841.8 310.5,856.9 273.1,872.5 235,888.5 196.1,905 156.3,922" fill="url(#g427)"/><polygon points="155.4,921.2 195.1,904.2 234,887.7 272.2,871.7 309.6,856.1 346.3,841 382.2,826.3 417.5,812.1 452.2,798.2 486.2,784.8 519.5,771.7 526.5,777.3 493.2,790.4 459.2,803.9 424.6,817.9 389.4,832.2 353.5,847 316.8,862.1 279.5,877.8 241.3,893.9 202.5,910.5 162.8,927.6" fill="url(#g428)"/><polygon points="161.8,926.8 201.5,909.7 240.4,893.1 278.5,877 315.9,861.4 352.5,846.2 388.5,831.4 423.7,817.1 458.3,803.2 492.3,789.7 525.6,776.5 532.5,782 499.2,795.2 465.3,808.8 430.8,822.8 395.6,837.3 359.7,852.1 323.1,867.4 285.8,883.1 247.7,899.3 208.9,916 169.2,933.2" fill="url(#g429)"/><polygon points="168.2,932.3 207.9,915.1 246.8,898.5 284.8,882.3 322.2,866.6 358.8,851.3 394.7,836.5 429.9,822.1 464.4,808.1 498.3,794.5 531.6,781.3 538.6,786.8 505.3,800.1 471.5,813.7 437,827.8 401.8,842.3 366,857.2 329.4,872.6 292.1,888.4 254.1,904.6 215.3,921.4 175.6,938.7" fill="url(#g430)"/><polygon points="174.7,937.9 214.3,920.6 253.1,903.8 291.2,887.6 328.5,871.8 365,856.4 400.9,841.5 436,827.1 470.6,813 504.4,799.3 537.7,786.1 544.6,791.5 511.4,804.8 477.6,818.6 443.2,832.7 408,847.3 372.2,862.3 335.7,877.7 298.5,893.6 260.4,910 221.7,926.8 182.1,944.2" fill="url(#g431)"/><polygon points="181.1,943.4 220.7,926 259.5,909.2 297.5,892.8 334.8,876.9 371.3,861.5 407.1,846.5 442.2,832 476.7,817.9 510.5,804.1 543.7,790.8 550.7,796.2 517.5,809.6 483.8,823.4 449.3,837.6 414.3,852.3 378.5,867.3 342,882.8 304.8,898.8 266.8,915.3 228.1,932.2 188.5,949.7" fill="url(#g432)"/><polygon points="187.5,948.9 227.1,931.4 265.9,914.5 303.8,898 341.1,882.1 377.5,866.6 413.3,851.5 448.4,836.9 482.8,822.7 516.6,808.9 549.8,795.5 556.8,800.9 523.7,814.3 489.9,828.2 455.5,842.5 420.5,857.2 384.8,872.3 348.3,887.9 311.1,904 273.2,920.5 234.5,937.6 194.9,955.1" fill="url(#g433)"/><polygon points="194,954.3 233.5,936.8 272.2,919.8 310.2,903.2 347.4,887.2 383.8,871.6 419.6,856.5 454.6,841.8 489,827.5 522.7,813.6 555.9,800.2 562.9,805.5 529.8,819 496.1,833 461.8,847.3 426.7,862.1 391.1,877.3 354.6,893 317.5,909.2 279.6,925.8 240.9,942.9 201.4,960.6" fill="url(#g434)"/><polygon points="200.4,959.8 239.9,942.1 278.6,925 316.5,908.4 353.7,892.3 390.1,876.6 425.8,861.4 460.8,846.6 495.2,832.3 528.9,818.3 561.9,804.8 568.9,810.1 535.9,823.7 502.3,837.7 468,852.2 433,867 397.3,882.3 361,898.1 323.9,914.3 286,931 247.3,948.2 207.9,966" fill="url(#g435)"/><polygon points="206.9,965.2 246.4,947.4 285,930.2 322.9,913.5 360,897.3 396.4,881.6 432.1,866.3 467,851.4 501.3,837 535,823 568,809.4 575,814.7 542.1,828.3 508.5,842.4 474.2,856.9 439.3,871.9 403.6,887.2 367.3,903.1 330.2,919.4 292.4,936.2 253.8,953.5 214.3,971.3" fill="url(#g436)"/><polygon points="213.3,970.5 252.8,952.7 291.4,935.4 329.3,918.6 366.4,902.3 402.7,886.5 438.3,871.1 473.3,856.2 507.5,841.7 541.1,827.6 574.1,814 581.2,819.2 548.2,833 514.6,847.1 480.4,861.7 445.5,876.7 409.9,892.2 373.7,908.1 336.6,924.5 298.8,941.3 260.2,958.8 220.8,976.7" fill="url(#g437)"/><polygon points="219.8,975.9 259.2,958 297.8,940.6 335.7,923.7 372.7,907.3 409,891.4 444.6,876 479.5,861 513.7,846.4 547.3,832.3 580.2,818.5 587.3,823.7 554.4,837.5 520.8,851.8 486.7,866.4 451.8,881.5 416.3,897 380,913 343,929.5 305.2,946.5 266.7,964 227.3,982" fill="url(#g438)"/><polygon points="226.3,981.2 265.7,963.2 304.3,945.7 342,928.7 379,912.3 415.3,896.3 450.9,880.8 485.7,865.7 519.9,851.1 553.4,836.8 586.4,823 593.4,828.2 560.5,842.1 527.1,856.4 492.9,871.1 458.1,886.3 422.6,901.9 386.4,918 349.4,934.5 311.7,951.6 273.1,969.2 233.8,987.3" fill="url(#g439)"/><polygon points="232.8,986.5 272.2,968.4 310.7,950.8 348.4,933.8 385.4,917.2 421.6,901.2 457.2,885.6 492,870.4 526.1,855.7 559.6,841.4 592.5,827.5 599.5,832.6 566.7,846.6 533.3,861 499.2,875.8 464.4,891 428.9,906.7 392.7,922.9 355.8,939.5 318.1,956.7 279.6,974.3 240.3,992.6" fill="url(#g440)"/><polygon points="239.3,991.8 278.6,973.6 317.1,955.9 354.8,938.8 391.8,922.1 428,906 463.5,890.3 498.2,875.1 532.3,860.3 565.8,845.9 598.6,832 605.7,837.1 572.9,851.1 539.5,865.5 505.4,880.4 470.7,895.7 435.3,911.5 399.1,927.7 362.2,944.5 324.5,961.7 286.1,979.5 246.8,997.8" fill="url(#g441)"/><polygon points="245.8,997 285.1,978.7 323.6,961 361.3,943.7 398.2,927 434.3,910.8 469.8,895 504.5,879.7 538.6,864.9 572,850.4 604.8,836.4 611.9,841.5 579.1,855.6 545.8,870.1 511.7,885 477,900.4 441.6,916.3 405.5,932.6 368.6,949.4 331,966.7 292.5,984.6 253.3,1003" fill="url(#g442)"/><polygon points="252.3,1002.2 291.6,983.8 330,966 367.7,948.7 404.5,931.9 440.7,915.5 476.1,899.7 510.8,884.3 544.8,869.4 578.2,854.9 610.9,840.8 618,845.8 585.3,860 552,874.6 518,889.6 483.4,905.1 448,921 411.9,937.4 375.1,954.3 337.5,971.7 299,989.7 259.8,1008.2" fill="url(#g443)"/><polygon points="258.8,1007.4 298.1,988.9 336.5,971 374.1,953.6 410.9,936.7 447,920.3 482.4,904.4 517.1,888.9 551.1,873.9 584.4,859.3 617.1,845.2 624.2,850.2 591.6,864.4 558.3,879 524.3,894.1 489.7,909.7 454.4,925.7 418.3,942.2 381.5,959.2 343.9,976.7 305.6,994.7 266.3,1013.3" fill="url(#g444)"/><polygon points="265.3,1012.6 304.6,994 343,975.9 380.6,958.4 417.4,941.5 453.4,925 488.8,909 523.4,893.5 557.3,878.4 590.6,863.7 623.3,849.5 630.4,854.5 597.8,868.8 564.6,883.5 530.7,898.7 496.1,914.3 460.8,930.4 424.7,946.9 388,964 350.4,981.6 312.1,999.7 272.9,1018.5" fill="url(#g445)"/><polygon points="271.9,1017.7 311.1,999 349.5,980.9 387,963.3 423.8,946.2 459.8,929.7 495.1,913.6 529.7,898 563.6,882.8 596.9,868.1 629.5,853.8 636.7,858.7 604.1,873.1 570.9,887.9 537,903.1 502.4,918.8 467.2,935 431.2,951.7 394.4,968.8 356.9,986.5 318.6,1004.7 279.4,1023.5" fill="url(#g446)"/><polygon points="278.4,1022.8 317.6,1004 355.9,985.8 393.5,968.1 430.2,951 466.2,934.3 501.5,918.2 536,902.5 569.9,887.2 603.1,872.5 635.7,858.1 642.9,863 610.3,877.4 577.2,892.3 543.3,907.6 508.8,923.4 473.6,939.6 437.6,956.4 400.9,973.6 363.4,991.4 325.1,1009.7 286,1028.6" fill="url(#g447)"/><polygon points="285,1027.9 324.2,1009 362.5,990.7 400,972.9 436.7,955.7 472.6,938.9 507.8,922.7 542.4,906.9 576.2,891.6 609.4,876.8 641.9,862.3 649.1,867.2 616.6,881.7 583.5,896.6 549.7,912 515.2,927.9 480,944.2 444.1,961 407.4,978.4 370,996.2 331.7,1014.7 292.6,1033.7" fill="url(#g448)"/><polygon points="291.6,1032.9 330.7,1013.9 369,995.5 406.4,977.7 443.1,960.3 479,943.5 514.2,927.2 548.7,911.4 582.5,896 615.7,881.1 648.2,866.6 655.4,871.4 622.9,886 589.8,901 556.1,916.4 521.6,932.4 486.5,948.8 450.6,965.7 413.9,983.1 376.5,1001.1 338.2,1019.6 299.2,1038.7" fill="url(#g449)"/><polygon points="298.2,1037.9 337.3,1018.8 375.5,1000.3 412.9,982.4 449.6,965 485.5,948.1 520.6,931.7 555.1,915.8 588.9,900.3 622,885.3 654.4,870.7 661.7,875.5 629.2,890.2 596.2,905.3 562.4,920.8 528,936.8 492.9,953.3 457.1,970.3 420.4,987.8 383,1005.8 344.8,1024.5 305.8,1043.6" fill="url(#g450)"/><polygon points="304.8,1042.9 343.8,1023.7 382.1,1005.1 419.5,987.1 456.1,969.6 491.9,952.6 527.1,936.1 561.5,920.1 595.2,904.6 628.3,889.5 660.7,874.9 667.9,879.6 635.6,894.4 602.5,909.5 568.8,925.1 534.5,941.2 499.4,957.8 463.6,974.9 427,992.5 389.6,1010.6 351.4,1029.3 312.4,1048.6" fill="url(#g451)"/><polygon points="311.4,1047.9 350.4,1028.6 388.6,1009.9 426,991.8 462.6,974.2 498.4,957.1 533.5,940.6 567.9,924.5 601.6,908.9 634.6,893.7 667,879 674.3,883.7 641.9,898.5 608.9,913.8 575.3,929.4 540.9,945.6 505.9,962.3 470.1,979.4 433.5,997.1 396.2,1015.3 358,1034.1 319,1053.5" fill="url(#g452)"/><polygon points="318,1052.8 357,1033.4 395.2,1014.6 432.5,996.4 469.1,978.7 504.9,961.6 539.9,944.9 574.3,928.8 608,913.1 641,897.9 673.3,883.1 680.6,887.8 648.3,902.7 615.3,918 581.7,933.7 547.4,950 512.4,966.7 476.6,983.9 440.1,1001.7 402.8,1020 364.6,1038.9 325.6,1058.4" fill="url(#g453)"/><polygon points="324.6,1057.7 363.6,1038.2 401.8,1019.3 439.1,1001 475.6,983.3 511.4,966 546.4,949.3 580.7,933.1 614.3,917.3 647.3,902 679.6,887.2 686.9,891.8 654.6,906.8 621.7,922.1 588.1,938 553.9,954.3 518.9,971.1 483.1,988.4 446.7,1006.3 409.4,1024.7 371.3,1043.7 332.3,1063.3" fill="url(#g454)"/><polygon points="331.3,1062.6 370.3,1043 408.4,1024 445.7,1005.6 482.2,987.8 517.9,970.4 552.9,953.6 587.2,937.3 620.8,921.5 653.7,906.1 686,891.2 693.3,895.8 661,910.8 628.1,926.3 594.6,942.2 560.4,958.6 525.4,975.5 489.7,992.9 453.2,1010.8 416,1029.3 377.9,1048.4 339,1068.1" fill="url(#g455)"/><polygon points="338,1067.4 376.9,1047.7 415,1028.7 452.3,1010.2 488.7,992.2 524.4,974.8 559.4,957.9 593.6,941.6 627.2,925.7 660.1,910.2 692.3,895.2 699.6,899.8 667.4,914.9 634.6,930.4 601.1,946.4 566.9,962.8 531.9,979.8 496.3,997.3 459.9,1015.4 422.6,1034 384.6,1053.1 345.7,1072.9" fill="url(#g456)"/><polygon points="344.7,1072.2 383.6,1052.4 421.6,1033.3 458.9,1014.7 495.3,996.7 531,979.2 565.9,962.2 600.1,945.7 633.6,929.8 666.5,914.3 698.7,899.2 706,903.7 673.9,918.9 641,934.5 607.6,950.5 573.4,967.1 538.5,984.1 502.9,1001.7 466.5,1019.9 429.3,1038.5 391.2,1057.8 352.4,1077.7" fill="url(#g457)"/><polygon points="351.4,1077 390.2,1057.1 428.3,1037.9 465.5,1019.2 501.9,1001.1 537.5,983.5 572.4,966.4 606.6,949.9 640.1,933.9 672.9,918.3 705.1,903.1 712.4,907.6 680.3,922.8 647.5,938.5 614.1,954.7 579.9,971.3 545.1,988.4 509.5,1006.1 473.1,1024.3 435.9,1043.1 397.9,1062.5 359.1,1082.5" fill="url(#g458)"/><polygon points="358.1,1081.8 396.9,1061.8 434.9,1042.4 472.1,1023.6 508.5,1005.4 544.1,987.8 579,970.7 613.1,954 646.5,937.9 679.3,922.2 711.5,907 718.8,911.5 686.8,926.8 654,942.5 620.6,958.7 586.5,975.5 551.7,992.7 516.1,1010.4 479.8,1028.7 442.6,1047.6 404.7,1067.1 365.8,1087.2" fill="url(#g459)"/><polygon points="364.8,1086.5 403.6,1066.4 441.6,1046.9 478.8,1028.1 515.1,1009.8 550.7,992 585.5,974.8 619.6,958.1 653,941.9 685.8,926.2 717.9,910.9 725.3,915.3 693.2,930.7 660.5,946.5 627.2,962.8 593.1,979.6 558.3,996.9 522.8,1014.8 486.4,1033.1 449.3,1052.1 411.4,1071.7 372.6,1091.9" fill="url(#g460)"/><polygon points="371.5,1091.2 410.4,1071 448.3,1051.4 485.4,1032.5 521.8,1014.1 557.3,996.3 592.1,979 626.2,962.2 659.6,945.9 692.3,930.1 724.3,914.8 731.7,919.2 699.7,934.6 667.1,950.5 633.7,966.8 599.7,983.7 564.9,1001.1 529.4,1019 493.1,1037.5 456,1056.6 418.1,1076.3 379.3,1096.6" fill="url(#g461)"/><polygon points="378.3,1095.9 417.1,1075.6 455,1055.9 492.1,1036.9 528.4,1018.4 563.9,1000.5 598.7,983.1 632.7,966.2 666.1,949.9 698.8,934 730.8,918.6 738.2,922.9 706.2,938.4 673.6,954.4 640.3,970.8 606.3,987.8 571.6,1005.3 536.1,1023.3 499.8,1041.9 462.8,1061 424.9,1080.8 386.1,1101.2" fill="url(#g462)"/><polygon points="385.1,1100.5 423.9,1080.1 461.8,1060.4 498.8,1041.2 535.1,1022.6 570.6,1004.6 605.3,987.2 639.3,970.2 672.6,953.8 705.3,937.9 737.3,922.4 744.7,926.7 712.8,942.3 680.2,958.3 646.9,974.8 612.9,991.8 578.2,1009.4 542.8,1027.5 506.6,1046.2 469.5,1065.4 431.7,1085.3 392.9,1105.8" fill="url(#g463)"/><polygon points="391.9,1105.1 430.7,1084.6 468.5,1064.8 505.6,1045.5 541.8,1026.9 577.2,1008.8 611.9,991.2 645.9,974.2 679.2,957.7 711.8,941.7 743.8,926.1 751.2,930.4 719.3,946 686.8,962.2 653.5,978.8 619.6,995.9 584.9,1013.5 549.5,1031.7 513.3,1050.5 476.3,1069.8 438.5,1089.8 399.7,1110.4" fill="url(#g464)"/><polygon points="398.7,1109.7 437.4,1089.1 475.3,1069.1 512.3,1049.8 548.5,1031.1 583.9,1012.9 618.6,995.3 652.5,978.2 685.8,961.6 718.4,945.5 750.3,929.8 757.8,934.1 725.9,949.8 693.4,966 660.2,982.7 626.3,999.9 591.6,1017.6 556.3,1035.9 520.1,1054.7 483.1,1074.1 445.3,1094.2 406.6,1114.9" fill="url(#g465)"/><polygon points="405.6,1114.2 444.3,1093.5 482.1,1073.5 519.1,1054.1 555.2,1035.2 590.6,1017 625.3,999.3 659.2,982.1 692.4,965.4 724.9,949.2 756.8,933.5 764.3,937.7 732.5,953.5 700,969.8 666.8,986.5 633,1003.8 598.4,1021.6 563,1040 526.9,1058.9 489.9,1078.5 452.1,1098.6 413.4,1119.4" fill="url(#g466)"/><polygon points="412.4,1118.8 451.1,1098 488.9,1077.8 525.9,1058.3 562,1039.4 597.4,1021 632,1003.2 665.8,986 699,969.2 731.5,953 763.4,937.2 770.9,941.4 739.1,957.2 706.7,973.6 673.5,990.4 639.7,1007.7 605.1,1025.6 569.8,1044.1 533.7,1063.1 496.8,1082.7 459,1103 420.3,1123.9" fill="url(#g467)"/><polygon points="419.3,1123.2 458,1102.3 495.7,1082.1 532.7,1062.5 568.8,1043.5 604.1,1025 638.7,1007.2 672.5,989.8 705.7,973 738.1,956.7 769.9,940.8 777.5,945 745.8,960.9 713.3,977.3 680.2,994.2 646.4,1011.6 611.9,1029.6 576.6,1048.1 540.5,1067.3 503.6,1087 465.9,1107.4 427.2,1128.4" fill="url(#g468)"/><polygon points="426.2,1127.7 464.8,1106.7 502.6,1086.4 539.5,1066.6 575.6,1047.5 610.9,1029 645.4,1011.1 679.2,993.6 712.3,976.7 744.8,960.3 776.5,944.4 784.2,948.5 752.4,964.5 720,981 687,998 653.2,1015.5 618.7,1033.6 583.4,1052.2 547.4,1071.4 510.5,1091.2 472.8,1111.7 434.2,1132.8" fill="url(#g469)"/><polygon points="433.1,1132.1 471.7,1111 509.5,1090.6 546.3,1070.8 582.4,1051.6 617.7,1033 652.2,1014.9 686,997.4 719,980.4 751.4,964 783.2,948 790.8,952 759.1,968.1 726.8,984.7 693.7,1001.7 660,1019.3 625.5,1037.5 590.3,1056.2 554.2,1075.5 517.4,1095.4 479.7,1116 441.1,1137.2" fill="url(#g470)"/><polygon points="440.1,1136.5 478.7,1115.3 516.4,1094.8 553.2,1074.9 589.2,1055.6 624.5,1036.9 658.9,1018.8 692.7,1001.2 725.7,984.1 758.1,967.6 789.8,951.5 797.5,955.5 765.8,971.7 733.5,988.3 700.5,1005.5 666.8,1023.1 632.3,1041.4 597.1,1060.2 561.1,1079.6 524.3,1099.6 486.6,1120.2 448.1,1141.6" fill="url(#g471)"/><polygon points="447,1140.9 485.6,1119.6 523.3,1099 560.1,1079 596.1,1059.6 631.3,1040.8 665.7,1022.6 699.5,1004.9 732.5,987.8 764.8,971.1 796.5,955 804.2,959 772.5,975.2 740.3,991.9 707.3,1009.1 673.6,1026.9 639.2,1045.2 604,1064.1 568,1083.6 531.2,1103.7 493.6,1124.5 455.1,1145.9" fill="url(#g472)"/><polygon points="454,1145.3 492.6,1123.8 530.2,1103.1 567,1083 603,1063.5 638.2,1044.6 672.6,1026.3 706.3,1008.6 739.2,991.4 771.5,974.7 803.2,958.5 810.9,962.4 779.3,978.7 747,995.5 714.1,1012.8 680.5,1030.6 646.1,1049 610.9,1068 575,1087.6 538.2,1107.8 500.6,1128.7 462.1,1150.2" fill="url(#g473)"/><polygon points="461,1149.6 499.5,1128 537.2,1107.2 573.9,1087 609.9,1067.4 645,1048.5 679.4,1030.1 713.1,1012.3 746,995 778.3,978.2 809.9,961.9 817.6,965.8 786.1,982.2 753.8,999 720.9,1016.4 687.3,1034.3 653,1052.8 617.9,1071.9 581.9,1091.6 545.2,1111.9 507.6,1132.8 469.1,1154.5" fill="url(#g474)"/><polygon points="468,1153.8 506.6,1132.2 544.2,1111.3 580.9,1091 616.8,1071.3 651.9,1052.3 686.3,1033.8 719.9,1015.9 752.8,998.5 785.1,981.7 816.6,965.3 824.4,969.2 792.9,985.6 760.7,1002.6 727.8,1020 694.2,1038 659.9,1056.6 624.8,1075.7 588.9,1095.5 552.2,1115.9 514.6,1137 476.2,1158.7" fill="url(#g475)"/><polygon points="475.1,1158.1 513.6,1136.4 551.2,1115.3 587.9,1094.9 623.8,1075.2 658.9,1056 693.2,1037.5 726.8,1019.5 759.7,1002 791.8,985.1 823.4,968.7 831.2,972.5 799.7,989 767.5,1006 734.7,1023.6 701.1,1041.7 666.9,1060.3 631.8,1079.6 595.9,1099.4 559.3,1119.9 521.7,1141.1 483.2,1162.9" fill="url(#g476)"/><polygon points="482.2,1162.3 520.6,1140.5 558.2,1119.3 594.9,1098.8 630.7,1079 665.8,1059.8 700.1,1041.1 733.7,1023 766.5,1005.5 798.7,988.5 830.2,972 838,975.8 806.5,992.4 774.4,1009.5 741.6,1027.1 708.1,1045.3 673.8,1064 638.8,1083.3 603,1103.3 566.3,1123.9 528.8,1145.2 490.4,1167.1" fill="url(#g477)"/><polygon points="489.3,1166.5 527.7,1144.6 565.3,1123.3 601.9,1102.7 637.7,1082.8 672.8,1063.5 707,1044.7 740.6,1026.6 773.4,1009 805.5,991.9 837,975.3 844.8,979.1 813.4,995.7 781.3,1012.9 748.6,1030.6 715.1,1048.8 680.8,1067.7 645.8,1087.1 610,1107.1 573.4,1127.8 535.9,1149.2 497.5,1171.3" fill="url(#g478)"/><polygon points="496.4,1170.7 534.8,1148.6 572.3,1127.2 609,1106.6 644.8,1086.5 679.8,1067.1 714,1048.3 747.5,1030.1 780.3,1012.4 812.4,995.2 843.8,978.6 851.7,982.3 820.3,999 788.3,1016.3 755.5,1034.1 722.1,1052.4 687.9,1071.3 652.9,1090.8 617.1,1111 580.5,1131.7 543,1153.2 504.6,1175.4" fill="url(#g479)"/><polygon points="503.6,1174.8 542,1152.6 579.4,1131.2 616.1,1110.4 651.8,1090.3 686.8,1070.8 721,1051.9 754.5,1033.5 787.2,1015.8 819.3,998.5 850.7,981.8 857.6,985 826.2,1001.8 794.2,1019.1 761.5,1037 728,1055.4 693.9,1074.4 658.9,1094 623.2,1114.2 586.6,1135 549.1,1156.6 510.8,1178.9" fill="url(#g480)"/>
<path d="M110.5 881.2L150.4 864.9L189.6 849L228 833.6L265.7 818.6L302.7 804L338.9 789.9L374.5 776.2L409.5 762.8L443.8 749.8L477.5 737.2M116.9 887L156.8 870.6L196 854.6L234.3 839.1L272 824L308.9 809.4L345.1 795.2L380.7 781.4L415.6 768L449.8 754.9L483.5 742.2M123.3 892.8L163.2 876.2L202.3 860.2L240.6 844.6L278.2 829.5L315.1 814.7L351.3 800.5L386.8 786.6L421.7 773.1L455.9 760L489.5 747.2M129.7 898.5L169.6 881.9L208.6 865.7L246.9 850.1L284.5 834.8L321.3 820.1L357.5 805.7L392.9 791.7L427.8 778.2L461.9 765L495.5 752.2M136.1 904.2L176 887.5L215 871.3L253.3 855.5L290.8 840.2L327.6 825.3L363.7 810.9L399.1 796.9L433.9 783.2L468 770L501.5 757.1M142.5 909.9L182.3 893.1L221.3 876.8L259.6 860.9L297 845.5L333.8 830.6L369.9 816.1L405.2 802L440 788.3L474 774.9L507.5 762M149 915.5L188.7 898.6L227.7 882.2L265.9 866.3L303.3 850.8L340 835.8L376 821.2L411.4 807L446.1 793.3L480.1 779.9L513.5 766.9M155.4 921.2L195.1 904.2L234 887.7L272.2 871.7L309.6 856.1L346.3 841L382.2 826.3L417.5 812.1L452.2 798.2L486.2 784.8L519.5 771.7M161.8 926.8L201.5 909.7L240.4 893.1L278.5 877L315.9 861.4L352.5 846.2L388.5 831.4L423.7 817.1L458.3 803.2L492.3 789.7L525.6 776.5M168.2 932.3L207.9 915.1L246.8 898.5L284.8 882.3L322.2 866.6L358.8 851.3L394.7 836.5L429.9 822.1L464.4 808.1L498.3 794.5L531.6 781.3M174.7 937.9L214.3 920.6L253.1 903.8L291.2 887.6L328.5 871.8L365 856.4L400.9 841.5L436 827.1L470.6 813L504.4 799.3L537.7 786.1M181.1 943.4L220.7 926L259.5 909.2L297.5 892.8L334.8 876.9L371.3 861.5L407.1 846.5L442.2 832L476.7 817.9L510.5 804.1L543.7 790.8M187.5 948.9L227.1 931.4L265.9 914.5L303.8 898L341.1 882.1L377.5 866.6L413.3 851.5L448.4 836.9L482.8 822.7L516.6 808.9L549.8 795.5M194 954.3L233.5 936.8L272.2 919.8L310.2 903.2L347.4 887.2L383.8 871.6L419.6 856.5L454.6 841.8L489 827.5L522.7 813.6L555.9 800.2M200.4 959.8L239.9 942.1L278.6 925L316.5 908.4L353.7 892.3L390.1 876.6L425.8 861.4L460.8 846.6L495.2 832.3L528.9 818.3L561.9 804.8M206.9 965.2L246.4 947.4L285 930.2L322.9 913.5L360 897.3L396.4 881.6L432.1 866.3L467 851.4L501.3 837L535 823L568 809.4M213.3 970.5L252.8 952.7L291.4 935.4L329.3 918.6L366.4 902.3L402.7 886.5L438.3 871.1L473.3 856.2L507.5 841.7L541.1 827.6L574.1 814M219.8 975.9L259.2 958L297.8 940.6L335.7 923.7L372.7 907.3L409 891.4L444.6 876L479.5 861L513.7 846.4L547.3 832.3L580.2 818.5M226.3 981.2L265.7 963.2L304.3 945.7L342 928.7L379 912.3L415.3 896.3L450.9 880.8L485.7 865.7L519.9 851.1L553.4 836.8L586.4 823M232.8 986.5L272.2 968.4L310.7 950.8L348.4 933.8L385.4 917.2L421.6 901.2L457.2 885.6L492 870.4L526.1 855.7L559.6 841.4L592.5 827.5M239.3 991.8L278.6 973.6L317.1 955.9L354.8 938.8L391.8 922.1L428 906L463.5 890.3L498.2 875.1L532.3 860.3L565.8 845.9L598.6 832M245.8 997L285.1 978.7L323.6 961L361.3 943.7L398.2 927L434.3 910.8L469.8 895L504.5 879.7L538.6 864.9L572 850.4L604.8 836.4M252.3 1002.2L291.6 983.8L330 966L367.7 948.7L404.5 931.9L440.7 915.5L476.1 899.7L510.8 884.3L544.8 869.4L578.2 854.9L610.9 840.8M258.8 1007.4L298.1 988.9L336.5 971L374.1 953.6L410.9 936.7L447 920.3L482.4 904.4L517.1 888.9L551.1 873.9L584.4 859.3L617.1 845.2M265.3 1012.6L304.6 994L343 975.9L380.6 958.4L417.4 941.5L453.4 925L488.8 909L523.4 893.5L557.3 878.4L590.6 863.7L623.3 849.5M271.9 1017.7L311.1 999L349.5 980.9L387 963.3L423.8 946.2L459.8 929.7L495.1 913.6L529.7 898L563.6 882.8L596.9 868.1L629.5 853.8M278.4 1022.8L317.6 1004L355.9 985.8L393.5 968.1L430.2 951L466.2 934.3L501.5 918.2L536 902.5L569.9 887.2L603.1 872.5L635.7 858.1M285 1027.9L324.2 1009L362.5 990.7L400 972.9L436.7 955.7L472.6 938.9L507.8 922.7L542.4 906.9L576.2 891.6L609.4 876.8L641.9 862.3M291.6 1032.9L330.7 1013.9L369 995.5L406.4 977.7L443.1 960.3L479 943.5L514.2 927.2L548.7 911.4L582.5 896L615.7 881.1L648.2 866.6M298.2 1037.9L337.3 1018.8L375.5 1000.3L412.9 982.4L449.6 965L485.5 948.1L520.6 931.7L555.1 915.8L588.9 900.3L622 885.3L654.4 870.7M304.8 1042.9L343.8 1023.7L382.1 1005.1L419.5 987.1L456.1 969.6L491.9 952.6L527.1 936.1L561.5 920.1L595.2 904.6L628.3 889.5L660.7 874.9M311.4 1047.9L350.4 1028.6L388.6 1009.9L426 991.8L462.6 974.2L498.4 957.1L533.5 940.6L567.9 924.5L601.6 908.9L634.6 893.7L667 879M318 1052.8L357 1033.4L395.2 1014.6L432.5 996.4L469.1 978.7L504.9 961.6L539.9 944.9L574.3 928.8L608 913.1L641 897.9L673.3 883.1M324.6 1057.7L363.6 1038.2L401.8 1019.3L439.1 1001L475.6 983.3L511.4 966L546.4 949.3L580.7 933.1L614.3 917.3L647.3 902L679.6 887.2M331.3 1062.6L370.3 1043L408.4 1024L445.7 1005.6L482.2 987.8L517.9 970.4L552.9 953.6L587.2 937.3L620.8 921.5L653.7 906.1L686 891.2M338 1067.4L376.9 1047.7L415 1028.7L452.3 1010.2L488.7 992.2L524.4 974.8L559.4 957.9L593.6 941.6L627.2 925.7L660.1 910.2L692.3 895.2M344.7 1072.2L383.6 1052.4L421.6 1033.3L458.9 1014.7L495.3 996.7L531 979.2L565.9 962.2L600.1 945.7L633.6 929.8L666.5 914.3L698.7 899.2M351.4 1077L390.2 1057.1L428.3 1037.9L465.5 1019.2L501.9 1001.1L537.5 983.5L572.4 966.4L606.6 949.9L640.1 933.9L672.9 918.3L705.1 903.1M358.1 1081.8L396.9 1061.8L434.9 1042.4L472.1 1023.6L508.5 1005.4L544.1 987.8L579 970.7L613.1 954L646.5 937.9L679.3 922.2L711.5 907M364.8 1086.5L403.6 1066.4L441.6 1046.9L478.8 1028.1L515.1 1009.8L550.7 992L585.5 974.8L619.6 958.1L653 941.9L685.8 926.2L717.9 910.9M371.5 1091.2L410.4 1071L448.3 1051.4L485.4 1032.5L521.8 1014.1L557.3 996.3L592.1 979L626.2 962.2L659.6 945.9L692.3 930.1L724.3 914.8M378.3 1095.9L417.1 1075.6L455 1055.9L492.1 1036.9L528.4 1018.4L563.9 1000.5L598.7 983.1L632.7 966.2L666.1 949.9L698.8 934L730.8 918.6M385.1 1100.5L423.9 1080.1L461.8 1060.4L498.8 1041.2L535.1 1022.6L570.6 1004.6L605.3 987.2L639.3 970.2L672.6 953.8L705.3 937.9L737.3 922.4M391.9 1105.1L430.7 1084.6L468.5 1064.8L505.6 1045.5L541.8 1026.9L577.2 1008.8L611.9 991.2L645.9 974.2L679.2 957.7L711.8 941.7L743.8 926.1M398.7 1109.7L437.4 1089.1L475.3 1069.1L512.3 1049.8L548.5 1031.1L583.9 1012.9L618.6 995.3L652.5 978.2L685.8 961.6L718.4 945.5L750.3 929.8M405.6 1114.2L444.3 1093.5L482.1 1073.5L519.1 1054.1L555.2 1035.2L590.6 1017L625.3 999.3L659.2 982.1L692.4 965.4L724.9 949.2L756.8 933.5M412.4 1118.8L451.1 1098L488.9 1077.8L525.9 1058.3L562 1039.4L597.4 1021L632 1003.2L665.8 986L699 969.2L731.5 953L763.4 937.2M419.3 1123.2L458 1102.3L495.7 1082.1L532.7 1062.5L568.8 1043.5L604.1 1025L638.7 1007.2L672.5 989.8L705.7 973L738.1 956.7L769.9 940.8M426.2 1127.7L464.8 1106.7L502.6 1086.4L539.5 1066.6L575.6 1047.5L610.9 1029L645.4 1011.1L679.2 993.6L712.3 976.7L744.8 960.3L776.5 944.4M433.1 1132.1L471.7 1111L509.5 1090.6L546.3 1070.8L582.4 1051.6L617.7 1033L652.2 1014.9L686 997.4L719 980.4L751.4 964L783.2 948M440.1 1136.5L478.7 1115.3L516.4 1094.8L553.2 1074.9L589.2 1055.6L624.5 1036.9L658.9 1018.8L692.7 1001.2L725.7 984.1L758.1 967.6L789.8 951.5M447 1140.9L485.6 1119.6L523.3 1099L560.1 1079L596.1 1059.6L631.3 1040.8L665.7 1022.6L699.5 1004.9L732.5 987.8L764.8 971.1L796.5 955M454 1145.3L492.6 1123.8L530.2 1103.1L567 1083L603 1063.5L638.2 1044.6L672.6 1026.3L706.3 1008.6L739.2 991.4L771.5 974.7L803.2 958.5M461 1149.6L499.5 1128L537.2 1107.2L573.9 1087L609.9 1067.4L645 1048.5L679.4 1030.1L713.1 1012.3L746 995L778.3 978.2L809.9 961.9M468 1153.8L506.6 1132.2L544.2 1111.3L580.9 1091L616.8 1071.3L651.9 1052.3L686.3 1033.8L719.9 1015.9L752.8 998.5L785.1 981.7L816.6 965.3M475.1 1158.1L513.6 1136.4L551.2 1115.3L587.9 1094.9L623.8 1075.2L658.9 1056L693.2 1037.5L726.8 1019.5L759.7 1002L791.8 985.1L823.4 968.7M482.2 1162.3L520.6 1140.5L558.2 1119.3L594.9 1098.8L630.7 1079L665.8 1059.8L700.1 1041.1L733.7 1023L766.5 1005.5L798.7 988.5L830.2 972M489.3 1166.5L527.7 1144.6L565.3 1123.3L601.9 1102.7L637.7 1082.8L672.8 1063.5L707 1044.7L740.6 1026.6L773.4 1009L805.5 991.9L837 975.3M496.4 1170.7L534.8 1148.6L572.3 1127.2L609 1106.6L644.8 1086.5L679.8 1067.1L714 1048.3L747.5 1030.1L780.3 1012.4L812.4 995.2L843.8 978.6M503.6 1174.8L542 1152.6L579.4 1131.2L616.1 1110.4L651.8 1090.3L686.8 1070.8L721 1051.9L754.5 1033.5L787.2 1015.8L819.3 998.5L850.7 981.8M510.8 1178.9L549.1 1156.6L586.6 1135L623.2 1114.2L658.9 1094L693.9 1074.4L728 1055.4L761.5 1037L794.2 1019.1L826.2 1001.8L857.6 985M110.5 881.2L149 915.5L187.5 948.9L226.3 981.2L265.3 1012.6L304.8 1042.9L344.7 1072.2L385.1 1100.5L426.2 1127.7L468 1153.8L510.8 1178.9M117.2 878.5L155.6 912.7L194.2 945.9L232.9 978.2L271.9 1009.4L311.3 1039.7L351.2 1068.9L391.6 1097.1L432.7 1124.2L474.5 1150.2L517.2 1175.1M123.9 875.7L162.3 909.8L200.8 943L239.5 975.1L278.5 1006.3L317.9 1036.4L357.7 1065.6L398.1 1093.6L439.2 1120.6L481 1146.6L523.6 1171.4M130.6 873L168.9 907L207.4 940.1L246.1 972.1L285.1 1003.2L324.4 1033.2L364.2 1062.3L404.6 1090.2L445.6 1117.1L487.4 1142.9L530.1 1167.7M137.2 870.3L175.6 904.2L214 937.2L252.7 969.1L291.6 1000.1L330.9 1030L370.7 1059L411 1086.8L452.1 1113.6L493.8 1139.3L536.4 1163.9M143.8 867.6L182.1 901.4L220.6 934.3L259.2 966.2L298.1 997L337.4 1026.9L377.1 1055.7L417.5 1083.5L458.5 1110.2L500.2 1135.8L542.8 1160.3M150.4 864.9L188.7 898.6L227.1 931.4L265.7 963.2L304.6 994L343.8 1023.7L383.6 1052.4L423.9 1080.1L464.8 1106.7L506.6 1132.2L549.1 1156.6M157 862.2L195.3 895.9L233.6 928.6L272.2 960.2L311 990.9L350.3 1020.6L390 1049.2L430.2 1076.8L471.2 1103.3L512.9 1128.7L555.4 1153M163.6 859.5L201.8 893.1L240.1 925.7L278.6 957.3L317.5 987.9L356.7 1017.5L396.4 1046L436.6 1073.5L477.5 1099.9L519.2 1125.2L561.7 1149.3M170.1 856.9L208.3 890.4L246.6 922.9L285.1 954.4L323.9 984.9L363.1 1014.4L402.7 1042.8L442.9 1070.2L483.8 1096.5L525.5 1121.7L568 1145.7M176.7 854.2L214.8 887.6L253 920.1L291.5 951.5L330.3 981.9L369.4 1011.3L409 1039.6L449.2 1066.9L490.1 1093.1L531.7 1118.2L574.2 1142.2M183.2 851.6L221.2 884.9L259.5 917.3L297.9 948.6L336.6 978.9L375.7 1008.2L415.3 1036.4L455.5 1063.6L496.4 1089.7L537.9 1114.7L580.4 1138.6M189.6 849L227.7 882.2L265.9 914.5L304.3 945.7L343 975.9L382.1 1005.1L421.6 1033.3L461.8 1060.4L502.6 1086.4L544.2 1111.3L586.6 1135M196.1 846.4L234.1 879.5L272.2 911.7L310.6 942.9L349.3 973L388.3 1002.1L427.9 1030.1L468 1057.1L508.8 1083L550.3 1107.8L592.7 1131.5M202.5 843.8L240.5 876.9L278.6 908.9L316.9 940L355.6 970L394.6 999.1L434.1 1027L474.2 1053.9L515 1079.7L556.5 1104.4L598.9 1128M208.9 841.2L246.9 874.2L285 906.2L323.3 937.2L361.9 967.1L400.9 996L440.3 1023.9L480.4 1050.7L521.1 1076.4L562.6 1101L605 1124.5M215.3 838.7L253.2 871.6L291.3 903.5L329.5 934.3L368.1 964.2L407.1 993L446.5 1020.8L486.6 1047.5L527.3 1073.2L568.7 1097.7L611.1 1121.1M221.7 836.1L259.6 868.9L297.6 900.7L335.8 931.5L374.3 961.3L413.3 990.1L452.7 1017.7L492.7 1044.4L533.4 1069.9L574.8 1094.3L617.1 1117.6M228 833.6L265.9 866.3L303.8 898L342 928.7L380.6 958.4L419.5 987.1L458.9 1014.7L498.8 1041.2L539.5 1066.6L580.9 1091L623.2 1114.2M234.4 831.1L272.2 863.7L310.1 895.3L348.3 926L386.7 955.6L425.6 984.1L465 1011.6L504.9 1038.1L545.6 1063.4L586.9 1087.7L629.2 1110.8M240.7 828.5L278.4 861.1L316.3 892.7L354.5 923.2L392.9 952.7L431.8 981.2L471.1 1008.6L511 1035L551.6 1060.2L593 1084.4L635.2 1107.4M247 826L284.7 858.5L322.5 890L360.6 920.5L399.1 949.9L437.9 978.3L477.2 1005.6L517.1 1031.9L557.6 1057L599 1081.1L641.1 1104M253.2 823.5L290.9 855.9L328.7 887.3L366.8 917.7L405.2 947.1L444 975.4L483.2 1002.6L523.1 1028.8L563.6 1053.8L604.9 1077.8L647.1 1100.6M259.5 821.1L297.1 853.4L334.9 884.7L372.9 915L411.3 944.3L450 972.5L489.3 999.6L529.1 1025.7L569.6 1050.7L610.9 1074.6L653 1097.3M265.7 818.6L303.3 850.8L341.1 882.1L379 912.3L417.4 941.5L456.1 969.6L495.3 996.7L535.1 1022.6L575.6 1047.5L616.8 1071.3L658.9 1094M271.9 816.1L309.5 848.3L347.2 879.5L385.1 909.6L423.4 938.7L462.1 966.7L501.3 993.7L541.1 1019.6L581.5 1044.4L622.7 1068.1L664.8 1090.6M278.1 813.7L315.6 845.8L353.3 876.9L391.2 906.9L429.5 935.9L468.1 963.9L507.3 990.8L547 1016.6L587.4 1041.3L628.6 1064.9L670.6 1087.4M284.3 811.3L321.8 843.3L359.4 874.3L397.3 904.2L435.5 933.2L474.1 961L513.2 987.9L552.9 1013.6L593.3 1038.2L634.5 1061.7L676.5 1084.1M290.4 808.8L327.9 840.8L365.5 871.7L403.3 901.6L441.5 930.4L480.1 958.2L519.2 984.9L558.8 1010.6L599.2 1035.1L640.3 1058.5L682.3 1080.8M296.6 806.4L334 838.3L371.5 869.1L409.3 898.9L447.5 927.7L486 955.4L525.1 982.1L564.7 1007.6L605 1032.1L646.1 1055.4L688.1 1077.6M302.7 804L340 835.8L377.5 866.6L415.3 896.3L453.4 925L491.9 952.6L531 979.2L570.6 1004.6L610.9 1029L651.9 1052.3L693.9 1074.4M308.8 801.7L346.1 833.4L383.6 864L421.3 893.7L459.4 922.3L497.8 949.8L536.8 976.3L576.4 1001.7L616.7 1026L657.7 1049.1L699.6 1071.2M314.8 799.3L352.1 830.9L389.6 861.5L427.2 891.1L465.3 919.6L503.7 947.1L542.7 973.5L582.2 998.8L622.5 1023L663.5 1046L705.3 1068M320.9 796.9L358.1 828.5L395.5 859L433.2 888.5L471.2 916.9L509.6 944.3L548.5 970.6L588 995.9L628.2 1020L669.2 1043L711 1064.8M326.9 794.6L364.1 826L401.5 856.5L439.1 885.9L477.1 914.3L515.4 941.6L554.3 967.8L593.8 992.9L634 1017L674.9 1039.9L716.7 1061.6M333 792.2L370.1 823.6L407.4 854L445 883.3L482.9 911.6L521.3 938.8L560.1 965L599.6 990.1L639.7 1014L680.6 1036.8L722.4 1058.5M338.9 789.9L376 821.2L413.3 851.5L450.9 880.8L488.8 909L527.1 936.1L565.9 962.2L605.3 987.2L645.4 1011.1L686.3 1033.8L728 1055.4M344.9 787.6L382 818.8L419.2 849.1L456.7 878.2L494.6 906.4L532.8 933.4L571.6 959.4L611 984.3L651.1 1008.1L691.9 1030.8L733.7 1052.3M350.9 785.3L387.9 816.4L425.1 846.6L462.6 875.7L500.4 903.8L538.6 930.8L577.4 956.7L616.7 981.5L656.8 1005.2L697.6 1027.8L739.3 1049.2M356.8 783L393.8 814.1L431 844.2L468.4 873.2L506.2 901.2L544.4 928.1L583.1 953.9L622.4 978.7L662.4 1002.3L703.2 1024.8L744.8 1046.1M362.8 780.7L399.7 811.7L436.8 841.7L474.2 870.7L511.9 898.6L550.1 925.4L588.8 951.2L628.1 975.8L668 999.4L708.8 1021.8L750.4 1043M368.7 778.4L405.5 809.4L442.6 839.3L480 868.2L517.7 896L555.8 922.8L594.4 948.5L633.7 973L673.6 996.5L714.4 1018.8L755.9 1040M374.5 776.2L411.4 807L448.4 836.9L485.7 865.7L523.4 893.5L561.5 920.1L600.1 945.7L639.3 970.2L679.2 993.6L719.9 1015.9L761.5 1037M380.4 773.9L417.2 804.7L454.2 834.5L491.5 863.2L529.1 890.9L567.2 917.5L605.7 943L644.9 967.5L684.8 990.8L725.4 1013L767 1034M386.3 771.7L423 802.4L460 832.1L497.2 860.8L534.8 888.4L572.8 914.9L611.3 940.4L650.5 964.7L690.3 987.9L731 1010L772.4 1031M392.1 769.4L428.8 800.1L465.7 829.7L502.9 858.3L540.4 885.9L578.4 912.3L616.9 937.7L656.1 962L695.9 985.1L736.5 1007.1L777.9 1028M397.9 767.2L434.6 797.8L471.4 827.4L508.6 855.9L546.1 883.4L584 909.7L622.5 935L661.6 959.2L701.4 982.3L741.9 1004.2L783.4 1025M403.7 765L440.3 795.5L477.2 825L514.3 853.5L551.7 880.9L589.6 907.2L628.1 932.4L667.1 956.5L706.9 979.5L747.4 1001.4L788.8 1022.1M409.5 762.8L446.1 793.3L482.8 822.7L519.9 851.1L557.3 878.4L595.2 904.6L633.6 929.8L672.6 953.8L712.3 976.7L752.8 998.5L794.2 1019.1M415.2 760.6L451.8 791L488.5 820.4L525.5 848.7L562.9 875.9L600.8 902.1L639.1 927.1L678.1 951.1L717.8 974L758.2 995.7L799.6 1016.2M421 758.4L457.5 788.8L494.2 818L531.2 846.3L568.5 873.5L606.3 899.5L644.6 924.5L683.6 948.4L723.2 971.2L763.6 992.8L804.9 1013.3M426.7 756.3L463.2 786.5L499.8 815.7L536.8 843.9L574.1 871L611.8 897L650.1 922L689 945.8L728.6 968.5L769 990L810.3 1010.4M432.4 754.1L468.8 784.3L505.4 813.4L542.3 841.5L579.6 868.6L617.3 894.5L655.6 919.4L694.5 943.1L734 965.7L774.4 987.2L815.6 1007.5M438.1 752L474.5 782.1L511 811.2L547.9 839.2L585.1 866.1L622.8 892L661 916.8L699.9 940.5L739.4 963L779.7 984.4L820.9 1004.7M443.8 749.8L480.1 779.9L516.6 808.9L553.4 836.8L590.6 863.7L628.3 889.5L666.5 914.3L705.3 937.9L744.8 960.3L785.1 981.7L826.2 1001.8M449.5 747.7L485.7 777.7L522.2 806.6L559 834.5L596.1 861.3L633.7 887.1L671.9 911.7L710.6 935.2L750.1 957.6L790.4 978.9L831.5 999M455.1 745.6L491.3 775.5L527.8 804.4L564.5 832.2L601.6 858.9L639.2 884.6L677.3 909.2L716 932.6L755.4 955L795.6 976.2L836.7 996.2M460.7 743.5L496.9 773.3L533.3 802.1L570 829.9L607.1 856.6L644.6 882.2L682.7 906.7L721.3 930.1L760.7 952.3L800.9 973.4L842 993.4M466.3 741.4L502.5 771.2L538.8 799.9L575.5 827.6L612.5 854.2L650 879.7L688 904.2L726.7 927.5L766 949.7L806.2 970.7L847.2 990.6M471.9 739.3L508 769L544.3 797.7L580.9 825.3L617.9 851.9L655.4 877.3L693.4 901.7L732 924.9L771.3 947L811.4 968L852.4 987.8M477.5 737.2L513.5 766.9L549.8 795.5L586.4 823L623.3 849.5L660.7 874.9L698.7 899.2L737.3 922.4L776.5 944.4L816.6 965.3L857.6 985" fill="none" stroke="url(#g481)" stroke-width="1" shape-rendering="crispEdges"/>
<polyline points="104,824 477.5,730 876,814" fill="none" stroke="#333" stroke-width="1.1"/>
<polyline points="104,824 138,1124.5 511,1259.5 843.8,1113.2 876,814" fill="none" stroke="#222" stroke-width="1.3"/>
<ellipse cx="302.7" cy="804" rx="5.5" ry="4" fill="#d11010" stroke="#7a0b0b" stroke-width="1"/>
<ellipse cx="304.8" cy="1042.9" rx="5.5" ry="4" fill="#d11010" stroke="#7a0b0b" stroke-width="1"/>
<ellipse cx="660.7" cy="874.9" rx="5.5" ry="4" fill="#d11010" stroke="#7a0b0b" stroke-width="1"/>
<ellipse cx="693.9" cy="1074.4" rx="5.5" ry="4" fill="#d11010" stroke="#7a0b0b" stroke-width="1"/>
<ellipse cx="491.9" cy="952.6" rx="2.5" ry="1.8" fill="#c99" stroke="#633" stroke-width=".6"/>
<circle cx="104" cy="824" r="2" fill="#222"/>
<text x="92.7" y="840.8" font-size="17.3" text-anchor="end" fill="#2a2a2a" textLength="30" lengthAdjust="spacingAndGlyphs">28.1</text>
<circle cx="110.5" cy="881.5" r="2" fill="#222"/>
<text x="99.2" y="898.3" font-size="17.3" text-anchor="end" fill="#2a2a2a" textLength="38.5" lengthAdjust="spacingAndGlyphs">27.65</text>
<circle cx="117" cy="938.5" r="2" fill="#222"/>
<text x="105.7" y="955.3" font-size="17.3" text-anchor="end" fill="#2a2a2a" textLength="30" lengthAdjust="spacingAndGlyphs">27.2</text>
<circle cx="123.5" cy="996" r="2" fill="#222"/>
<text x="112.2" y="1012.8" font-size="17.3" text-anchor="end" fill="#2a2a2a" textLength="38.5" lengthAdjust="spacingAndGlyphs">26.75</text>
<circle cx="130" cy="1053.5" r="2" fill="#222"/>
<text x="118.7" y="1070.3" font-size="17.3" text-anchor="end" fill="#2a2a2a" textLength="30" lengthAdjust="spacingAndGlyphs">26.3</text>
<text x="126.7" y="1141.3" font-size="17.3" text-anchor="end" fill="#2a2a2a" textLength="38.5" lengthAdjust="spacingAndGlyphs">10.00</text>
<circle cx="231.2" cy="1158.2" r="2" fill="#222"/>
<text x="219.9" y="1175" font-size="17.3" text-anchor="end" fill="#2a2a2a" textLength="38.5" lengthAdjust="spacingAndGlyphs">12.50</text>
<circle cx="324.5" cy="1192" r="2" fill="#222"/>
<text x="313.2" y="1208.8" font-size="17.3" text-anchor="end" fill="#2a2a2a" textLength="38.5" lengthAdjust="spacingAndGlyphs">15.00</text>
<circle cx="417.8" cy="1225.8" r="2" fill="#222"/>
<text x="406.4" y="1242.5" font-size="17.3" text-anchor="end" fill="#2a2a2a" textLength="38.5" lengthAdjust="spacingAndGlyphs">17.50</text>
<text x="499.7" y="1276.3" font-size="17.3" text-anchor="end" fill="#2a2a2a" textLength="38.5" lengthAdjust="spacingAndGlyphs">20.00</text>
<text x="521.5" y="1276.2" font-size="17.3" text-anchor="start" fill="#2a2a2a" textLength="30" lengthAdjust="spacingAndGlyphs">8.00</text>
<circle cx="594.2" cy="1222.9" r="2" fill="#222"/>
<text x="604.7" y="1239.6" font-size="17.3" text-anchor="start" fill="#2a2a2a" textLength="30" lengthAdjust="spacingAndGlyphs">7.00</text>
<circle cx="677.4" cy="1186.4" r="2" fill="#222"/>
<text x="687.9" y="1203.1" font-size="17.3" text-anchor="start" fill="#2a2a2a" textLength="30" lengthAdjust="spacingAndGlyphs">6.00</text>
<circle cx="760.6" cy="1149.8" r="2" fill="#222"/>
<text x="771.1" y="1166.5" font-size="17.3" text-anchor="start" fill="#2a2a2a" textLength="30" lengthAdjust="spacingAndGlyphs">5.00</text>
<text x="854.3" y="1130" font-size="17.3" text-anchor="start" fill="#2a2a2a" textLength="30" lengthAdjust="spacingAndGlyphs">4.00</text>
<text x="195.5" y="1258" font-size="23" text-anchor="middle" fill="#222" >B</text>
<text x="815.5" y="1247" font-size="24" text-anchor="middle" fill="#222" >A</text>
<text transform="translate(24.5,982) rotate(-90)" font-size="24" text-anchor="middle" fill="#222">(T)</text>
<polygon points="1183,1080 1405,1234.5 1956.2,1152 1675,1021" fill="#ffff00"/>
<polyline points="1250,1126.7 1262.3,1123.8 1274.5,1120.9 1286.7,1118.1 1298.8,1115.3 1310.9,1112.6 1322.9,1109.9 1334.9,1107.3 1346.8,1104.6 1358.6,1102.1 1370.5,1099.5 1382.3,1097 1394,1094.5 1405.7,1092 1417.3,1089.6 1428.9,1087.2 1440.5,1084.9 1452,1082.5 1463.5,1080.2 1474.9,1077.9 1486.3,1075.7 1497.7,1073.5 1509,1071.3 1520.3,1069.1 1531.5,1067 1542.8,1064.9 1553.9,1062.8 1565.1,1060.7 1576.2,1058.6 1587.2,1056.6 1598.3,1054.6 1609.3,1052.7 1620.3,1050.7 1631.2,1048.8 1642.1,1046.9 1653,1045 1663.8,1043.1 1674.6,1041.3 1685.4,1039.5 1696.2,1037.6 1706.9,1035.9" fill="none" stroke="#b4f020" stroke-width="1.5"/>
<polyline points="1290.1,1154.5 1302.3,1151.2 1314.4,1148 1326.6,1144.9 1338.6,1141.7 1350.7,1138.7 1362.6,1135.7 1374.6,1132.7 1386.5,1129.8 1398.3,1126.9 1410.1,1124 1421.9,1121.2 1433.6,1118.5 1445.3,1115.8 1456.9,1113.1 1468.5,1110.4 1480.1,1107.8 1491.6,1105.3 1503.1,1102.7 1514.5,1100.2 1525.9,1097.8 1537.3,1095.3 1548.6,1092.9 1559.9,1090.6 1571.2,1088.2 1582.4,1085.9 1593.6,1083.7 1604.8,1081.4 1615.9,1079.2 1627,1077 1638.1,1074.8 1649.1,1072.7 1660.1,1070.6 1671.1,1068.5 1682.1,1066.4 1693,1064.4 1703.9,1062.4 1714.7,1060.4 1725.6,1058.5 1736.4,1056.5 1747.2,1054.6" fill="none" stroke="#5fdc2a" stroke-width="1.5"/>
<polyline points="1344.9,1192.7 1356.8,1188.7 1368.7,1184.9 1380.5,1181.1 1392.3,1177.3 1404.1,1173.7 1415.9,1170.1 1427.6,1166.6 1439.3,1163.2 1450.9,1159.8 1462.5,1156.5 1474.1,1153.2 1485.7,1150 1497.2,1146.9 1508.7,1143.8 1520.2,1140.8 1531.6,1137.8 1543,1134.8 1554.4,1131.9 1565.8,1129.1 1577.1,1126.3 1588.4,1123.5 1599.6,1120.8 1610.8,1118.1 1622,1115.5 1633.2,1112.9 1644.4,1110.4 1655.5,1107.8 1666.6,1105.4 1677.6,1102.9 1688.7,1100.5 1699.7,1098.1 1710.7,1095.8 1721.6,1093.5 1732.6,1091.2 1743.5,1088.9 1754.4,1086.7 1765.3,1084.5 1776.1,1082.4 1786.9,1080.3 1797.7,1078.2" fill="none" stroke="#3fd060" stroke-width="1.5"/>
<polyline points="1491.2,1218.9 1501.9,1214.2 1512.7,1209.7 1523.5,1205.2 1534.4,1200.9 1545.2,1196.7 1556.1,1192.7 1567,1188.7 1577.9,1184.8 1588.8,1181 1599.7,1177.3 1610.7,1173.7 1621.6,1170.1 1632.5,1166.7 1643.4,1163.3 1654.3,1159.9 1665.2,1156.7 1676.1,1153.5 1687,1150.3 1697.9,1147.3 1708.8,1144.3 1719.6,1141.3 1730.5,1138.4 1741.3,1135.5 1752.2,1132.7 1763,1130 1773.8,1127.2 1784.6,1124.6 1795.4,1122 1806.2,1119.4 1816.9,1116.8 1827.7,1114.3 1838.4,1111.9 1849.1,1109.5 1859.9,1107.1" fill="none" stroke="#1a2a40" stroke-width="1.5"/>
<polyline points="1183,1080 1675,1021 1956.2,1152" fill="none" stroke="#333" stroke-width="1.1"/>
<polyline points="1680,688.8 1675,1021" fill="none" stroke="#666" stroke-width="1.4"/>
<polygon points="1160.3,731.5 1215.7,734.6 1270.2,737.2 1324,739.4 1377,741.2 1429.2,742.5 1480.6,743.5 1531.3,744.1 1581.3,744.3 1630.6,744.2 1679.2,743.7 1684,750.6 1635.4,751.2 1586.1,751.4 1536.1,751.2 1485.3,750.7 1433.8,749.7 1381.5,748.4 1328.5,746.7 1274.6,744.5 1220,742 1164.5,739" fill="url(#g482)"/><polygon points="1163.9,738 1219.4,741 1274,743.6 1327.9,745.7 1380.9,747.5 1433.2,748.8 1484.7,749.7 1535.4,750.3 1585.5,750.5 1634.8,750.3 1683.4,749.7 1688.3,756.6 1639.6,757.2 1590.3,757.5 1540.2,757.4 1489.4,756.9 1437.8,756 1385.5,754.7 1332.4,753 1278.4,750.9 1223.7,748.4 1168.2,745.5" fill="url(#g483)"/><polygon points="1167.6,744.5 1223.1,747.4 1277.9,750 1331.8,752.1 1384.9,753.8 1437.2,755 1488.8,755.9 1539.6,756.4 1589.6,756.6 1639,756.3 1687.6,755.7 1692.5,762.6 1643.8,763.2 1594.4,763.5 1544.3,763.5 1493.5,763 1441.8,762.2 1389.4,761 1336.3,759.3 1282.3,757.3 1227.5,754.8 1171.8,751.9" fill="url(#g484)"/><polygon points="1171.3,750.9 1226.9,753.8 1281.7,756.3 1335.7,758.4 1388.8,760 1441.2,761.3 1492.8,762.1 1543.7,762.6 1593.8,762.6 1643.2,762.3 1691.9,761.7 1696.8,768.5 1648.1,769.2 1598.6,769.6 1548.5,769.6 1497.5,769.2 1445.9,768.4 1393.4,767.2 1340.2,765.6 1286.1,763.6 1231.2,761.2 1175.5,758.3" fill="url(#g485)"/><polygon points="1175,757.4 1230.7,760.2 1285.5,762.7 1339.6,764.7 1392.8,766.3 1445.3,767.5 1496.9,768.2 1547.8,768.7 1598,768.7 1647.4,768.3 1696.2,767.6 1701.1,774.4 1652.3,775.2 1602.8,775.6 1552.6,775.6 1501.7,775.3 1449.9,774.5 1397.4,773.4 1344.1,771.9 1290,769.9 1235,767.5 1179.2,764.7" fill="url(#g486)"/><polygon points="1178.6,763.8 1234.4,766.6 1289.4,769 1343.5,770.9 1396.8,772.5 1449.3,773.6 1501,774.4 1552,774.7 1602.2,774.7 1651.7,774.3 1700.5,773.6 1705.4,780.3 1656.6,781.1 1607.1,781.6 1556.8,781.7 1505.8,781.4 1454,780.7 1401.4,779.6 1348,778.1 1293.8,776.2 1238.8,773.9 1182.9,771.1" fill="url(#g487)"/><polygon points="1182.3,770.2 1238.2,772.9 1293.2,775.3 1347.4,777.2 1400.8,778.7 1453.4,779.8 1505.2,780.5 1556.2,780.8 1606.4,780.7 1655.9,780.3 1704.8,779.4 1709.7,786.2 1660.9,787.1 1611.3,787.6 1561,787.7 1509.9,787.4 1458.1,786.8 1405.4,785.7 1352,784.3 1297.7,782.5 1242.6,780.2 1186.6,777.5" fill="url(#g488)"/><polygon points="1186,776.5 1242,779.2 1297.1,781.5 1351.4,783.4 1404.8,784.8 1457.4,785.9 1509.3,786.5 1560.3,786.8 1610.7,786.7 1660.2,786.2 1709.1,785.3 1714,792 1665.1,792.9 1615.5,793.5 1565.2,793.7 1514,793.5 1462.1,792.9 1409.4,791.9 1355.9,790.5 1301.6,788.7 1246.4,786.5 1190.3,783.8" fill="url(#g489)"/><polygon points="1189.8,782.9 1245.8,785.5 1301,787.8 1355.3,789.6 1408.8,791 1461.5,792 1513.4,792.6 1564.5,792.8 1614.9,792.6 1664.5,792.1 1713.4,791.2 1718.4,797.8 1669.4,798.8 1619.8,799.4 1569.4,799.6 1518.2,799.5 1466.2,798.9 1413.5,798 1359.9,796.7 1305.5,794.9 1250.2,792.7 1194,790.1" fill="url(#g490)"/><polygon points="1193.5,789.2 1249.6,791.8 1304.9,794 1359.3,795.7 1412.9,797.1 1465.6,798 1517.6,798.6 1568.7,798.7 1619.1,798.5 1668.8,797.9 1717.7,797 1722.7,803.6 1673.8,804.6 1624.1,805.3 1573.6,805.6 1522.4,805.5 1470.3,805 1417.5,804.1 1363.9,802.8 1309.4,801.1 1254,798.9 1197.8,796.4" fill="url(#g491)"/><polygon points="1197.2,795.4 1253.4,798 1308.8,800.2 1363.3,801.9 1416.9,803.2 1469.7,804.1 1521.7,804.6 1573,804.7 1623.4,804.4 1673.1,803.8 1722.1,802.8 1727.1,809.4 1678.1,810.5 1628.3,811.1 1577.8,811.5 1526.5,811.4 1474.5,811 1421.6,810.1 1367.9,808.9 1313.3,807.2 1257.8,805.2 1201.5,802.6" fill="url(#g492)"/><polygon points="1201,801.7 1257.3,804.2 1312.7,806.3 1367.3,808 1421,809.2 1473.9,810.1 1525.9,810.5 1577.2,810.6 1627.7,810.3 1677.4,809.6 1726.4,808.5 1731.5,815.1 1682.4,816.2 1632.6,817 1582.1,817.4 1530.7,817.3 1478.6,817 1425.6,816.2 1371.9,815 1317.2,813.4 1261.7,811.3 1205.3,808.9" fill="url(#g493)"/><polygon points="1204.7,807.9 1261.1,810.4 1316.6,812.4 1371.2,814.1 1425,815.3 1478,816.1 1530.1,816.5 1581.4,816.5 1632,816.1 1681.8,815.4 1730.8,814.3 1735.9,820.8 1686.8,822 1636.9,822.8 1586.3,823.2 1534.9,823.3 1482.8,822.9 1429.7,822.2 1375.9,821 1321.1,819.5 1265.5,817.5 1209,815.1" fill="url(#g494)"/><polygon points="1208.5,814.2 1265,816.6 1320.5,818.6 1375.3,820.1 1429.1,821.3 1482.1,822 1534.3,822.4 1585.7,822.3 1636.3,821.9 1686.1,821.1 1735.2,820 1740.3,826.5 1691.2,827.7 1641.3,828.6 1590.6,829 1539.2,829.1 1486.9,828.8 1433.8,828.2 1379.9,827.1 1325.1,825.6 1269.4,823.6 1212.8,821.3" fill="url(#g495)"/><polygon points="1212.3,820.3 1268.8,822.7 1324.5,824.6 1379.3,826.2 1433.2,827.3 1486.3,828 1538.5,828.3 1590,828.2 1640.6,827.7 1690.5,826.9 1739.6,825.7 1744.7,832.2 1695.5,833.4 1645.6,834.3 1594.9,834.8 1543.4,835 1491.1,834.7 1437.9,834.1 1383.9,833.1 1329,831.6 1273.3,829.7 1216.6,827.4" fill="url(#g496)"/><polygon points="1216,826.5 1272.7,828.8 1328.4,830.7 1383.3,832.2 1437.3,833.2 1490.5,833.9 1542.8,834.1 1594.3,834 1645,833.5 1694.9,832.6 1744.1,831.3 1749.2,837.8 1699.9,839.1 1650,840 1599.2,840.6 1547.6,840.8 1495.3,840.6 1442,840 1388,839 1333,837.6 1277.2,835.8 1220.4,833.5" fill="url(#g497)"/><polygon points="1219.8,832.6 1276.6,834.9 1332.4,836.7 1387.4,838.1 1441.4,839.1 1494.6,839.7 1547,839.9 1598.6,839.8 1649.3,839.2 1699.3,838.2 1748.5,836.9 1753.6,843.4 1704.4,844.7 1654.3,845.7 1603.5,846.4 1551.9,846.6 1499.5,846.5 1446.2,845.9 1392,845 1337,843.6 1281.1,841.9 1224.2,839.6" fill="url(#g498)"/><polygon points="1223.6,838.7 1280.5,841 1336.4,842.7 1391.4,844.1 1445.6,845 1498.8,845.6 1551.3,845.7 1602.9,845.5 1653.7,844.9 1703.7,843.9 1752.9,842.5 1758.1,849 1708.8,850.4 1658.7,851.4 1607.9,852.1 1556.2,852.4 1503.7,852.3 1450.3,851.8 1396.1,850.9 1341,849.6 1285,847.9 1228,845.7" fill="url(#g499)"/><polygon points="1227.5,844.8 1284.4,847 1340.4,848.7 1395.5,850 1449.7,850.9 1503,851.4 1555.5,851.5 1607.2,851.2 1658.1,850.6 1708.1,849.5 1757.4,848.1 1762.6,854.5 1713.2,856 1663.1,857.1 1612.2,857.8 1560.5,858.1 1507.9,858.1 1454.5,857.7 1400.2,856.8 1345,855.6 1288.9,853.9 1231.9,851.8" fill="url(#g500)"/><polygon points="1231.3,850.9 1288.3,853 1344.4,854.7 1399.6,855.9 1453.9,856.8 1507.3,857.2 1559.8,857.3 1611.5,856.9 1662.5,856.2 1712.6,855.1 1761.9,853.7 1767.1,860 1717.7,861.5 1667.5,862.7 1616.6,863.4 1564.8,863.8 1512.1,863.9 1458.7,863.5 1404.3,862.7 1349,861.5 1292.8,859.9 1235.7,857.8" fill="url(#g501)"/><polygon points="1235.1,856.9 1292.2,859 1348.4,860.6 1403.7,861.8 1458,862.6 1511.5,863 1564.1,863 1615.9,862.6 1666.9,861.8 1717,860.7 1766.4,859.2 1771.6,865.5 1722.2,867.1 1672,868.3 1620.9,869.1 1569.1,869.5 1516.4,869.6 1462.8,869.3 1408.4,868.5 1353,867.4 1296.8,865.8 1239.6,863.8" fill="url(#g502)"/><polygon points="1239,862.9 1296.2,864.9 1352.4,866.5 1407.8,867.7 1462.2,868.4 1515.8,868.7 1568.4,868.7 1620.3,868.2 1671.3,867.4 1721.5,866.2 1770.9,864.7 1776.2,870.9 1726.7,872.6 1676.4,873.8 1625.3,874.7 1573.4,875.2 1520.7,875.3 1467,875 1412.5,874.3 1357.1,873.2 1300.7,871.7 1243.4,869.8" fill="url(#g503)"/><polygon points="1242.8,868.9 1300.1,870.8 1356.5,872.4 1411.9,873.5 1466.4,874.2 1520,874.5 1572.8,874.3 1624.7,873.8 1675.7,873 1726,871.7 1775.5,870.1 1780.7,876.4 1731.2,878 1680.9,879.3 1629.7,880.3 1577.8,880.8 1525,881 1471.3,880.8 1416.7,880.1 1361.2,879.1 1304.7,877.6 1247.3,875.7" fill="url(#g504)"/><polygon points="1246.7,874.8 1304.1,876.7 1360.5,878.2 1416,879.3 1470.6,879.9 1524.3,880.1 1577.1,880 1629.1,879.4 1680.2,878.5 1730.5,877.2 1780,875.6 1785.3,881.8 1735.7,883.5 1685.3,884.8 1634.2,885.8 1582.1,886.4 1529.3,886.6 1475.5,886.5 1420.8,885.9 1365.2,884.9 1308.7,883.5 1251.2,881.6" fill="url(#g505)"/><polygon points="1250.6,880.7 1308.1,882.6 1364.6,884 1420.2,885 1474.9,885.6 1528.6,885.8 1581.5,885.6 1633.5,885 1684.7,884 1735,882.7 1784.6,881 1789.9,887.1 1740.3,888.9 1689.8,890.3 1638.6,891.3 1586.5,892 1533.6,892.3 1479.7,892.2 1425,891.6 1369.3,890.7 1312.7,889.3 1255.1,887.5" fill="url(#g506)"/><polygon points="1254.5,886.6 1312.1,888.4 1368.7,889.8 1424.4,890.8 1479.1,891.3 1532.9,891.4 1585.9,891.2 1637.9,890.5 1689.2,889.5 1739.6,888.1 1789.2,886.3 1794.5,892.5 1744.8,894.3 1694.4,895.8 1643.1,896.8 1590.9,897.6 1537.9,897.9 1484,897.8 1429.2,897.3 1373.4,896.4 1316.7,895.1 1259,893.4" fill="url(#g507)"/><polygon points="1258.4,892.5 1316.1,894.3 1372.8,895.6 1428.5,896.5 1483.4,897 1537.3,897 1590.3,896.7 1642.4,896 1693.7,894.9 1744.1,893.5 1793.8,891.7 1799.1,897.8 1749.4,899.7 1698.9,901.2 1647.5,902.3 1595.3,903.1 1542.3,903.5 1488.3,903.4 1433.4,903 1377.5,902.2 1320.7,900.9 1262.9,899.2" fill="url(#g508)"/><polygon points="1262.4,898.3 1320.1,900 1376.9,901.3 1432.7,902.2 1487.6,902.6 1541.6,902.6 1594.7,902.2 1646.9,901.5 1698.2,900.4 1748.7,898.9 1798.4,897 1803.8,903.1 1754,905 1703.4,906.6 1652,907.8 1599.8,908.6 1546.6,909 1492.6,909 1437.6,908.7 1381.7,907.9 1324.8,906.7 1266.9,905" fill="url(#g509)"/><polygon points="1266.3,904.2 1324.2,905.8 1381,907 1437,907.8 1491.9,908.2 1546,908.2 1599.1,907.7 1651.4,906.9 1702.8,905.8 1753.3,904.2 1803.1,902.3 1808.4,908.3 1758.6,910.3 1708,911.9 1656.5,913.2 1604.2,914 1551,914.5 1496.9,914.6 1441.8,914.3 1385.8,913.6 1328.8,912.4 1270.8,910.8" fill="url(#g510)"/><polygon points="1270.3,909.9 1328.2,911.5 1385.2,912.7 1441.2,913.4 1496.2,913.8 1550.3,913.7 1603.5,913.2 1655.9,912.4 1707.3,911.1 1757.9,909.5 1807.7,907.5 1813.1,913.5 1763.3,915.6 1712.6,917.2 1661.1,918.5 1608.7,919.5 1555.4,920 1501.2,920.1 1446.1,919.9 1390,919.2 1332.9,918.1 1274.8,916.6" fill="url(#g511)"/><polygon points="1274.2,915.7 1332.3,917.2 1389.3,918.4 1445.4,919 1500.5,919.3 1554.7,919.2 1608,918.6 1660.4,917.7 1711.9,916.4 1762.6,914.8 1812.4,912.8 1817.8,918.7 1767.9,920.8 1717.2,922.5 1665.6,923.9 1613.2,924.9 1559.8,925.5 1505.5,925.6 1450.3,925.4 1394.1,924.8 1337,923.8 1278.8,922.3" fill="url(#g512)"/><polygon points="1278.2,921.4 1336.4,922.9 1393.5,924 1449.7,924.6 1504.9,924.8 1559.1,924.6 1612.5,924.1 1664.9,923.1 1716.5,921.7 1767.2,920 1817.1,918 1822.6,923.9 1772.6,926 1721.8,927.8 1670.2,929.2 1617.7,930.2 1564.2,930.9 1509.9,931.1 1454.6,931 1398.3,930.4 1341.1,929.4 1282.8,928" fill="url(#g513)"/><polygon points="1282.2,927.1 1340.5,928.6 1397.7,929.6 1454,930.1 1509.2,930.3 1563.6,930.1 1617,929.4 1669.5,928.4 1721.1,927 1771.9,925.3 1821.9,923.1 1827.3,929 1777.3,931.2 1726.5,933 1674.8,934.5 1622.2,935.6 1568.7,936.3 1514.3,936.6 1458.9,936.5 1402.5,936 1345.2,935 1286.8,933.6" fill="url(#g514)"/><polygon points="1286.2,932.8 1344.6,934.2 1401.9,935.1 1458.2,935.7 1513.6,935.8 1568,935.5 1621.5,934.8 1674.1,933.7 1725.8,932.3 1776.6,930.4 1826.6,928.3 1832.1,934.1 1782,936.4 1731.1,938.3 1679.4,939.8 1626.7,940.9 1573.2,941.6 1518.7,942 1463.2,942 1406.8,941.5 1349.3,940.6 1290.8,939.3" fill="url(#g515)"/><polygon points="1290.2,938.4 1348.7,939.8 1406.1,940.7 1462.5,941.1 1518,941.2 1572.5,940.8 1626,940.1 1678.7,939 1730.4,937.5 1781.3,935.6 1831.4,933.4 1836.9,939.2 1786.8,941.5 1735.8,943.4 1684,945 1631.3,946.2 1577.6,947 1523.1,947.4 1467.5,947.4 1411,947 1353.5,946.2 1294.9,944.9" fill="url(#g516)"/><polygon points="1294.3,944.1 1352.8,945.3 1410.4,946.2 1466.9,946.6 1522.4,946.6 1577,946.2 1630.6,945.4 1683.3,944.2 1735.1,942.7 1786,940.7 1836.1,938.4 1841.7,944.2 1791.5,946.6 1740.5,948.6 1688.6,950.2 1635.8,951.4 1582.1,952.3 1527.5,952.8 1471.9,952.8 1415.2,952.5 1357.6,951.7 1298.9,950.5" fill="url(#g517)"/><polygon points="1298.3,949.6 1357,950.9 1414.6,951.6 1471.2,952 1526.8,952 1581.5,951.5 1635.2,950.7 1687.9,949.4 1739.8,947.8 1790.8,945.8 1841,943.5 1846.5,949.2 1796.3,951.6 1745.2,953.7 1693.3,955.4 1640.4,956.7 1586.7,957.6 1531.9,958.1 1476.2,958.2 1419.5,957.9 1361.8,957.2 1303,956" fill="url(#g518)"/><polygon points="1302.4,955.2 1361.2,956.4 1418.9,957.1 1475.6,957.4 1531.3,957.3 1586,956.8 1639.7,955.9 1692.6,954.6 1744.5,952.9 1795.6,950.9 1845.8,948.5 1851.4,954.2 1801.1,956.7 1750,958.8 1698,960.5 1645,961.9 1591.2,962.8 1536.4,963.4 1480.6,963.6 1423.8,963.3 1366,962.6 1307.1,961.5" fill="url(#g519)"/><polygon points="1306.5,960.7 1365.4,961.8 1423.2,962.5 1479.9,962.8 1535.7,962.6 1590.5,962 1644.3,961.1 1697.3,959.7 1749.2,958 1800.4,955.9 1850.6,953.5 1856.2,959.2 1805.9,961.7 1754.7,963.8 1702.7,965.6 1649.7,967 1595.8,968 1540.9,968.7 1485,968.9 1428.1,968.7 1370.2,968.1 1311.2,967" fill="url(#g520)"/><polygon points="1310.6,966.2 1369.6,967.3 1427.5,967.9 1484.3,968.1 1540.2,967.9 1595.1,967.3 1649,966.2 1701.9,964.9 1754,963.1 1805.2,960.9 1855.5,958.4 1861.1,964.1 1810.7,966.7 1759.5,968.9 1707.4,970.7 1654.3,972.2 1600.3,973.2 1545.4,973.9 1489.4,974.2 1432.4,974.1 1374.4,973.5 1315.3,972.5" fill="url(#g521)"/><polygon points="1314.7,971.7 1373.8,972.7 1431.8,973.3 1488.7,973.4 1544.7,973.1 1599.6,972.5 1653.6,971.4 1706.7,969.9 1758.8,968.1 1810,965.9 1860.4,963.3 1866,969 1815.6,971.6 1764.3,973.8 1712.1,975.7 1659,977.3 1604.9,978.4 1549.9,979.1 1493.8,979.5 1436.8,979.4 1378.7,978.9 1319.5,977.9" fill="url(#g522)"/><polygon points="1318.8,977.1 1378,978.1 1436.1,978.6 1493.2,978.7 1549.2,978.3 1604.2,977.6 1658.3,976.5 1711.4,975 1763.6,973.1 1814.9,970.8 1865.3,968.2 1871,973.8 1820.5,976.5 1769.1,978.8 1716.9,980.8 1663.7,982.3 1609.5,983.5 1554.4,984.3 1498.3,984.7 1441.1,984.7 1382.9,984.2 1323.6,983.3" fill="url(#g523)"/><polygon points="1323,982.5 1382.3,983.4 1440.5,983.9 1497.6,983.9 1553.7,983.5 1608.8,982.7 1663,981.6 1716.2,980 1768.4,978.1 1819.8,975.8 1870.2,973.1 1875.9,978.6 1825.4,981.4 1774,983.7 1721.7,985.7 1668.4,987.4 1614.2,988.6 1559,989.5 1502.8,989.9 1445.5,989.9 1387.2,989.5 1327.8,988.7" fill="url(#g524)"/><polygon points="1327.2,987.9 1386.5,988.7 1444.8,989.1 1502.1,989.1 1558.3,988.7 1613.5,987.8 1667.7,986.6 1720.9,985 1773.2,983 1824.7,980.6 1875.2,977.9 1880.9,983.4 1830.3,986.2 1778.8,988.6 1726.5,990.7 1673.1,992.4 1618.8,993.7 1563.6,994.6 1507.2,995.1 1449.9,995.2 1391.5,994.8 1332,994" fill="url(#g525)"/><polygon points="1331.4,993.2 1390.8,994 1449.2,994.4 1506.6,994.3 1562.9,993.8 1618.1,992.9 1672.4,991.6 1725.7,989.9 1778.1,987.9 1829.6,985.5 1880.2,982.7 1885.9,988.2 1835.3,991 1783.7,993.5 1731.3,995.6 1677.9,997.3 1623.5,998.7 1568.1,999.7 1511.8,1000.2 1454.3,1000.3 1395.8,1000.1 1336.2,999.3" fill="url(#g526)"/><polygon points="1335.6,998.5 1395.2,999.3 1453.7,999.6 1511.1,999.4 1567.5,998.9 1622.8,997.9 1677.2,996.6 1730.6,994.9 1783,992.8 1834.5,990.3 1885.2,987.5 1891,992.9 1840.3,995.8 1788.7,998.3 1736.1,1000.5 1682.7,1002.3 1628.2,1003.7 1572.8,1004.7 1516.3,1005.3 1458.7,1005.5 1400.1,1005.3 1340.4,1004.6" fill="url(#g527)"/><polygon points="1339.8,1003.8 1399.5,1004.5 1458.1,1004.7 1515.6,1004.6 1572.1,1004 1627.5,1002.9 1681.9,1001.5 1735.4,999.8 1787.9,997.6 1839.5,995.1 1890.2,992.2 1896,997.6 1845.3,1000.5 1793.6,1003.1 1741,1005.4 1687.5,1007.2 1632.9,1008.7 1577.4,1009.7 1520.8,1010.4 1463.2,1010.6 1404.5,1010.5 1344.7,1009.9" fill="url(#g528)"/><polygon points="1344,1009.1 1403.8,1009.7 1462.5,1009.9 1520.1,1009.6 1576.7,1009 1632.2,1007.9 1686.7,1006.5 1740.3,1004.6 1792.9,1002.4 1844.5,999.8 1895.3,996.9 1901.1,1002.2 1850.3,1005.2 1798.6,1007.9 1745.9,1010.2 1692.3,1012.1 1637.7,1013.6 1582.1,1014.7 1525.4,1015.4 1467.7,1015.7 1408.9,1015.6 1348.9,1015.1" fill="url(#g529)"/><polygon points="1348.3,1014.3 1408.2,1014.9 1467,1015 1524.7,1014.7 1581.4,1014 1637,1012.9 1691.6,1011.3 1745.2,1009.5 1797.8,1007.2 1849.5,1004.5 1900.4,1001.5 1906.2,1006.9 1855.3,1009.9 1803.5,1012.6 1750.8,1015 1697.1,1016.9 1642.4,1018.5 1586.7,1019.7 1530,1020.5 1472.2,1020.8 1413.2,1020.8 1353.2,1020.3" fill="url(#g530)"/><polygon points="1352.5,1019.5 1412.6,1020 1471.5,1020.1 1529.3,1019.7 1586,1018.9 1641.7,1017.8 1696.4,1016.2 1750.1,1014.2 1802.8,1011.9 1854.6,1009.2 1905.5,1006.2 1911.4,1011.5 1860.4,1014.6 1808.6,1017.3 1755.8,1019.7 1702,1021.7 1647.2,1023.4 1591.4,1024.6 1534.6,1025.4 1476.7,1025.9 1417.6,1025.9 1357.5,1025.4" fill="url(#g531)"/><polygon points="1356.8,1024.6 1417,1025.1 1476,1025.1 1533.9,1024.7 1590.7,1023.9 1646.5,1022.6 1701.3,1021 1755,1019 1807.8,1016.6 1859.7,1013.9 1910.6,1010.8 1916.5,1016 1865.5,1019.2 1813.6,1022 1760.7,1024.4 1706.9,1026.5 1652,1028.2 1596.2,1029.5 1539.2,1030.4 1481.2,1030.9 1422.1,1030.9 1361.8,1030.5" fill="url(#g532)"/><polygon points="1361.2,1029.8 1421.4,1030.2 1480.5,1030.1 1538.5,1029.6 1595.5,1028.8 1651.3,1027.5 1706.1,1025.8 1760,1023.7 1812.8,1021.3 1864.7,1018.5 1915.8,1015.3 1921.7,1020.5 1870.6,1023.8 1818.6,1026.6 1765.7,1029.1 1711.8,1031.3 1656.9,1033 1600.9,1034.4 1543.9,1035.3 1485.8,1035.8 1426.5,1035.9 1366.1,1035.6" fill="url(#g533)"/><polygon points="1365.5,1034.8 1425.9,1035.2 1485.1,1035.1 1543.2,1034.6 1600.2,1033.6 1656.1,1032.3 1711.1,1030.6 1765,1028.4 1817.9,1025.9 1869.9,1023.1 1920.9,1019.9 1926.9,1025 1875.8,1028.3 1823.7,1031.2 1770.7,1033.8 1716.7,1036 1661.7,1037.8 1605.7,1039.2 1548.6,1040.2 1490.3,1040.8 1431,1040.9 1370.5,1040.7" fill="url(#g534)"/><polygon points="1369.8,1039.9 1430.3,1040.2 1489.6,1040 1547.9,1039.5 1605,1038.5 1661,1037.1 1716,1035.3 1770,1033.1 1823,1030.5 1875,1027.6 1926.1,1024.4 1932.2,1029.5 1881,1032.8 1828.8,1035.8 1775.8,1038.4 1721.7,1040.7 1666.6,1042.5 1610.5,1044 1553.3,1045 1494.9,1045.7 1435.5,1045.9 1374.9,1045.7" fill="url(#g535)"/><polygon points="1374.2,1044.9 1434.8,1045.2 1494.2,1044.9 1552.5,1044.3 1609.7,1043.3 1665.9,1041.8 1720.9,1040 1775,1037.7 1828.1,1035.1 1880.2,1032.1 1931.4,1028.8 1937.4,1033.9 1886.2,1037.3 1834,1040.3 1780.8,1043 1726.7,1045.3 1671.5,1047.2 1615.3,1048.7 1558,1049.8 1499.6,1050.6 1440,1050.8 1379.3,1050.7" fill="url(#g536)"/><polygon points="1378.6,1049.9 1439.3,1050.1 1498.9,1049.8 1557.3,1049.1 1614.6,1048 1670.8,1046.5 1725.9,1044.6 1780.1,1042.3 1833.2,1039.7 1885.4,1036.6 1936.7,1033.2 1942.7,1038.3 1891.4,1041.7 1839.1,1044.8 1785.9,1047.6 1731.7,1049.9 1676.4,1051.9 1620.1,1053.5 1562.7,1054.6 1504.2,1055.4 1444.5,1055.7 1383.7,1055.6" fill="url(#g537)"/><polygon points="1383,1054.9 1443.8,1055 1503.5,1054.7 1562,1053.9 1619.4,1052.8 1675.7,1051.2 1730.9,1049.2 1785.1,1046.9 1838.4,1044.2 1890.6,1041.1 1941.9,1037.6 1948.1,1042.6 1896.7,1046.1 1844.3,1049.3 1791,1052.1 1736.7,1054.5 1681.4,1056.5 1625,1058.1 1567.5,1059.4 1508.9,1060.2 1449.1,1060.6 1388.1,1060.5" fill="url(#g538)"/><polygon points="1387.5,1059.8 1448.4,1059.9 1508.2,1059.5 1566.8,1058.7 1624.2,1057.4 1680.6,1055.8 1736,1053.8 1790.3,1051.4 1843.5,1048.6 1895.9,1045.5 1947.3,1042 1953.4,1046.9 1902,1050.5 1849.5,1053.7 1796.2,1056.6 1741.8,1059 1686.4,1061.1 1629.9,1062.8 1572.3,1064.1 1513.5,1065 1453.7,1065.4 1392.6,1065.4" fill="url(#g539)"/><polygon points="1391.9,1064.7 1453,1064.7 1512.8,1064.3 1571.5,1063.4 1629.1,1062.1 1685.6,1060.4 1741,1058.3 1795.4,1055.9 1848.8,1053.1 1901.2,1049.9 1952.6,1046.3 1958.8,1051.2 1907.3,1054.8 1854.8,1058.1 1801.3,1061 1746.9,1063.5 1691.4,1065.7 1634.8,1067.4 1577.1,1068.8 1518.2,1069.7 1458.2,1070.2 1397.1,1070.3" fill="url(#g540)"/><polygon points="1396.4,1069.6 1457.6,1069.5 1517.5,1069 1576.4,1068.1 1634,1066.7 1690.6,1065 1746.1,1062.9 1800.6,1060.3 1854,1057.5 1906.5,1054.2 1958,1050.6 1963.4,1054.8 1911.8,1058.5 1859.3,1061.8 1805.8,1064.8 1751.2,1067.3 1695.6,1069.5 1639,1071.3 1581.2,1072.7 1522.3,1073.7 1462.2,1074.3 1400.9,1074.4" fill="url(#g541)"/>
<path d="M1160.3 731.5L1215.7 734.6L1270.2 737.2L1324 739.4L1377 741.2L1429.2 742.5L1480.6 743.5L1531.3 744.1L1581.3 744.3L1630.6 744.2L1679.2 743.7M1163.9 738L1219.4 741L1274 743.6L1327.9 745.7L1380.9 747.5L1433.2 748.8L1484.7 749.7L1535.4 750.3L1585.5 750.5L1634.8 750.3L1683.4 749.7M1167.6 744.5L1223.1 747.4L1277.9 750L1331.8 752.1L1384.9 753.8L1437.2 755L1488.8 755.9L1539.6 756.4L1589.6 756.6L1639 756.3L1687.6 755.7M1171.3 750.9L1226.9 753.8L1281.7 756.3L1335.7 758.4L1388.8 760L1441.2 761.3L1492.8 762.1L1543.7 762.6L1593.8 762.6L1643.2 762.3L1691.9 761.7M1175 757.4L1230.7 760.2L1285.5 762.7L1339.6 764.7L1392.8 766.3L1445.3 767.5L1496.9 768.2L1547.8 768.7L1598 768.7L1647.4 768.3L1696.2 767.6M1178.6 763.8L1234.4 766.6L1289.4 769L1343.5 770.9L1396.8 772.5L1449.3 773.6L1501 774.4L1552 774.7L1602.2 774.7L1651.7 774.3L1700.5 773.6M1182.3 770.2L1238.2 772.9L1293.2 775.3L1347.4 777.2L1400.8 778.7L1453.4 779.8L1505.2 780.5L1556.2 780.8L1606.4 780.7L1655.9 780.3L1704.8 779.4M1186 776.5L1242 779.2L1297.1 781.5L1351.4 783.4L1404.8 784.8L1457.4 785.9L1509.3 786.5L1560.3 786.8L1610.7 786.7L1660.2 786.2L1709.1 785.3M1189.8 782.9L1245.8 785.5L1301 787.8L1355.3 789.6L1408.8 791L1461.5 792L1513.4 792.6L1564.5 792.8L1614.9 792.6L1664.5 792.1L1713.4 791.2M1193.5 789.2L1249.6 791.8L1304.9 794L1359.3 795.7L1412.9 797.1L1465.6 798L1517.6 798.6L1568.7 798.7L1619.1 798.5L1668.8 797.9L1717.7 797M1197.2 795.4L1253.4 798L1308.8 800.2L1363.3 801.9L1416.9 803.2L1469.7 804.1L1521.7 804.6L1573 804.7L1623.4 804.4L1673.1 803.8L1722.1 802.8M1201 801.7L1257.3 804.2L1312.7 806.3L1367.3 808L1421 809.2L1473.9 810.1L1525.9 810.5L1577.2 810.6L1627.7 810.3L1677.4 809.6L1726.4 808.5M1204.7 807.9L1261.1 810.4L1316.6 812.4L1371.2 814.1L1425 815.3L1478 816.1L1530.1 816.5L1581.4 816.5L1632 816.1L1681.8 815.4L1730.8 814.3M1208.5 814.2L1265 816.6L1320.5 818.6L1375.3 820.1L1429.1 821.3L1482.1 822L1534.3 822.4L1585.7 822.3L1636.3 821.9L1686.1 821.1L1735.2 820M1212.3 820.3L1268.8 822.7L1324.5 824.6L1379.3 826.2L1433.2 827.3L1486.3 828L1538.5 828.3L1590 828.2L1640.6 827.7L1690.5 826.9L1739.6 825.7M1216 826.5L1272.7 828.8L1328.4 830.7L1383.3 832.2L1437.3 833.2L1490.5 833.9L1542.8 834.1L1594.3 834L1645 833.5L1694.9 832.6L1744.1 831.3M1219.8 832.6L1276.6 834.9L1332.4 836.7L1387.4 838.1L1441.4 839.1L1494.6 839.7L1547 839.9L1598.6 839.8L1649.3 839.2L1699.3 838.2L1748.5 836.9M1223.6 838.7L1280.5 841L1336.4 842.7L1391.4 844.1L1445.6 845L1498.8 845.6L1551.3 845.7L1602.9 845.5L1653.7 844.9L1703.7 843.9L1752.9 842.5M1227.5 844.8L1284.4 847L1340.4 848.7L1395.5 850L1449.7 850.9L1503 851.4L1555.5 851.5L1607.2 851.2L1658.1 850.6L1708.1 849.5L1757.4 848.1M1231.3 850.9L1288.3 853L1344.4 854.7L1399.6 855.9L1453.9 856.8L1507.3 857.2L1559.8 857.3L1611.5 856.9L1662.5 856.2L1712.6 855.1L1761.9 853.7M1235.1 856.9L1292.2 859L1348.4 860.6L1403.7 861.8L1458 862.6L1511.5 863L1564.1 863L1615.9 862.6L1666.9 861.8L1717 860.7L1766.4 859.2M1239 862.9L1296.2 864.9L1352.4 866.5L1407.8 867.7L1462.2 868.4L1515.8 868.7L1568.4 868.7L1620.3 868.2L1671.3 867.4L1721.5 866.2L1770.9 864.7M1242.8 868.9L1300.1 870.8L1356.5 872.4L1411.9 873.5L1466.4 874.2L1520 874.5L1572.8 874.3L1624.7 873.8L1675.7 873L1726 871.7L1775.5 870.1M1246.7 874.8L1304.1 876.7L1360.5 878.2L1416 879.3L1470.6 879.9L1524.3 880.1L1577.1 880L1629.1 879.4L1680.2 878.5L1730.5 877.2L1780 875.6M1250.6 880.7L1308.1 882.6L1364.6 884L1420.2 885L1474.9 885.6L1528.6 885.8L1581.5 885.6L1633.5 885L1684.7 884L1735 882.7L1784.6 881M1254.5 886.6L1312.1 888.4L1368.7 889.8L1424.4 890.8L1479.1 891.3L1532.9 891.4L1585.9 891.2L1637.9 890.5L1689.2 889.5L1739.6 888.1L1789.2 886.3M1258.4 892.5L1316.1 894.3L1372.8 895.6L1428.5 896.5L1483.4 897L1537.3 897L1590.3 896.7L1642.4 896L1693.7 894.9L1744.1 893.5L1793.8 891.7M1262.4 898.3L1320.1 900L1376.9 901.3L1432.7 902.2L1487.6 902.6L1541.6 902.6L1594.7 902.2L1646.9 901.5L1698.2 900.4L1748.7 898.9L1798.4 897M1266.3 904.2L1324.2 905.8L1381 907L1437 907.8L1491.9 908.2L1546 908.2L1599.1 907.7L1651.4 906.9L1702.8 905.8L1753.3 904.2L1803.1 902.3M1270.3 909.9L1328.2 911.5L1385.2 912.7L1441.2 913.4L1496.2 913.8L1550.3 913.7L1603.5 913.2L1655.9 912.4L1707.3 911.1L1757.9 909.5L1807.7 907.5M1274.2 915.7L1332.3 917.2L1389.3 918.4L1445.4 919L1500.5 919.3L1554.7 919.2L1608 918.6L1660.4 917.7L1711.9 916.4L1762.6 914.8L1812.4 912.8M1278.2 921.4L1336.4 922.9L1393.5 924L1449.7 924.6L1504.9 924.8L1559.1 924.6L1612.5 924.1L1664.9 923.1L1716.5 921.7L1767.2 920L1817.1 918M1282.2 927.1L1340.5 928.6L1397.7 929.6L1454 930.1L1509.2 930.3L1563.6 930.1L1617 929.4L1669.5 928.4L1721.1 927L1771.9 925.3L1821.9 923.1M1286.2 932.8L1344.6 934.2L1401.9 935.1L1458.2 935.7L1513.6 935.8L1568 935.5L1621.5 934.8L1674.1 933.7L1725.8 932.3L1776.6 930.4L1826.6 928.3M1290.2 938.4L1348.7 939.8L1406.1 940.7L1462.5 941.1L1518 941.2L1572.5 940.8L1626 940.1L1678.7 939L1730.4 937.5L1781.3 935.6L1831.4 933.4M1294.3 944.1L1352.8 945.3L1410.4 946.2L1466.9 946.6L1522.4 946.6L1577 946.2L1630.6 945.4L1683.3 944.2L1735.1 942.7L1786 940.7L1836.1 938.4M1298.3 949.6L1357 950.9L1414.6 951.6L1471.2 952L1526.8 952L1581.5 951.5L1635.2 950.7L1687.9 949.4L1739.8 947.8L1790.8 945.8L1841 943.5M1302.4 955.2L1361.2 956.4L1418.9 957.1L1475.6 957.4L1531.3 957.3L1586 956.8L1639.7 955.9L1692.6 954.6L1744.5 952.9L1795.6 950.9L1845.8 948.5M1306.5 960.7L1365.4 961.8L1423.2 962.5L1479.9 962.8L1535.7 962.6L1590.5 962L1644.3 961.1L1697.3 959.7L1749.2 958L1800.4 955.9L1850.6 953.5M1310.6 966.2L1369.6 967.3L1427.5 967.9L1484.3 968.1L1540.2 967.9L1595.1 967.3L1649 966.2L1701.9 964.9L1754 963.1L1805.2 960.9L1855.5 958.4M1314.7 971.7L1373.8 972.7L1431.8 973.3L1488.7 973.4L1544.7 973.1L1599.6 972.5L1653.6 971.4L1706.7 969.9L1758.8 968.1L1810 965.9L1860.4 963.3M1318.8 977.1L1378 978.1L1436.1 978.6L1493.2 978.7L1549.2 978.3L1604.2 977.6L1658.3 976.5L1711.4 975L1763.6 973.1L1814.9 970.8L1865.3 968.2M1323 982.5L1382.3 983.4L1440.5 983.9L1497.6 983.9L1553.7 983.5L1608.8 982.7L1663 981.6L1716.2 980L1768.4 978.1L1819.8 975.8L1870.2 973.1M1327.2 987.9L1386.5 988.7L1444.8 989.1L1502.1 989.1L1558.3 988.7L1613.5 987.8L1667.7 986.6L1720.9 985L1773.2 983L1824.7 980.6L1875.2 977.9M1331.4 993.2L1390.8 994L1449.2 994.4L1506.6 994.3L1562.9 993.8L1618.1 992.9L1672.4 991.6L1725.7 989.9L1778.1 987.9L1829.6 985.5L1880.2 982.7M1335.6 998.5L1395.2 999.3L1453.7 999.6L1511.1 999.4L1567.5 998.9L1622.8 997.9L1677.2 996.6L1730.6 994.9L1783 992.8L1834.5 990.3L1885.2 987.5M1339.8 1003.8L1399.5 1004.5L1458.1 1004.7L1515.6 1004.6L1572.1 1004L1627.5 1002.9L1681.9 1001.5L1735.4 999.8L1787.9 997.6L1839.5 995.1L1890.2 992.2M1344 1009.1L1403.8 1009.7L1462.5 1009.9L1520.1 1009.6L1576.7 1009L1632.2 1007.9L1686.7 1006.5L1740.3 1004.6L1792.9 1002.4L1844.5 999.8L1895.3 996.9M1348.3 1014.3L1408.2 1014.9L1467 1015L1524.7 1014.7L1581.4 1014L1637 1012.9L1691.6 1011.3L1745.2 1009.5L1797.8 1007.2L1849.5 1004.5L1900.4 1001.5M1352.5 1019.5L1412.6 1020L1471.5 1020.1L1529.3 1019.7L1586 1018.9L1641.7 1017.8L1696.4 1016.2L1750.1 1014.2L1802.8 1011.9L1854.6 1009.2L1905.5 1006.2M1356.8 1024.6L1417 1025.1L1476 1025.1L1533.9 1024.7L1590.7 1023.9L1646.5 1022.6L1701.3 1021L1755 1019L1807.8 1016.6L1859.7 1013.9L1910.6 1010.8M1361.2 1029.8L1421.4 1030.2L1480.5 1030.1L1538.5 1029.6L1595.5 1028.8L1651.3 1027.5L1706.1 1025.8L1760 1023.7L1812.8 1021.3L1864.7 1018.5L1915.8 1015.3M1365.5 1034.8L1425.9 1035.2L1485.1 1035.1L1543.2 1034.6L1600.2 1033.6L1656.1 1032.3L1711.1 1030.6L1765 1028.4L1817.9 1025.9L1869.9 1023.1L1920.9 1019.9M1369.8 1039.9L1430.3 1040.2L1489.6 1040L1547.9 1039.5L1605 1038.5L1661 1037.1L1716 1035.3L1770 1033.1L1823 1030.5L1875 1027.6L1926.1 1024.4M1374.2 1044.9L1434.8 1045.2L1494.2 1044.9L1552.5 1044.3L1609.7 1043.3L1665.9 1041.8L1720.9 1040L1775 1037.7L1828.1 1035.1L1880.2 1032.1L1931.4 1028.8M1378.6 1049.9L1439.3 1050.1L1498.9 1049.8L1557.3 1049.1L1614.6 1048L1670.8 1046.5L1725.9 1044.6L1780.1 1042.3L1833.2 1039.7L1885.4 1036.6L1936.7 1033.2M1383 1054.9L1443.8 1055L1503.5 1054.7L1562 1053.9L1619.4 1052.8L1675.7 1051.2L1730.9 1049.2L1785.1 1046.9L1838.4 1044.2L1890.6 1041.1L1941.9 1037.6M1387.5 1059.8L1448.4 1059.9L1508.2 1059.5L1566.8 1058.7L1624.2 1057.4L1680.6 1055.8L1736 1053.8L1790.3 1051.4L1843.5 1048.6L1895.9 1045.5L1947.3 1042M1391.9 1064.7L1453 1064.7L1512.8 1064.3L1571.5 1063.4L1629.1 1062.1L1685.6 1060.4L1741 1058.3L1795.4 1055.9L1848.8 1053.1L1901.2 1049.9L1952.6 1046.3M1396.4 1069.6L1457.6 1069.5L1517.5 1069L1576.4 1068.1L1634 1066.7L1690.6 1065L1746.1 1062.9L1800.6 1060.3L1854 1057.5L1906.5 1054.2L1958 1050.6M1400.9 1074.4L1462.2 1074.3L1522.3 1073.7L1581.2 1072.7L1639 1071.3L1695.6 1069.5L1751.2 1067.3L1805.8 1064.8L1859.3 1061.8L1911.8 1058.5L1963.4 1054.8M1160.3 731.5L1182.3 770.2L1204.7 807.9L1227.5 844.8L1250.6 880.7L1274.2 915.7L1298.3 949.6L1323 982.5L1348.3 1014.3L1374.2 1044.9L1400.9 1074.4M1169.6 732L1191.7 770.7L1214.2 808.4L1237 845.2L1260.3 881.1L1284 916L1308.2 949.9L1333 982.7L1358.3 1014.4L1384.4 1045L1411.2 1074.4M1178.8 732.6L1201.1 771.1L1223.6 808.8L1246.5 845.6L1269.9 881.4L1293.7 916.3L1318 950.1L1342.9 982.9L1368.4 1014.5L1394.5 1045.1L1421.4 1074.4M1188.1 733.1L1210.4 771.6L1233 809.2L1256 846L1279.5 881.7L1303.4 916.5L1327.8 950.3L1352.8 983L1378.4 1014.6L1404.7 1045.1L1431.7 1074.4M1197.3 733.6L1219.7 772.1L1242.4 809.6L1265.5 846.3L1289 882L1313 916.8L1337.6 950.5L1362.6 983.2L1388.3 1014.7L1414.7 1045.1L1441.9 1074.3M1206.5 734.1L1229 772.5L1251.8 810L1275 846.7L1298.6 882.3L1322.7 917L1347.3 950.7L1372.5 983.3L1398.3 1014.8L1424.8 1045.2L1452 1074.3M1215.7 734.6L1238.2 772.9L1261.1 810.4L1284.4 847L1308.1 882.6L1332.3 917.2L1357 950.9L1382.3 983.4L1408.2 1014.9L1434.8 1045.2L1462.2 1074.3M1224.8 735L1247.4 773.3L1270.4 810.8L1293.8 847.3L1317.6 882.9L1341.9 917.5L1366.7 951L1392 983.5L1418.1 1014.9L1444.8 1045.2L1472.3 1074.2M1233.9 735.5L1256.6 773.7L1279.7 811.1L1303.2 847.6L1327 883.1L1351.4 917.7L1376.3 951.2L1401.8 983.6L1427.9 1014.9L1454.7 1045.1L1482.3 1074.1M1243 735.9L1265.8 774.1L1289 811.5L1312.5 847.9L1336.5 883.4L1360.9 917.9L1385.9 951.3L1411.5 983.7L1437.7 1015L1464.7 1045.1L1492.4 1074M1252.1 736.3L1275 774.5L1298.2 811.8L1321.8 848.2L1345.9 883.6L1370.4 918L1395.5 951.4L1421.2 983.8L1447.5 1015L1474.6 1045.1L1502.4 1073.9M1261.2 736.8L1284.1 774.9L1307.4 812.1L1331.1 848.5L1355.3 883.8L1379.9 918.2L1405.1 951.5L1430.8 983.8L1457.3 1015L1484.4 1045L1512.3 1073.8M1270.2 737.2L1293.2 775.3L1316.6 812.4L1340.4 848.7L1364.6 884L1389.3 918.4L1414.6 951.6L1440.5 983.9L1467 1015L1494.2 1044.9L1522.3 1073.7M1279.2 737.6L1302.3 775.6L1325.8 812.7L1349.6 849L1373.9 884.2L1398.8 918.5L1424.1 951.7L1450.1 983.9L1476.7 1015L1504 1044.9L1532.2 1073.6M1288.2 738L1311.4 775.9L1334.9 813L1358.9 849.2L1383.2 884.4L1408.1 918.6L1433.6 951.8L1459.6 983.9L1486.4 1014.9L1513.8 1044.8L1542 1073.4M1297.2 738.3L1320.4 776.3L1344 813.3L1368.1 849.4L1392.5 884.6L1417.5 918.7L1443 951.9L1469.2 983.9L1496 1014.9L1523.5 1044.7L1551.9 1073.3M1306.2 738.7L1329.5 776.6L1353.1 813.6L1377.2 849.6L1401.8 884.7L1426.8 918.9L1452.5 951.9L1478.7 983.9L1505.6 1014.8L1533.2 1044.6L1561.7 1073.1M1315.1 739L1338.5 776.9L1362.2 813.8L1386.4 849.8L1411 884.9L1436.1 919L1461.8 952L1488.2 983.9L1515.2 1014.8L1542.9 1044.4L1571.4 1072.9M1324 739.4L1347.4 777.2L1371.2 814.1L1395.5 850L1420.2 885L1445.4 919L1471.2 952L1497.6 983.9L1524.7 1014.7L1552.5 1044.3L1581.2 1072.7M1332.9 739.7L1356.4 777.4L1380.3 814.3L1404.6 850.2L1429.4 885.2L1454.7 919.1L1480.5 952L1507 983.9L1534.2 1014.6L1562.2 1044.2L1590.9 1072.5M1341.7 740L1365.3 777.7L1389.3 814.5L1413.7 850.4L1438.5 885.3L1463.9 919.2L1489.9 952L1516.4 983.8L1543.7 1014.5L1571.7 1044L1600.6 1072.3M1350.6 740.3L1374.2 778L1398.2 814.7L1422.7 850.5L1447.6 885.4L1473.1 919.2L1499.1 952L1525.8 983.8L1553.2 1014.4L1581.3 1043.8L1610.2 1072.1M1359.4 740.6L1383.1 778.2L1407.2 814.9L1431.7 850.7L1456.7 885.5L1482.3 919.3L1508.4 952L1535.1 983.7L1562.6 1014.3L1590.8 1043.7L1619.8 1071.8M1368.2 740.9L1392 778.4L1416.1 815.1L1440.7 850.8L1465.8 885.5L1491.4 919.3L1517.6 952L1544.5 983.6L1572 1014.1L1600.3 1043.5L1629.4 1071.6M1377 741.2L1400.8 778.7L1425 815.3L1449.7 850.9L1474.9 885.6L1500.5 919.3L1526.8 952L1553.7 983.5L1581.4 1014L1609.7 1043.3L1639 1071.3M1385.7 741.4L1409.6 778.9L1433.9 815.4L1458.7 851L1483.9 885.7L1509.6 919.3L1536 951.9L1563 983.4L1590.7 1013.8L1619.2 1043L1648.5 1071.1M1394.5 741.7L1418.4 779.1L1442.8 815.6L1467.6 851.1L1492.9 885.7L1518.7 919.3L1545.1 951.9L1572.2 983.3L1600 1013.6L1628.6 1042.8L1658 1070.8M1403.2 741.9L1427.2 779.3L1451.6 815.7L1476.5 851.2L1501.8 885.8L1527.8 919.3L1554.3 951.8L1581.4 983.2L1609.3 1013.5L1637.9 1042.6L1667.4 1070.5M1411.9 742.1L1435.9 779.4L1460.4 815.8L1485.4 851.3L1510.8 885.8L1536.8 919.3L1563.4 951.7L1590.6 983L1618.5 1013.3L1647.3 1042.3L1676.9 1070.2M1420.5 742.3L1444.7 779.6L1469.2 816L1494.2 851.4L1519.7 885.8L1545.8 919.2L1572.4 951.6L1599.7 982.9L1627.8 1013.1L1656.6 1042.1L1686.3 1069.9M1429.2 742.5L1453.4 779.8L1478 816.1L1503 851.4L1528.6 885.8L1554.7 919.2L1581.5 951.5L1608.8 982.7L1637 1012.9L1665.9 1041.8L1695.6 1069.5M1437.8 742.7L1462.1 779.9L1486.7 816.2L1511.9 851.5L1537.5 885.8L1563.7 919.1L1590.5 951.4L1617.9 982.6L1646.1 1012.6L1675.1 1041.5L1705 1069.2M1446.4 742.9L1470.7 780L1495.5 816.2L1520.6 851.5L1546.3 885.8L1572.6 919L1599.5 951.3L1627 982.4L1655.3 1012.4L1684.3 1041.2L1714.3 1068.8M1455 743.1L1479.4 780.2L1504.1 816.3L1529.4 851.5L1555.2 885.7L1581.5 919L1608.4 951.1L1636 982.2L1664.4 1012.2L1693.5 1040.9L1723.6 1068.5M1463.6 743.2L1488 780.3L1512.8 816.4L1538.1 851.5L1564 885.7L1590.3 918.9L1617.4 951L1645 982L1673.5 1011.9L1702.7 1040.6L1732.8 1068.1M1472.1 743.4L1496.6 780.4L1521.5 816.4L1546.8 851.5L1572.7 885.7L1599.2 918.8L1626.3 950.8L1654 981.8L1682.5 1011.6L1711.8 1040.3L1742 1067.7M1480.6 743.5L1505.2 780.5L1530.1 816.5L1555.5 851.5L1581.5 885.6L1608 918.6L1635.2 950.7L1663 981.6L1691.6 1011.3L1720.9 1040L1751.2 1067.3M1489.1 743.7L1513.7 780.5L1538.7 816.5L1564.2 851.5L1590.2 885.5L1616.8 918.5L1644 950.5L1671.9 981.3L1700.6 1011.1L1730 1039.6L1760.4 1066.9M1497.6 743.8L1522.2 780.6L1547.3 816.5L1572.9 851.5L1598.9 885.4L1625.6 918.4L1652.8 950.3L1680.8 981.1L1709.5 1010.8L1739.1 1039.3L1769.5 1066.5M1506.1 743.9L1530.8 780.7L1555.9 816.5L1581.5 851.4L1607.6 885.3L1634.3 918.2L1661.6 950.1L1689.7 980.8L1718.5 1010.4L1748.1 1038.9L1778.6 1066.1M1514.5 744L1539.2 780.7L1564.4 816.5L1590.1 851.4L1616.3 885.2L1643 918.1L1670.4 949.9L1698.5 980.6L1727.4 1010.1L1757.1 1038.5L1787.7 1065.7M1522.9 744.1L1547.7 780.7L1572.9 816.5L1598.6 851.3L1624.9 885.1L1651.7 917.9L1679.2 949.7L1707.4 980.3L1736.3 1009.8L1766.1 1038.1L1796.7 1065.2M1531.3 744.1L1556.2 780.8L1581.4 816.5L1607.2 851.2L1633.5 885L1660.4 917.7L1687.9 949.4L1716.2 980L1745.2 1009.5L1775 1037.7L1805.8 1064.8M1539.7 744.2L1564.6 780.8L1589.9 816.4L1615.7 851.1L1642.1 884.9L1669 917.5L1696.6 949.2L1724.9 979.7L1754 1009.1L1783.9 1037.3L1814.7 1064.3M1548.1 744.2L1573 780.8L1598.4 816.4L1624.2 851L1650.7 884.7L1677.7 917.3L1705.3 948.9L1733.7 979.4L1762.8 1008.7L1792.8 1036.9L1823.7 1063.8M1556.4 744.3L1581.4 780.8L1606.8 816.3L1632.7 850.9L1659.2 884.6L1686.3 917.1L1714 948.7L1742.4 979.1L1771.6 1008.4L1801.7 1036.5L1832.6 1063.3M1564.7 744.3L1589.8 780.8L1615.2 816.3L1641.2 850.8L1667.7 884.4L1694.8 916.9L1722.6 948.4L1751.1 978.8L1780.4 1008L1810.5 1036L1841.5 1062.8M1573 744.3L1598.1 780.7L1623.6 816.2L1649.6 850.7L1676.2 884.2L1703.4 916.7L1731.2 948.1L1759.8 978.4L1789.1 1007.6L1819.3 1035.6L1850.4 1062.3M1581.3 744.3L1606.4 780.7L1632 816.1L1658.1 850.6L1684.7 884L1711.9 916.4L1739.8 947.8L1768.4 978.1L1797.8 1007.2L1828.1 1035.1L1859.3 1061.8M1589.6 744.3L1614.7 780.6L1640.3 816L1666.5 850.4L1693.1 883.8L1720.4 916.2L1748.4 947.5L1777 977.7L1806.5 1006.8L1836.8 1034.6L1868.1 1061.3M1597.8 744.3L1623 780.6L1648.7 815.9L1674.8 850.3L1701.6 883.6L1728.9 915.9L1756.9 947.2L1785.6 977.3L1815.2 1006.3L1845.5 1034.2L1876.9 1060.7M1606 744.3L1631.3 780.5L1657 815.8L1683.2 850.1L1710 883.4L1737.3 915.7L1765.4 946.9L1794.2 977L1823.8 1005.9L1854.2 1033.7L1885.7 1060.2M1614.2 744.3L1639.5 780.4L1665.3 815.7L1691.5 849.9L1718.3 883.2L1745.8 915.4L1773.9 946.5L1802.7 976.6L1832.4 1005.5L1862.9 1033.2L1894.4 1059.6M1622.4 744.2L1647.7 780.4L1673.5 815.5L1699.8 849.7L1726.7 882.9L1754.2 915.1L1782.4 946.2L1811.3 976.2L1841 1005L1871.6 1032.7L1903.1 1059.1M1630.6 744.2L1655.9 780.3L1681.8 815.4L1708.1 849.5L1735 882.7L1762.6 914.8L1790.8 945.8L1819.8 975.8L1849.5 1004.5L1880.2 1032.1L1911.8 1058.5M1638.7 744.1L1664.1 780.1L1690 815.2L1716.4 849.3L1743.4 882.4L1770.9 914.5L1799.2 945.5L1828.2 975.3L1858.1 1004.1L1888.8 1031.6L1920.5 1057.9M1646.9 744.1L1672.3 780L1698.2 815L1724.6 849.1L1751.6 882.1L1779.3 914.1L1807.6 945.1L1836.7 974.9L1866.6 1003.6L1897.4 1031.1L1929.1 1057.3M1655 744L1680.4 779.9L1706.4 814.9L1732.9 848.9L1759.9 881.9L1787.6 913.8L1816 944.7L1845.1 974.5L1875.1 1003.1L1905.9 1030.5L1937.7 1056.7M1663.1 743.9L1688.6 779.8L1714.6 814.7L1741.1 848.6L1768.2 881.6L1795.9 913.5L1824.3 944.3L1853.5 974L1883.5 1002.6L1914.4 1030L1946.3 1056.1M1671.1 743.8L1696.7 779.6L1722.7 814.5L1749.3 848.4L1776.4 881.3L1804.2 913.1L1832.7 943.9L1861.9 973.6L1892 1002.1L1922.9 1029.4L1954.9 1055.5M1679.2 743.7L1704.8 779.4L1730.8 814.3L1757.4 848.1L1784.6 881L1812.4 912.8L1841 943.5L1870.2 973.1L1900.4 1001.5L1931.4 1028.8L1963.4 1054.8" fill="none" stroke="url(#g542)" stroke-width="1" shape-rendering="crispEdges"/>
<polyline points="1160,727 1680,688.8 1984,774.5" fill="none" stroke="#666" stroke-width="1.4"/>
<polyline points="1984,774.5 1956.2,1152" fill="none" stroke="#666" stroke-width="1.4"/>
<polyline points="1160,727 1183,1080 1405,1234.5 1956.2,1152" fill="none" stroke="#222" stroke-width="1.3"/>
<ellipse cx="1429.2" cy="742.5" rx="6" ry="4.5" fill="#d11010" stroke="#7a0b0b" stroke-width="1"/>
<ellipse cx="1274.2" cy="915.7" rx="6" ry="4.5" fill="#d11010" stroke="#7a0b0b" stroke-width="1"/>
<ellipse cx="1812.4" cy="912.8" rx="6" ry="4.5" fill="#d11010" stroke="#7a0b0b" stroke-width="1"/>
<ellipse cx="1695.6" cy="1069.5" rx="6" ry="4.5" fill="#d11010" stroke="#7a0b0b" stroke-width="1"/>
<rect x="1549.7" y="917.7" width="10" height="3.4" fill="#d8a8a8"/><rect x="1549.2" y="916.2" width="11" height="1.6" fill="#111"/>
<circle cx="1160" cy="727" r="2" fill="#222"/>
<text x="1147" y="746.3" font-size="20" text-anchor="end" fill="#2a2a2a" textLength="33.9" lengthAdjust="spacingAndGlyphs">28.1</text>
<circle cx="1164.4" cy="794.2" r="2" fill="#222"/>
<text x="1151.4" y="813.5" font-size="20" text-anchor="end" fill="#2a2a2a" textLength="53.2" lengthAdjust="spacingAndGlyphs">27.675</text>
<circle cx="1168.7" cy="860.5" r="2" fill="#222"/>
<text x="1155.7" y="879.8" font-size="20" text-anchor="end" fill="#2a2a2a" textLength="43.5" lengthAdjust="spacingAndGlyphs">27.25</text>
<circle cx="1173.1" cy="928.8" r="2" fill="#222"/>
<text x="1160.1" y="948" font-size="20" text-anchor="end" fill="#2a2a2a" textLength="53.2" lengthAdjust="spacingAndGlyphs">26.825</text>
<circle cx="1177.5" cy="995.5" r="2" fill="#222"/>
<text x="1164.5" y="1014.8" font-size="20" text-anchor="end" fill="#2a2a2a" textLength="33.9" lengthAdjust="spacingAndGlyphs">26.4</text>
<text x="1170.9" y="1099" font-size="20" text-anchor="end" fill="#2a2a2a" textLength="43.5" lengthAdjust="spacingAndGlyphs">10.00</text>
<circle cx="1238.5" cy="1118.6" r="2" fill="#222"/>
<text x="1226.4" y="1137.6" font-size="20" text-anchor="end" fill="#2a2a2a" textLength="43.5" lengthAdjust="spacingAndGlyphs">12.50</text>
<circle cx="1294" cy="1157.2" r="2" fill="#222"/>
<text x="1281.9" y="1176.2" font-size="20" text-anchor="end" fill="#2a2a2a" textLength="43.5" lengthAdjust="spacingAndGlyphs">15.00</text>
<circle cx="1349.5" cy="1195.8" r="2" fill="#222"/>
<text x="1337.4" y="1214.8" font-size="20" text-anchor="end" fill="#2a2a2a" textLength="43.5" lengthAdjust="spacingAndGlyphs">17.50</text>
<text x="1392.9" y="1253.4" font-size="20" text-anchor="end" fill="#2a2a2a" textLength="43.5" lengthAdjust="spacingAndGlyphs">20.00</text>
<text x="1417.1" y="1252.5" font-size="20" text-anchor="start" fill="#2a2a2a" textLength="33.9" lengthAdjust="spacingAndGlyphs">2.00</text>
<circle cx="1542.8" cy="1213.9" r="2" fill="#222"/>
<text x="1554.9" y="1231.9" font-size="20" text-anchor="start" fill="#2a2a2a" textLength="33.9" lengthAdjust="spacingAndGlyphs">2.50</text>
<circle cx="1680.6" cy="1193.3" r="2" fill="#222"/>
<text x="1692.7" y="1211.3" font-size="20" text-anchor="start" fill="#2a2a2a" textLength="33.9" lengthAdjust="spacingAndGlyphs">3.00</text>
<circle cx="1818.4" cy="1172.7" r="2" fill="#222"/>
<text x="1830.5" y="1190.7" font-size="20" text-anchor="start" fill="#2a2a2a" textLength="33.9" lengthAdjust="spacingAndGlyphs">3.50</text>
<text x="1968.3" y="1170.1" font-size="20" text-anchor="start" fill="#2a2a2a" textLength="33.9" lengthAdjust="spacingAndGlyphs">4.00</text>
<text x="1113" y="1201" font-size="27" text-anchor="middle" fill="#222" >B</text>
<text x="1786" y="1271" font-size="26" text-anchor="middle" fill="#222" >C</text>
<text transform="translate(1058,908.2) rotate(-90)" font-size="28" text-anchor="middle" fill="#222">(T)</text>
</svg>
</body></html>
